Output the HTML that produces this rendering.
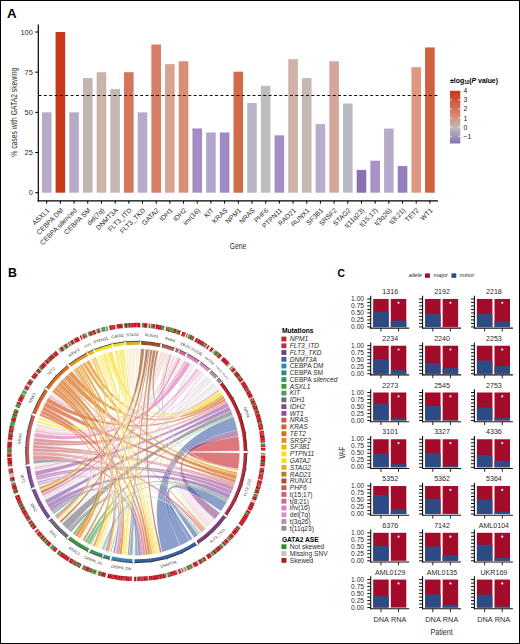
<!DOCTYPE html><html><head><meta charset="utf-8"><style>html,body{margin:0;padding:0;background:#fff;}body{width:520px;height:644px;overflow:hidden;position:relative;font-family:"Liberation Sans",sans-serif;}</style></head><body><svg width="520" height="644" viewBox="0 0 520 644" font-family='"Liberation Sans", sans-serif' style="position:absolute;left:0;top:0">
<rect x="0" y="0" width="520" height="644" fill="#fff"/>
<text x="7.1" y="17.6" font-size="12.1" font-weight="bold" fill="#000" textLength="9.6" lengthAdjust="spacingAndGlyphs">A</text>
<rect x="41.90" y="112.35" width="9.6" height="80.35" fill="#b6abc6"/>
<rect x="55.59" y="32.00" width="9.6" height="160.70" fill="#c8391b"/>
<rect x="69.27" y="112.35" width="9.6" height="80.35" fill="#b6abc6"/>
<rect x="82.96" y="78.12" width="9.6" height="114.58" fill="#c0b7b2"/>
<rect x="96.64" y="72.17" width="9.6" height="120.53" fill="#c9b4ab"/>
<rect x="110.33" y="89.05" width="9.6" height="103.65" fill="#c4b7b2"/>
<rect x="124.02" y="72.17" width="9.6" height="120.53" fill="#d5765a"/>
<rect x="137.70" y="112.35" width="9.6" height="80.35" fill="#b6a9cc"/>
<rect x="151.39" y="44.53" width="9.6" height="148.17" fill="#d77f66"/>
<rect x="165.07" y="64.14" width="9.6" height="128.56" fill="#d9a291"/>
<rect x="178.76" y="61.25" width="9.6" height="131.45" fill="#dc8b76"/>
<rect x="192.45" y="128.42" width="9.6" height="64.28" fill="#a48dc4"/>
<rect x="206.13" y="132.44" width="9.6" height="60.26" fill="#b3a4cc"/>
<rect x="219.82" y="132.44" width="9.6" height="60.26" fill="#a08ac3"/>
<rect x="233.50" y="71.69" width="9.6" height="121.01" fill="#d06a48"/>
<rect x="247.19" y="103.03" width="9.6" height="89.67" fill="#b7b4c5"/>
<rect x="260.88" y="85.83" width="9.6" height="106.87" fill="#bebcbd"/>
<rect x="274.56" y="135.33" width="9.6" height="57.37" fill="#a38dc5"/>
<rect x="288.25" y="59.16" width="9.6" height="133.54" fill="#cfb1a9"/>
<rect x="301.93" y="78.12" width="9.6" height="114.58" fill="#c6b7b2"/>
<rect x="315.62" y="124.08" width="9.6" height="68.62" fill="#b9abca"/>
<rect x="329.31" y="61.25" width="9.6" height="131.45" fill="#d7a69b"/>
<rect x="342.99" y="103.51" width="9.6" height="89.19" fill="#bab9c2"/>
<rect x="356.68" y="169.88" width="9.6" height="22.82" fill="#8a71b2"/>
<rect x="370.36" y="160.72" width="9.6" height="31.98" fill="#a892c8"/>
<rect x="384.05" y="128.58" width="9.6" height="64.12" fill="#b7abcb"/>
<rect x="397.74" y="166.02" width="9.6" height="26.68" fill="#9580bd"/>
<rect x="411.42" y="67.19" width="9.6" height="125.51" fill="#e09780"/>
<rect x="425.11" y="47.43" width="9.6" height="145.27" fill="#d0613e"/>
<line x1="38.5" y1="95.4" x2="438" y2="95.4" stroke="#111" stroke-width="1.05" stroke-dasharray="3 2.35"/>
<line x1="38.3" y1="24.4" x2="38.3" y2="201.4" stroke="#000" stroke-width="1.2"/>
<line x1="37.7" y1="200.85" x2="438" y2="200.85" stroke="#000" stroke-width="1.35"/>
<line x1="35.2" y1="192.70" x2="38.3" y2="192.70" stroke="#000" stroke-width="1"/>
<text x="32.8" y="195.30" font-size="7.4" text-anchor="end" fill="#2b2b2b">0</text>
<line x1="35.2" y1="152.52" x2="38.3" y2="152.52" stroke="#000" stroke-width="1"/>
<text x="32.8" y="155.12" font-size="7.4" text-anchor="end" fill="#2b2b2b">25</text>
<line x1="35.2" y1="112.35" x2="38.3" y2="112.35" stroke="#000" stroke-width="1"/>
<text x="32.8" y="114.95" font-size="7.4" text-anchor="end" fill="#2b2b2b">50</text>
<line x1="35.2" y1="72.17" x2="38.3" y2="72.17" stroke="#000" stroke-width="1"/>
<text x="32.8" y="74.77" font-size="7.4" text-anchor="end" fill="#2b2b2b">75</text>
<line x1="35.2" y1="32.00" x2="38.3" y2="32.00" stroke="#000" stroke-width="1"/>
<text x="32.8" y="34.60" font-size="7.4" text-anchor="end" fill="#2b2b2b">100</text>
<line x1="46.70" y1="200.8" x2="46.70" y2="203.7" stroke="#000" stroke-width="1"/>
<text transform="translate(50.00,210.80) rotate(-45)" font-size="6.8" text-anchor="end" fill="#2b2b2b">ASXL1</text>
<line x1="60.39" y1="200.8" x2="60.39" y2="203.7" stroke="#000" stroke-width="1"/>
<text transform="translate(63.69,210.80) rotate(-45)" font-size="6.8" text-anchor="end" fill="#2b2b2b">CEBPA DM</text>
<line x1="74.07" y1="200.8" x2="74.07" y2="203.7" stroke="#000" stroke-width="1"/>
<text transform="translate(77.37,210.80) rotate(-45)" font-size="6.8" text-anchor="end" fill="#2b2b2b">CEBPA silenced</text>
<line x1="87.76" y1="200.8" x2="87.76" y2="203.7" stroke="#000" stroke-width="1"/>
<text transform="translate(91.06,210.80) rotate(-45)" font-size="6.8" text-anchor="end" fill="#2b2b2b">CEBPA SM</text>
<line x1="101.44" y1="200.8" x2="101.44" y2="203.7" stroke="#000" stroke-width="1"/>
<text transform="translate(104.74,210.80) rotate(-45)" font-size="6.8" text-anchor="end" fill="#2b2b2b">del(7q)</text>
<line x1="115.13" y1="200.8" x2="115.13" y2="203.7" stroke="#000" stroke-width="1"/>
<text transform="translate(118.43,210.80) rotate(-45)" font-size="6.8" text-anchor="end" fill="#2b2b2b">DNMT3A</text>
<line x1="128.82" y1="200.8" x2="128.82" y2="203.7" stroke="#000" stroke-width="1"/>
<text transform="translate(132.12,210.80) rotate(-45)" font-size="6.8" text-anchor="end" fill="#2b2b2b">FLT3_ITD</text>
<line x1="142.50" y1="200.8" x2="142.50" y2="203.7" stroke="#000" stroke-width="1"/>
<text transform="translate(145.80,210.80) rotate(-45)" font-size="6.8" text-anchor="end" fill="#2b2b2b">FLT3_TKD</text>
<line x1="156.19" y1="200.8" x2="156.19" y2="203.7" stroke="#000" stroke-width="1"/>
<text transform="translate(159.49,210.80) rotate(-45)" font-size="6.8" text-anchor="end" fill="#2b2b2b">GATA2</text>
<line x1="169.87" y1="200.8" x2="169.87" y2="203.7" stroke="#000" stroke-width="1"/>
<text transform="translate(173.17,210.80) rotate(-45)" font-size="6.8" text-anchor="end" fill="#2b2b2b">IDH1</text>
<line x1="183.56" y1="200.8" x2="183.56" y2="203.7" stroke="#000" stroke-width="1"/>
<text transform="translate(186.86,210.80) rotate(-45)" font-size="6.8" text-anchor="end" fill="#2b2b2b">IDH2</text>
<line x1="197.25" y1="200.8" x2="197.25" y2="203.7" stroke="#000" stroke-width="1"/>
<text transform="translate(200.55,210.80) rotate(-45)" font-size="6.8" text-anchor="end" fill="#2b2b2b">inv(16)</text>
<line x1="210.93" y1="200.8" x2="210.93" y2="203.7" stroke="#000" stroke-width="1"/>
<text transform="translate(214.23,210.80) rotate(-45)" font-size="6.8" text-anchor="end" fill="#2b2b2b">KIT</text>
<line x1="224.62" y1="200.8" x2="224.62" y2="203.7" stroke="#000" stroke-width="1"/>
<text transform="translate(227.92,210.80) rotate(-45)" font-size="6.8" text-anchor="end" fill="#2b2b2b">KRAS</text>
<line x1="238.30" y1="200.8" x2="238.30" y2="203.7" stroke="#000" stroke-width="1"/>
<text transform="translate(241.60,210.80) rotate(-45)" font-size="6.8" text-anchor="end" fill="#2b2b2b">NPM1</text>
<line x1="251.99" y1="200.8" x2="251.99" y2="203.7" stroke="#000" stroke-width="1"/>
<text transform="translate(255.29,210.80) rotate(-45)" font-size="6.8" text-anchor="end" fill="#2b2b2b">NRAS</text>
<line x1="265.68" y1="200.8" x2="265.68" y2="203.7" stroke="#000" stroke-width="1"/>
<text transform="translate(268.98,210.80) rotate(-45)" font-size="6.8" text-anchor="end" fill="#2b2b2b">PHF6</text>
<line x1="279.36" y1="200.8" x2="279.36" y2="203.7" stroke="#000" stroke-width="1"/>
<text transform="translate(282.66,210.80) rotate(-45)" font-size="6.8" text-anchor="end" fill="#2b2b2b">PTPN11</text>
<line x1="293.05" y1="200.8" x2="293.05" y2="203.7" stroke="#000" stroke-width="1"/>
<text transform="translate(296.35,210.80) rotate(-45)" font-size="6.8" text-anchor="end" fill="#2b2b2b">RAD21</text>
<line x1="306.73" y1="200.8" x2="306.73" y2="203.7" stroke="#000" stroke-width="1"/>
<text transform="translate(310.03,210.80) rotate(-45)" font-size="6.8" text-anchor="end" fill="#2b2b2b">RUNX1</text>
<line x1="320.42" y1="200.8" x2="320.42" y2="203.7" stroke="#000" stroke-width="1"/>
<text transform="translate(323.72,210.80) rotate(-45)" font-size="6.8" text-anchor="end" fill="#2b2b2b">SF3B1</text>
<line x1="334.11" y1="200.8" x2="334.11" y2="203.7" stroke="#000" stroke-width="1"/>
<text transform="translate(337.41,210.80) rotate(-45)" font-size="6.8" text-anchor="end" fill="#2b2b2b">SRSF2</text>
<line x1="347.79" y1="200.8" x2="347.79" y2="203.7" stroke="#000" stroke-width="1"/>
<text transform="translate(351.09,210.80) rotate(-45)" font-size="6.8" text-anchor="end" fill="#2b2b2b">STAG2</text>
<line x1="361.48" y1="200.8" x2="361.48" y2="203.7" stroke="#000" stroke-width="1"/>
<text transform="translate(364.78,210.80) rotate(-45)" font-size="6.8" text-anchor="end" fill="#2b2b2b">t(11q23)</text>
<line x1="375.16" y1="200.8" x2="375.16" y2="203.7" stroke="#000" stroke-width="1"/>
<text transform="translate(378.46,210.80) rotate(-45)" font-size="6.8" text-anchor="end" fill="#2b2b2b">t(15;17)</text>
<line x1="388.85" y1="200.8" x2="388.85" y2="203.7" stroke="#000" stroke-width="1"/>
<text transform="translate(392.15,210.80) rotate(-45)" font-size="6.8" text-anchor="end" fill="#2b2b2b">t(3q26)</text>
<line x1="402.54" y1="200.8" x2="402.54" y2="203.7" stroke="#000" stroke-width="1"/>
<text transform="translate(405.84,210.80) rotate(-45)" font-size="6.8" text-anchor="end" fill="#2b2b2b">t(8;21)</text>
<line x1="416.22" y1="200.8" x2="416.22" y2="203.7" stroke="#000" stroke-width="1"/>
<text transform="translate(419.52,210.80) rotate(-45)" font-size="6.8" text-anchor="end" fill="#2b2b2b">TET2</text>
<line x1="429.91" y1="200.8" x2="429.91" y2="203.7" stroke="#000" stroke-width="1"/>
<text transform="translate(433.21,210.80) rotate(-45)" font-size="6.8" text-anchor="end" fill="#2b2b2b">WT1</text>
<text transform="translate(17.0,112.2) rotate(-90)" font-size="8.5" text-anchor="middle" fill="#2b2b2b" textLength="89" lengthAdjust="spacingAndGlyphs">% cases with GATA2 skewing</text>
<text x="238" y="248.8" font-size="9.5" text-anchor="middle" fill="#2b2b2b" textLength="16.3" lengthAdjust="spacingAndGlyphs">Gene</text>
<defs><linearGradient id="cb" x1="0" y1="0" x2="0" y2="1"><stop offset="0" stop-color="#c8361a"/><stop offset="0.5" stop-color="#d98d78"/><stop offset="0.7" stop-color="#bdbcbd"/><stop offset="1" stop-color="#8a72b8"/></linearGradient></defs>
<text x="450" y="82.5" font-size="6.9" font-weight="bold" fill="#000">±log<tspan font-size="4.6" dy="1.6">10</tspan><tspan dy="-1.6">(</tspan><tspan font-style="italic">P</tspan> value)</text>
<rect x="450" y="90.8" width="10.3" height="52.7" fill="url(#cb)"/>
<text x="463.6" y="93.20" font-size="6.8" fill="#222">4</text>
<line x1="450" y1="99.90" x2="452" y2="99.90" stroke="#fff" stroke-width="0.8"/>
<line x1="458.3" y1="99.90" x2="460.3" y2="99.90" stroke="#fff" stroke-width="0.8"/>
<text x="463.6" y="102.30" font-size="6.8" fill="#222">3</text>
<line x1="450" y1="109.00" x2="452" y2="109.00" stroke="#fff" stroke-width="0.8"/>
<line x1="458.3" y1="109.00" x2="460.3" y2="109.00" stroke="#fff" stroke-width="0.8"/>
<text x="463.6" y="111.40" font-size="6.8" fill="#222">2</text>
<line x1="450" y1="118.10" x2="452" y2="118.10" stroke="#fff" stroke-width="0.8"/>
<line x1="458.3" y1="118.10" x2="460.3" y2="118.10" stroke="#fff" stroke-width="0.8"/>
<text x="463.6" y="120.50" font-size="6.8" fill="#222">1</text>
<line x1="450" y1="127.20" x2="452" y2="127.20" stroke="#fff" stroke-width="0.8"/>
<line x1="458.3" y1="127.20" x2="460.3" y2="127.20" stroke="#fff" stroke-width="0.8"/>
<text x="463.6" y="129.60" font-size="6.8" fill="#222">0</text>
<line x1="450" y1="136.30" x2="452" y2="136.30" stroke="#fff" stroke-width="0.8"/>
<line x1="458.3" y1="136.30" x2="460.3" y2="136.30" stroke="#fff" stroke-width="0.8"/>
<text x="463.6" y="138.70" font-size="6.8" fill="#222">−1</text>
<g stroke="#fff" stroke-width="0.3" stroke-opacity="0.85">
<path d="M238.50,436.32 A103.4,103.4 0 0 1 239.70,451.10 Q136.3,452.0 239.70,452.90 A103.4,103.4 0 0 1 238.28,469.05 Q136.3,452.0 238.50,436.32Z" fill="#c81e27" fill-opacity="0.6"/>
<path d="M180.26,545.59 A103.4,103.4 0 0 1 162.07,552.14 Q136.3,452.0 233.44,416.57 A103.4,103.4 0 0 1 237.33,429.97 Q136.3,452.0 180.26,545.59Z" fill="#3d5fa6" fill-opacity="0.6"/>
<path d="M219.95,512.78 A103.4,103.4 0 0 1 214.85,519.24 Q136.3,452.0 237.33,429.97 A103.4,103.4 0 0 1 238.50,436.32 Q136.3,452.0 219.95,512.78Z" fill="#7b3b7c" fill-opacity="0.55"/>
<path d="M87.12,542.96 A103.4,103.4 0 0 1 84.60,541.55 Q136.3,452.0 232.83,414.93 A103.4,103.4 0 0 1 233.20,415.91 Q136.3,452.0 87.12,542.96Z" fill="#3c9a3c" fill-opacity="0.6"/>
<path d="M67.84,529.49 A103.4,103.4 0 0 1 61.89,523.79 Q136.3,452.0 231.04,410.57 A103.4,103.4 0 0 1 232.83,414.93 Q136.3,452.0 67.84,529.49Z" fill="#6b6b72" fill-opacity="0.6"/>
<path d="M47.03,504.17 A103.4,103.4 0 0 1 44.77,500.11 Q136.3,452.0 229.21,406.61 A103.4,103.4 0 0 1 231.04,410.57 Q136.3,452.0 47.03,504.17Z" fill="#7b4b9c" fill-opacity="0.6"/>
<path d="M35.77,476.19 A103.4,103.4 0 0 1 34.71,471.28 Q136.3,452.0 227.21,402.73 A103.4,103.4 0 0 1 229.21,406.61 Q136.3,452.0 35.77,476.19Z" fill="#9b4a9b" fill-opacity="0.6"/>
<path d="M33.15,444.74 A103.4,103.4 0 0 1 33.44,441.41 Q136.3,452.0 226.58,401.58 A103.4,103.4 0 0 1 227.21,402.73 Q136.3,452.0 33.15,444.74Z" fill="#c9585b" fill-opacity="0.6"/>
<path d="M33.44,441.41 A103.4,103.4 0 0 1 33.84,438.08 Q136.3,452.0 225.93,400.45 A103.4,103.4 0 0 1 226.58,401.58 Q136.3,452.0 33.44,441.41Z" fill="#c9585b" fill-opacity="0.6"/>
<path d="M45.78,402.03 A103.4,103.4 0 0 1 48.33,397.67 Q136.3,452.0 224.78,398.49 A103.4,103.4 0 0 1 225.93,400.45 Q136.3,452.0 45.78,402.03Z" fill="#d8602c" fill-opacity="0.72"/>
<path d="M68.19,374.20 A103.4,103.4 0 0 1 71.93,371.08 Q136.3,452.0 223.39,396.27 A103.4,103.4 0 0 1 224.78,398.49 Q136.3,452.0 68.19,374.20Z" fill="#d8711c" fill-opacity="0.72"/>
<path d="M86.01,361.65 A103.4,103.4 0 0 1 89.26,359.92 Q136.3,452.0 222.42,394.78 A103.4,103.4 0 0 1 223.39,396.27 Q136.3,452.0 86.01,361.65Z" fill="#e0901c" fill-opacity="0.72"/>
<path d="M107.68,352.64 A103.4,103.4 0 0 1 112.23,351.44 Q136.3,452.0 220.13,391.47 A103.4,103.4 0 0 1 222.25,394.51 Q136.3,452.0 107.68,352.64Z" fill="#f7e014" fill-opacity="0.7"/>
<path d="M124.21,349.31 A103.4,103.4 0 0 1 124.99,349.22 Q136.3,452.0 219.48,390.58 A103.4,103.4 0 0 1 219.75,390.94 Q136.3,452.0 124.21,349.31Z" fill="#f0e023" fill-opacity="0.6"/>
<path d="M193.49,365.85 A103.4,103.4 0 0 1 194.79,366.73 Q136.3,452.0 218.36,389.09 A103.4,103.4 0 0 1 218.81,389.68 Q136.3,452.0 193.49,365.85Z" fill="#e07fba" fill-opacity="0.22"/>
<path d="M203.34,373.28 A103.4,103.4 0 0 1 204.95,374.68 Q136.3,452.0 217.64,388.16 A103.4,103.4 0 0 1 218.28,388.98 Q136.3,452.0 203.34,373.28Z" fill="#d990c4" fill-opacity="0.22"/>
<path d="M210.18,379.65 A103.4,103.4 0 0 1 212.04,381.61 Q136.3,452.0 217.09,387.47 A103.4,103.4 0 0 1 217.64,388.16 Q136.3,452.0 210.18,379.65Z" fill="#b392a4" fill-opacity="0.22"/>
<path d="M215.04,384.98 A103.4,103.4 0 0 1 216.09,386.23 Q136.3,452.0 216.66,386.93 A103.4,103.4 0 0 1 217.09,387.47 Q136.3,452.0 215.04,384.98Z" fill="#919191" fill-opacity="0.22"/>
<path d="M189.46,540.69 A103.4,103.4 0 0 1 180.26,545.59 Q136.3,452.0 226.89,501.84 A103.4,103.4 0 0 1 221.00,511.31 Q136.3,452.0 189.46,540.69Z" fill="#3d5fa6" fill-opacity="0.6"/>
<path d="M192.62,538.72 A103.4,103.4 0 0 1 189.46,540.69 Q136.3,452.0 198.04,534.95 A103.4,103.4 0 0 1 194.12,537.72 Q136.3,452.0 192.62,538.72Z" fill="#3d5fa6" fill-opacity="0.6"/>
<path d="M62.79,379.28 A103.4,103.4 0 0 1 63.90,378.18 Q136.3,452.0 205.26,529.04 A103.4,103.4 0 0 1 204.23,529.95 Q136.3,452.0 62.79,379.28Z" fill="#d8711c" fill-opacity="0.72"/>
<path d="M90.97,544.94 A103.4,103.4 0 0 1 89.68,544.29 Q136.3,452.0 200.00,533.45 A103.4,103.4 0 0 1 199.13,534.12 Q136.3,452.0 90.97,544.94Z" fill="#3c9a3c" fill-opacity="0.6"/>
<path d="M89.68,544.29 A103.4,103.4 0 0 1 87.12,542.96 Q136.3,452.0 227.66,500.42 A103.4,103.4 0 0 1 226.89,501.84 Q136.3,452.0 89.68,544.29Z" fill="#3c9a3c" fill-opacity="0.6"/>
<path d="M69.28,530.74 A103.4,103.4 0 0 1 67.84,529.49 Q136.3,452.0 228.60,498.61 A103.4,103.4 0 0 1 227.66,500.42 Q136.3,452.0 69.28,530.74Z" fill="#6b6b72" fill-opacity="0.6"/>
<path d="M49.46,508.13 A103.4,103.4 0 0 1 47.03,504.17 Q136.3,452.0 230.77,494.04 A103.4,103.4 0 0 1 228.60,498.61 Q136.3,452.0 49.46,508.13Z" fill="#7b4b9c" fill-opacity="0.6"/>
<path d="M36.83,480.23 A103.4,103.4 0 0 1 36.28,478.22 Q136.3,452.0 232.35,490.30 A103.4,103.4 0 0 1 230.77,494.04 Q136.3,452.0 36.83,480.23Z" fill="#9b4a9b" fill-opacity="0.6"/>
<path d="M36.28,478.22 A103.4,103.4 0 0 1 35.77,476.19 Q136.3,452.0 233.77,486.50 A103.4,103.4 0 0 1 232.35,490.30 Q136.3,452.0 36.28,478.22Z" fill="#9b4a9b" fill-opacity="0.6"/>
<path d="M32.90,451.44 A103.4,103.4 0 0 1 32.97,448.09 Q136.3,452.0 234.43,484.58 A103.4,103.4 0 0 1 233.77,486.50 Q136.3,452.0 32.90,451.44Z" fill="#c9585b" fill-opacity="0.6"/>
<path d="M32.97,448.09 A103.4,103.4 0 0 1 33.15,444.74 Q136.3,452.0 235.05,482.65 A103.4,103.4 0 0 1 234.43,484.58 Q136.3,452.0 32.97,448.09Z" fill="#c9585b" fill-opacity="0.6"/>
<path d="M43.44,406.51 A103.4,103.4 0 0 1 45.78,402.03 Q136.3,452.0 235.91,479.73 A103.4,103.4 0 0 1 235.05,482.65 Q136.3,452.0 43.44,406.51Z" fill="#d8602c" fill-opacity="0.72"/>
<path d="M63.90,378.18 A103.4,103.4 0 0 1 68.19,374.20 Q136.3,452.0 237.15,474.82 A103.4,103.4 0 0 1 235.91,479.73 Q136.3,452.0 63.90,378.18Z" fill="#d8711c" fill-opacity="0.72"/>
<path d="M82.27,363.84 A103.4,103.4 0 0 1 85.45,361.97 Q136.3,452.0 237.69,472.29 A103.4,103.4 0 0 1 237.15,474.82 Q136.3,452.0 82.27,363.84Z" fill="#e0901c" fill-opacity="0.72"/>
<path d="M105.92,353.17 A103.4,103.4 0 0 1 107.42,352.72 Q136.3,452.0 238.03,470.49 A103.4,103.4 0 0 1 237.78,471.84 Q136.3,452.0 105.92,353.17Z" fill="#f7e014" fill-opacity="0.6"/>
<path d="M170.11,354.28 A103.4,103.4 0 0 1 171.72,354.86 Q136.3,452.0 238.25,469.23 A103.4,103.4 0 0 1 238.08,470.25 Q136.3,452.0 170.11,354.28Z" fill="#c06151" fill-opacity="0.6"/>
<path d="M191.55,364.60 A103.4,103.4 0 0 1 193.20,365.66 Q136.3,452.0 212.76,521.61 A103.4,103.4 0 0 1 211.17,523.31 Q136.3,452.0 191.55,364.60Z" fill="#e07fba" fill-opacity="0.22"/>
<path d="M167.72,353.49 A103.4,103.4 0 0 1 169.75,354.16 Q136.3,452.0 208.96,525.56 A103.4,103.4 0 0 1 207.28,527.19 Q136.3,452.0 167.72,353.49Z" fill="#c06151" fill-opacity="0.22"/>
<path d="M201.71,371.92 A103.4,103.4 0 0 1 203.34,373.28 Q136.3,452.0 214.85,519.24 A103.4,103.4 0 0 1 213.04,521.30 Q136.3,452.0 201.71,371.92Z" fill="#d990c4" fill-opacity="0.22"/>
<path d="M181.26,358.88 A103.4,103.4 0 0 1 182.67,359.58 Q136.3,452.0 210.89,523.61 A103.4,103.4 0 0 1 209.25,525.27 Q136.3,452.0 181.26,358.88Z" fill="#d96494" fill-opacity="0.22"/>
<path d="M137.35,348.61 A103.4,103.4 0 0 1 139.22,348.64 Q136.3,452.0 206.98,527.47 A103.4,103.4 0 0 1 205.26,529.04 Q136.3,452.0 137.35,348.61Z" fill="#d8b222" fill-opacity="0.22"/>
<path d="M37.30,481.84 A103.4,103.4 0 0 1 36.83,480.23 Q136.3,452.0 201.61,532.16 A103.4,103.4 0 0 1 200.00,533.45 Q136.3,452.0 37.30,481.84Z" fill="#9b4a9b" fill-opacity="0.22"/>
<path d="M32.97,455.91 A103.4,103.4 0 0 1 32.90,451.44 Q136.3,452.0 204.23,529.95 A103.4,103.4 0 0 1 201.61,532.16 Q136.3,452.0 32.97,455.91Z" fill="#c9585b" fill-opacity="0.5"/>
<path d="M132.69,555.34 A103.4,103.4 0 0 1 129.33,555.16 Q136.3,452.0 135.98,555.40 A103.4,103.4 0 0 1 134.50,555.38 Q136.3,452.0 132.69,555.34Z" fill="#3984b3" fill-opacity="0.6"/>
<path d="M71.23,532.36 A103.4,103.4 0 0 1 69.28,530.74 Q136.3,452.0 138.22,555.38 A103.4,103.4 0 0 1 135.98,555.40 Q136.3,452.0 71.23,532.36Z" fill="#6b6b72" fill-opacity="0.6"/>
<path d="M51.18,510.71 A103.4,103.4 0 0 1 49.46,508.13 Q136.3,452.0 141.20,555.28 A103.4,103.4 0 0 1 138.22,555.38 Q136.3,452.0 51.18,510.71Z" fill="#7b4b9c" fill-opacity="0.6"/>
<path d="M37.80,483.44 A103.4,103.4 0 0 1 37.30,481.84 Q136.3,452.0 142.68,555.20 A103.4,103.4 0 0 1 141.20,555.28 Q136.3,452.0 37.80,483.44Z" fill="#9b4a9b" fill-opacity="0.6"/>
<path d="M33.24,460.37 A103.4,103.4 0 0 1 32.97,455.91 Q136.3,452.0 145.65,554.98 A103.4,103.4 0 0 1 142.68,555.20 Q136.3,452.0 33.24,460.37Z" fill="#c9585b" fill-opacity="0.6"/>
<path d="M41.84,409.94 A103.4,103.4 0 0 1 43.44,406.51 Q136.3,452.0 147.87,554.75 A103.4,103.4 0 0 1 145.65,554.98 Q136.3,452.0 41.84,409.94Z" fill="#d8602c" fill-opacity="0.72"/>
<path d="M60.10,382.11 A103.4,103.4 0 0 1 62.79,379.28 Q136.3,452.0 150.83,554.37 A103.4,103.4 0 0 1 147.87,554.75 Q136.3,452.0 60.10,382.11Z" fill="#d8711c" fill-opacity="0.72"/>
<path d="M79.53,365.58 A103.4,103.4 0 0 1 81.86,364.09 Q136.3,452.0 152.71,554.09 A103.4,103.4 0 0 1 150.83,554.37 Q136.3,452.0 79.53,365.58Z" fill="#e0901c" fill-opacity="0.72"/>
<path d="M103.28,354.01 A103.4,103.4 0 0 1 105.52,353.29 Q136.3,452.0 156.37,553.43 A103.4,103.4 0 0 1 154.51,553.78 Q136.3,452.0 103.28,354.01Z" fill="#f7e014" fill-opacity="0.7"/>
<path d="M121.98,349.60 A103.4,103.4 0 0 1 123.87,349.35 Q136.3,452.0 158.19,553.06 A103.4,103.4 0 0 1 156.70,553.37 Q136.3,452.0 121.98,349.60Z" fill="#f0e023" fill-opacity="0.7"/>
<path d="M135.16,348.61 A103.4,103.4 0 0 1 137.02,348.60 Q136.3,452.0 159.68,552.72 A103.4,103.4 0 0 1 158.45,553.00 Q136.3,452.0 135.16,348.61Z" fill="#d8b222" fill-opacity="0.22"/>
<path d="M152.89,349.94 A103.4,103.4 0 0 1 155.80,350.45 Q136.3,452.0 161.75,552.22 A103.4,103.4 0 0 1 159.90,552.67 Q136.3,452.0 152.89,349.94Z" fill="#a25224" fill-opacity="0.7"/>
<path d="M156.31,350.55 A103.4,103.4 0 0 1 158.47,351.01 Q136.3,452.0 218.90,389.80 A103.4,103.4 0 0 1 219.43,390.52 Q136.3,452.0 156.31,350.55Z" fill="#a25224" fill-opacity="0.7"/>
<path d="M97.23,356.26 A103.4,103.4 0 0 1 98.52,355.75 Q136.3,452.0 38.18,419.39 A103.4,103.4 0 0 1 38.83,417.48 Q136.3,452.0 97.23,356.26Z" fill="#f7e014" fill-opacity="0.7"/>
<path d="M99.38,355.42 A103.4,103.4 0 0 1 100.67,354.93 Q136.3,452.0 37.17,422.58 A103.4,103.4 0 0 1 37.76,420.66 Q136.3,452.0 99.38,355.42Z" fill="#f7e014" fill-opacity="0.7"/>
<path d="M186.39,361.54 A103.4,103.4 0 0 1 190.79,364.12 Q136.3,452.0 33.96,437.25 A103.4,103.4 0 0 1 34.74,432.57 Q136.3,452.0 186.39,361.54Z" fill="#e07fba" fill-opacity="0.7"/>
<path d="M56.00,517.15 A103.4,103.4 0 0 1 54.82,515.66 Q136.3,452.0 33.56,463.71 A103.4,103.4 0 0 1 33.24,460.37 Q136.3,452.0 56.00,517.15Z" fill="#6b6b72" fill-opacity="0.6"/>
<path d="M184.36,360.45 A103.4,103.4 0 0 1 186.09,361.38 Q136.3,452.0 48.53,397.34 A103.4,103.4 0 0 1 49.68,395.53 Q136.3,452.0 184.36,360.45Z" fill="#e07fba" fill-opacity="0.6"/>
<path d="M196.64,368.03 A103.4,103.4 0 0 1 199.20,369.93 Q136.3,452.0 34.41,469.63 A103.4,103.4 0 0 1 34.02,467.15 Q136.3,452.0 196.64,368.03Z" fill="#d990c4" fill-opacity="0.55"/>
<path d="M178.73,357.71 A103.4,103.4 0 0 1 180.88,358.70 Q136.3,452.0 42.84,496.23 A103.4,103.4 0 0 1 41.74,493.83 Q136.3,452.0 178.73,357.71Z" fill="#d96494" fill-opacity="0.6"/>
<path d="M165.31,352.75 A103.4,103.4 0 0 1 167.36,353.37 Q136.3,452.0 33.98,466.91 A103.4,103.4 0 0 1 33.78,465.50 Q136.3,452.0 165.31,352.75Z" fill="#c06151" fill-opacity="0.22"/>
<path d="M140.81,348.70 A103.4,103.4 0 0 1 144.49,348.93 Q136.3,452.0 41.55,493.41 A103.4,103.4 0 0 1 40.53,490.98 Q136.3,452.0 140.81,348.70Z" fill="#a25224" fill-opacity="0.7"/>
<path d="M148.59,349.33 A103.4,103.4 0 0 1 150.06,349.52 Q136.3,452.0 84.29,541.37 A103.4,103.4 0 0 1 82.53,540.32 Q136.3,452.0 148.59,349.33Z" fill="#a25224" fill-opacity="0.6"/>
<path d="M150.32,349.55 A103.4,103.4 0 0 1 152.51,349.88 Q136.3,452.0 129.08,555.15 A103.4,103.4 0 0 1 127.65,555.04 Q136.3,452.0 150.32,349.55Z" fill="#a25224" fill-opacity="0.7"/>
<path d="M57.52,385.03 A103.4,103.4 0 0 1 60.10,382.11 Q136.3,452.0 121.80,554.38 A103.4,103.4 0 0 1 119.31,553.99 Q136.3,452.0 57.52,385.03Z" fill="#d8711c" fill-opacity="0.72"/>
<path d="M53.85,389.60 A103.4,103.4 0 0 1 56.27,386.53 Q136.3,452.0 77.49,537.04 A103.4,103.4 0 0 1 74.55,534.94 Q136.3,452.0 53.85,389.60Z" fill="#d8711c" fill-opacity="0.72"/>
<path d="M52.12,391.96 A103.4,103.4 0 0 1 53.85,389.60 Q136.3,452.0 39.96,489.54 A103.4,103.4 0 0 1 39.14,487.36 Q136.3,452.0 52.12,391.96Z" fill="#d8711c" fill-opacity="0.72"/>
<path d="M75.09,368.67 A103.4,103.4 0 0 1 77.33,367.06 Q136.3,452.0 80.03,538.75 A103.4,103.4 0 0 1 77.49,537.04 Q136.3,452.0 75.09,368.67Z" fill="#e0901c" fill-opacity="0.72"/>
<path d="M77.73,366.79 A103.4,103.4 0 0 1 79.26,365.76 Q136.3,452.0 95.05,546.82 A103.4,103.4 0 0 1 92.60,545.71 Q136.3,452.0 77.73,366.79Z" fill="#e0901c" fill-opacity="0.72"/>
<path d="M73.35,369.97 A103.4,103.4 0 0 1 74.82,368.86 Q136.3,452.0 57.50,518.95 A103.4,103.4 0 0 1 56.81,518.13 Q136.3,452.0 73.35,369.97Z" fill="#e0901c" fill-opacity="0.72"/>
<path d="M40.36,413.43 A103.4,103.4 0 0 1 41.84,409.94 Q136.3,452.0 119.31,553.99 A103.4,103.4 0 0 1 117.65,553.70 Q136.3,452.0 40.36,413.43Z" fill="#d8602c" fill-opacity="0.72"/>
<path d="M39.45,415.79 A103.4,103.4 0 0 1 40.36,413.43 Q136.3,452.0 56.81,518.13 A103.4,103.4 0 0 1 56.00,517.15 Q136.3,452.0 39.45,415.79Z" fill="#d8602c" fill-opacity="0.72"/>
<path d="M119.22,350.02 A103.4,103.4 0 0 1 121.57,349.65 Q136.3,452.0 125.60,554.85 A103.4,103.4 0 0 1 123.47,554.60 Q136.3,452.0 119.22,350.02Z" fill="#f0e023" fill-opacity="0.7"/>
<path d="M116.28,350.56 A103.4,103.4 0 0 1 117.84,350.26 Q136.3,452.0 97.96,548.03 A103.4,103.4 0 0 1 95.48,547.00 Q136.3,452.0 116.28,350.56Z" fill="#f0e023" fill-opacity="0.7"/>
<path d="M101.54,354.62 A103.4,103.4 0 0 1 103.02,354.10 Q136.3,452.0 123.22,554.57 A103.4,103.4 0 0 1 121.80,554.38 Q136.3,452.0 101.54,354.62Z" fill="#f7e014" fill-opacity="0.7"/>
<path d="M132.96,348.65 A103.4,103.4 0 0 1 134.83,348.61 Q136.3,452.0 127.40,555.02 A103.4,103.4 0 0 1 125.98,554.88 Q136.3,452.0 132.96,348.65Z" fill="#d8b222" fill-opacity="0.22"/>
<path d="M126.39,349.08 A103.4,103.4 0 0 1 128.25,348.91 Q136.3,452.0 59.17,520.86 A103.4,103.4 0 0 1 58.46,520.06 Q136.3,452.0 126.39,349.08Z" fill="#d8b222" fill-opacity="0.22"/>
<path d="M128.58,348.89 A103.4,103.4 0 0 1 130.44,348.77 Q136.3,452.0 82.22,540.13 A103.4,103.4 0 0 1 80.49,539.04 Q136.3,452.0 128.58,348.89Z" fill="#d8b222" fill-opacity="0.22"/>
<path d="M130.77,348.75 A103.4,103.4 0 0 1 132.63,348.67 Q136.3,452.0 100.91,549.16 A103.4,103.4 0 0 1 98.40,548.21 Q136.3,452.0 130.77,348.75Z" fill="#d8b222" fill-opacity="0.22"/>
<path d="M61.01,522.87 A103.4,103.4 0 0 1 59.55,521.29 Q136.3,452.0 145.66,349.02 A103.4,103.4 0 0 1 148.59,349.33 Q136.3,452.0 61.01,522.87Z" fill="#a25224" fill-opacity="0.7"/>
<path d="M58.46,520.06 A103.4,103.4 0 0 1 57.75,519.24 Q136.3,452.0 114.72,350.88 A103.4,103.4 0 0 1 116.28,350.56 Q136.3,452.0 58.46,520.06Z" fill="#f0e023" fill-opacity="0.7"/>
<path d="M104.35,550.34 A103.4,103.4 0 0 1 101.36,549.32 Q136.3,452.0 199.13,534.12 A103.4,103.4 0 0 1 198.04,534.95 Q136.3,452.0 104.35,550.34Z" fill="#34995b" fill-opacity="0.4"/>
<path d="M111.29,552.33 A103.4,103.4 0 0 1 110.36,552.09 Q136.3,452.0 233.20,415.91 A103.4,103.4 0 0 1 233.44,416.57 Q136.3,452.0 111.29,552.33Z" fill="#2c8a83" fill-opacity="0.6"/>
<path d="M56.27,386.53 A103.4,103.4 0 0 1 57.52,385.03 Q136.3,452.0 108.88,551.70 A103.4,103.4 0 0 1 107.04,551.17 Q136.3,452.0 56.27,386.53Z" fill="#d8711c" fill-opacity="0.72"/>
<path d="M118.11,350.21 A103.4,103.4 0 0 1 119.05,350.05 Q136.3,452.0 110.14,552.03 A103.4,103.4 0 0 1 108.88,551.70 Q136.3,452.0 118.11,350.21Z" fill="#f0e023" fill-opacity="0.7"/>
<path d="M52.80,512.98 A103.4,103.4 0 0 1 52.07,511.98 Q136.3,452.0 107.04,551.17 A103.4,103.4 0 0 1 105.21,550.61 Q136.3,452.0 52.80,512.98Z" fill="#7b4b9c" fill-opacity="0.6"/>
<path d="M52.07,511.98 A103.4,103.4 0 0 1 51.18,510.71 Q136.3,452.0 115.01,553.18 A103.4,103.4 0 0 1 113.04,552.75 Q136.3,452.0 52.07,511.98Z" fill="#7b4b9c" fill-opacity="0.6"/>
<path d="M38.53,485.66 A103.4,103.4 0 0 1 38.11,484.39 Q136.3,452.0 117.65,553.70 A103.4,103.4 0 0 1 116.00,553.39 Q136.3,452.0 38.53,485.66Z" fill="#9b4a9b" fill-opacity="0.6"/>
<path d="M74.55,534.94 A103.4,103.4 0 0 1 72.64,533.48 Q136.3,452.0 53.72,514.23 A103.4,103.4 0 0 1 52.80,512.98 Q136.3,452.0 74.55,534.94Z" fill="#3c9a3c" fill-opacity="0.6"/>
<path d="M116.00,553.39 A103.4,103.4 0 0 1 115.01,553.18 Q136.3,452.0 38.11,484.39 A103.4,103.4 0 0 1 37.80,483.44 Q136.3,452.0 116.00,553.39Z" fill="#3984b3" fill-opacity="0.3"/>
<path d="M90.97,359.06 A103.4,103.4 0 0 1 93.42,357.91 Q136.3,452.0 40.53,490.98 A103.4,103.4 0 0 1 39.96,489.54 Q136.3,452.0 90.97,359.06Z" fill="#efb314" fill-opacity="0.6"/>
<path d="M93.42,357.91 A103.4,103.4 0 0 1 95.90,356.82 Q136.3,452.0 154.51,553.78 A103.4,103.4 0 0 1 153.04,554.04 Q136.3,452.0 93.42,357.91Z" fill="#efb314" fill-opacity="0.6"/>
<path d="M162.88,352.07 A103.4,103.4 0 0 1 164.94,352.65 Q136.3,452.0 36.06,426.62 A103.4,103.4 0 0 1 36.80,423.87 Q136.3,452.0 162.88,352.07Z" fill="#c06151" fill-opacity="0.22"/>
<path d="M177.03,356.96 A103.4,103.4 0 0 1 178.48,357.59 Q136.3,452.0 34.84,432.07 A103.4,103.4 0 0 1 35.43,429.28 Q136.3,452.0 177.03,356.96Z" fill="#d96494" fill-opacity="0.4"/>
<path d="M199.20,369.93 A103.4,103.4 0 0 1 201.71,371.92 Q136.3,452.0 44.06,498.73 A103.4,103.4 0 0 1 43.04,496.65 Q136.3,452.0 199.20,369.93Z" fill="#d990c4" fill-opacity="0.35"/>
<path d="M208.26,377.75 A103.4,103.4 0 0 1 210.18,379.65 Q136.3,452.0 61.89,523.79 A103.4,103.4 0 0 1 61.01,522.87 Q136.3,452.0 208.26,377.75Z" fill="#b392a4" fill-opacity="0.22"/>
<path d="M206.29,375.89 A103.4,103.4 0 0 1 208.26,377.75 Q136.3,452.0 34.71,471.28 A103.4,103.4 0 0 1 34.41,469.63 Q136.3,452.0 206.29,375.89Z" fill="#b392a4" fill-opacity="0.22"/>
<path d="M173.36,355.47 A103.4,103.4 0 0 1 176.04,356.54 Q136.3,452.0 35.43,429.28 A103.4,103.4 0 0 1 35.94,427.11 Q136.3,452.0 173.36,355.47Z" fill="#d06073" fill-opacity="0.22"/>
<path d="M213.26,382.95 A103.4,103.4 0 0 1 215.04,384.98 Q136.3,452.0 44.77,500.11 A103.4,103.4 0 0 1 44.06,498.73 Q136.3,452.0 213.26,382.95Z" fill="#919191" fill-opacity="0.22"/>
<path d="M160.44,351.46 A103.4,103.4 0 0 1 162.51,351.98 Q136.3,452.0 49.89,395.22 A103.4,103.4 0 0 1 51.09,393.43 Q136.3,452.0 160.44,351.46Z" fill="#c06151" fill-opacity="0.22"/>
</g>
<path d="M220.93,383.47 A108.9,108.9 0 0 1 245.20,451.05" fill="none" stroke="#c81e27" stroke-width="3.1"/>
<path d="M222.33,382.33 A110.7,110.7 0 0 1 247.00,451.03" fill="none" stroke="#111" stroke-width="0.75"/>
<line x1="222.33" y1="382.33" x2="223.50" y2="381.39" stroke="#333" stroke-width="0.4"/>
<line x1="232.77" y1="397.70" x2="234.07" y2="396.96" stroke="#333" stroke-width="0.4"/>
<line x1="240.49" y1="414.59" x2="241.90" y2="414.09" stroke="#333" stroke-width="0.4"/>
<line x1="245.28" y1="432.54" x2="246.75" y2="432.28" stroke="#333" stroke-width="0.4"/>
<line x1="247.00" y1="451.03" x2="248.50" y2="451.02" stroke="#333" stroke-width="0.4"/>
<text transform="translate(246.42,412.46) rotate(430.25)" font-size="4.0" text-anchor="middle" dominant-baseline="middle" fill="#333">NPM1</text>
<path d="M245.20,452.95 A108.9,108.9 0 0 1 225.51,514.46" fill="none" stroke="#b42e48" stroke-width="3.1"/>
<path d="M247.00,452.97 A110.7,110.7 0 0 1 226.98,515.49" fill="none" stroke="#111" stroke-width="0.75"/>
<line x1="247.00" y1="452.97" x2="248.50" y2="452.98" stroke="#333" stroke-width="0.4"/>
<line x1="245.60" y1="469.56" x2="247.08" y2="469.79" stroke="#333" stroke-width="0.4"/>
<line x1="241.73" y1="485.75" x2="243.16" y2="486.21" stroke="#333" stroke-width="0.4"/>
<line x1="235.48" y1="501.18" x2="236.82" y2="501.84" stroke="#333" stroke-width="0.4"/>
<line x1="226.98" y1="515.49" x2="228.21" y2="516.36" stroke="#333" stroke-width="0.4"/>
<text transform="translate(247.73,487.67) rotate(-72.25)" font-size="4.0" text-anchor="middle" dominant-baseline="middle" fill="#333">FLT3_ITD</text>
<path d="M224.40,516.01 A108.9,108.9 0 0 1 197.20,542.28" fill="none" stroke="#7b3b7c" stroke-width="3.1"/>
<path d="M225.86,517.07 A110.7,110.7 0 0 1 198.20,543.77" fill="none" stroke="#111" stroke-width="0.75"/>
<line x1="225.86" y1="517.07" x2="227.07" y2="517.95" stroke="#333" stroke-width="0.4"/>
<line x1="213.20" y1="531.63" x2="214.24" y2="532.71" stroke="#333" stroke-width="0.4"/>
<line x1="198.20" y1="543.77" x2="199.04" y2="545.02" stroke="#333" stroke-width="0.4"/>
<text transform="translate(217.58,536.16) rotate(-44.00)" font-size="4.0" text-anchor="middle" dominant-baseline="middle" fill="#333">FLT3_TKD</text>
<path d="M195.61,543.33 A108.9,108.9 0 0 1 134.40,560.88" fill="none" stroke="#3d5fa6" stroke-width="3.1"/>
<path d="M196.59,544.84 A110.7,110.7 0 0 1 134.37,562.68" fill="none" stroke="#111" stroke-width="0.75"/>
<line x1="196.59" y1="544.84" x2="197.41" y2="546.10" stroke="#333" stroke-width="0.4"/>
<line x1="182.21" y1="552.73" x2="182.83" y2="554.10" stroke="#333" stroke-width="0.4"/>
<line x1="166.81" y1="558.41" x2="167.23" y2="559.85" stroke="#333" stroke-width="0.4"/>
<line x1="150.75" y1="561.75" x2="150.95" y2="563.24" stroke="#333" stroke-width="0.4"/>
<line x1="134.37" y1="562.68" x2="134.34" y2="564.18" stroke="#333" stroke-width="0.4"/>
<text transform="translate(168.55,564.47) rotate(-16.00)" font-size="4.0" text-anchor="middle" dominant-baseline="middle" fill="#333">DNMT3A</text>
<path d="M132.50,560.83 A108.9,108.9 0 0 1 111.80,558.11" fill="none" stroke="#3984b3" stroke-width="3.1"/>
<path d="M132.44,562.63 A110.7,110.7 0 0 1 111.40,559.86" fill="none" stroke="#111" stroke-width="0.75"/>
<line x1="132.44" y1="562.63" x2="132.38" y2="564.13" stroke="#333" stroke-width="0.4"/>
<line x1="111.40" y1="559.86" x2="111.06" y2="561.32" stroke="#333" stroke-width="0.4"/>
<text transform="translate(121.03,568.00) rotate(7.50)" font-size="3.8" text-anchor="middle" dominant-baseline="middle" fill="#333">CEBPA_DM</text>
<path d="M109.95,557.67 A108.9,108.9 0 0 1 103.55,555.86" fill="none" stroke="#2c8a83" stroke-width="3.1"/>
<path d="M109.52,559.41 A110.7,110.7 0 0 1 103.01,557.58" fill="none" stroke="#111" stroke-width="0.75"/>
<line x1="109.52" y1="559.41" x2="109.16" y2="560.87" stroke="#333" stroke-width="0.4"/>
<line x1="103.01" y1="557.58" x2="102.56" y2="559.01" stroke="#333" stroke-width="0.4"/>
<path d="M102.65,555.57 A108.9,108.9 0 0 1 90.28,550.70" fill="none" stroke="#34995b" stroke-width="3.1"/>
<path d="M102.09,557.28 A110.7,110.7 0 0 1 89.52,552.33" fill="none" stroke="#111" stroke-width="0.75"/>
<line x1="102.09" y1="557.28" x2="101.63" y2="558.71" stroke="#333" stroke-width="0.4"/>
<line x1="89.52" y1="552.33" x2="88.88" y2="553.69" stroke="#333" stroke-width="0.4"/>
<text transform="translate(93.42,560.86) rotate(21.50)" font-size="3.6" text-anchor="middle" dominant-baseline="middle" fill="#333">CEBPA_SIL</text>
<path d="M88.56,549.88 A108.9,108.9 0 0 1 69.25,537.81" fill="none" stroke="#3c9a3c" stroke-width="3.1"/>
<path d="M87.77,551.50 A110.7,110.7 0 0 1 68.15,539.23" fill="none" stroke="#111" stroke-width="0.75"/>
<line x1="87.77" y1="551.50" x2="87.11" y2="552.84" stroke="#333" stroke-width="0.4"/>
<line x1="68.15" y1="539.23" x2="67.22" y2="540.41" stroke="#333" stroke-width="0.4"/>
<text transform="translate(74.30,551.22) rotate(32.00)" font-size="4.0" text-anchor="middle" dominant-baseline="middle" fill="#333">ASXL1</text>
<path d="M67.77,536.63 A108.9,108.9 0 0 1 50.49,519.05" fill="none" stroke="#6b6b72" stroke-width="3.1"/>
<path d="M66.63,538.03 A110.7,110.7 0 0 1 49.07,520.15" fill="none" stroke="#111" stroke-width="0.75"/>
<line x1="66.63" y1="538.03" x2="65.69" y2="539.20" stroke="#333" stroke-width="0.4"/>
<line x1="49.07" y1="520.15" x2="47.89" y2="521.08" stroke="#333" stroke-width="0.4"/>
<text transform="translate(52.85,534.01) rotate(45.50)" font-size="4.0" text-anchor="middle" dominant-baseline="middle" fill="#333">IDH1</text>
<path d="M49.33,517.54 A108.9,108.9 0 0 1 33.97,489.25" fill="none" stroke="#7b4b9c" stroke-width="3.1"/>
<path d="M47.89,518.62 A110.7,110.7 0 0 1 32.28,489.86" fill="none" stroke="#111" stroke-width="0.75"/>
<line x1="47.89" y1="518.62" x2="46.69" y2="519.52" stroke="#333" stroke-width="0.4"/>
<line x1="39.01" y1="504.82" x2="37.70" y2="505.54" stroke="#333" stroke-width="0.4"/>
<line x1="32.28" y1="489.86" x2="30.87" y2="490.37" stroke="#333" stroke-width="0.4"/>
<text transform="translate(33.48,507.83) rotate(61.50)" font-size="4.0" text-anchor="middle" dominant-baseline="middle" fill="#333">IDH2</text>
<path d="M33.33,487.45 A108.9,108.9 0 0 1 28.33,466.21" fill="none" stroke="#9b4a9b" stroke-width="3.1"/>
<path d="M31.63,488.04 A110.7,110.7 0 0 1 26.55,466.45" fill="none" stroke="#111" stroke-width="0.75"/>
<line x1="31.63" y1="488.04" x2="30.21" y2="488.53" stroke="#333" stroke-width="0.4"/>
<line x1="26.55" y1="466.45" x2="25.06" y2="466.65" stroke="#333" stroke-width="0.4"/>
<text transform="translate(22.41,478.82) rotate(76.75)" font-size="4.0" text-anchor="middle" dominant-baseline="middle" fill="#333">WT1</text>
<path d="M28.10,464.33 A108.9,108.9 0 0 1 33.65,415.65" fill="none" stroke="#c9585b" stroke-width="3.1"/>
<path d="M26.31,464.53 A110.7,110.7 0 0 1 31.95,415.05" fill="none" stroke="#111" stroke-width="0.75"/>
<line x1="26.31" y1="464.53" x2="24.82" y2="464.70" stroke="#333" stroke-width="0.4"/>
<line x1="25.68" y1="447.81" x2="24.18" y2="447.76" stroke="#333" stroke-width="0.4"/>
<line x1="27.57" y1="431.19" x2="26.10" y2="430.91" stroke="#333" stroke-width="0.4"/>
<line x1="31.95" y1="415.05" x2="30.54" y2="414.55" stroke="#333" stroke-width="0.4"/>
<text transform="translate(20.05,438.76) rotate(276.50)" font-size="4.0" text-anchor="middle" dominant-baseline="middle" fill="#333">NRAS</text>
<path d="M34.30,413.86 A108.9,108.9 0 0 1 46.55,390.32" fill="none" stroke="#d8602c" stroke-width="3.1"/>
<path d="M32.61,413.23 A110.7,110.7 0 0 1 45.07,389.30" fill="none" stroke="#111" stroke-width="0.75"/>
<line x1="32.61" y1="413.23" x2="31.21" y2="412.71" stroke="#333" stroke-width="0.4"/>
<line x1="45.07" y1="389.30" x2="43.83" y2="388.45" stroke="#333" stroke-width="0.4"/>
<text transform="translate(32.52,397.98) rotate(297.50)" font-size="4.0" text-anchor="middle" dominant-baseline="middle" fill="#333">KRAS</text>
<path d="M47.64,388.76 A108.9,108.9 0 0 1 68.51,366.77" fill="none" stroke="#d8711c" stroke-width="3.1"/>
<path d="M46.18,387.72 A110.7,110.7 0 0 1 67.39,365.37" fill="none" stroke="#111" stroke-width="0.75"/>
<line x1="46.18" y1="387.72" x2="44.96" y2="386.85" stroke="#333" stroke-width="0.4"/>
<line x1="56.00" y1="375.80" x2="54.91" y2="374.77" stroke="#333" stroke-width="0.4"/>
<line x1="67.39" y1="365.37" x2="66.45" y2="364.19" stroke="#333" stroke-width="0.4"/>
<text transform="translate(51.43,371.46) rotate(313.50)" font-size="4.0" text-anchor="middle" dominant-baseline="middle" fill="#333">TET2</text>
<path d="M70.01,365.60 A108.9,108.9 0 0 1 87.37,354.71" fill="none" stroke="#e0901c" stroke-width="3.1"/>
<path d="M68.91,364.18 A110.7,110.7 0 0 1 86.56,353.10" fill="none" stroke="#111" stroke-width="0.75"/>
<line x1="68.91" y1="364.18" x2="68.00" y2="362.99" stroke="#333" stroke-width="0.4"/>
<line x1="86.56" y1="353.10" x2="85.89" y2="351.76" stroke="#333" stroke-width="0.4"/>
<text transform="translate(74.13,352.89) rotate(327.90)" font-size="4.0" text-anchor="middle" dominant-baseline="middle" fill="#333">SRSF2</text>
<path d="M88.56,354.12 A108.9,108.9 0 0 1 93.75,351.76" fill="none" stroke="#efb314" stroke-width="3.1"/>
<path d="M87.77,352.50 A110.7,110.7 0 0 1 93.05,350.10" fill="none" stroke="#111" stroke-width="0.75"/>
<line x1="87.77" y1="352.50" x2="87.11" y2="351.16" stroke="#333" stroke-width="0.4"/>
<line x1="93.05" y1="350.10" x2="92.46" y2="348.72" stroke="#333" stroke-width="0.4"/>
<text transform="translate(87.78,345.53) rotate(335.50)" font-size="2.6" text-anchor="middle" dominant-baseline="middle" fill="#333">SF3B1</text>
<path d="M95.15,351.17 A108.9,108.9 0 0 1 111.80,345.89" fill="none" stroke="#f7e014" stroke-width="3.1"/>
<path d="M94.47,349.51 A110.7,110.7 0 0 1 111.40,344.14" fill="none" stroke="#111" stroke-width="0.75"/>
<line x1="94.47" y1="349.51" x2="93.91" y2="348.12" stroke="#333" stroke-width="0.4"/>
<line x1="111.40" y1="344.14" x2="111.06" y2="342.68" stroke="#333" stroke-width="0.4"/>
<text transform="translate(100.92,340.48) rotate(342.40)" font-size="4.0" text-anchor="middle" dominant-baseline="middle" fill="#333">PTPN11</text>
<path d="M113.29,345.56 A108.9,108.9 0 0 1 124.54,343.74" fill="none" stroke="#f0e023" stroke-width="3.1"/>
<path d="M112.91,343.80 A110.7,110.7 0 0 1 124.34,341.95" fill="none" stroke="#111" stroke-width="0.75"/>
<line x1="112.91" y1="343.80" x2="112.59" y2="342.33" stroke="#333" stroke-width="0.4"/>
<line x1="124.34" y1="341.95" x2="124.18" y2="340.46" stroke="#333" stroke-width="0.4"/>
<text transform="translate(117.59,336.51) rotate(350.80)" font-size="4.0" text-anchor="middle" dominant-baseline="middle" fill="#333">GATA2</text>
<path d="M125.86,343.60 A108.9,108.9 0 0 1 139.72,343.15" fill="none" stroke="#d8b222" stroke-width="3.1"/>
<path d="M125.69,341.81 A110.7,110.7 0 0 1 139.78,341.35" fill="none" stroke="#111" stroke-width="0.75"/>
<line x1="125.69" y1="341.81" x2="125.55" y2="340.32" stroke="#333" stroke-width="0.4"/>
<line x1="139.78" y1="341.35" x2="139.82" y2="339.86" stroke="#333" stroke-width="0.4"/>
<text transform="translate(132.52,335.06) rotate(358.15)" font-size="4.0" text-anchor="middle" dominant-baseline="middle" fill="#333">STAG2</text>
<path d="M141.05,343.20 A108.9,108.9 0 0 1 160.06,345.72" fill="none" stroke="#a25224" stroke-width="3.1"/>
<path d="M141.13,341.41 A110.7,110.7 0 0 1 160.45,343.97" fill="none" stroke="#111" stroke-width="0.75"/>
<line x1="141.13" y1="341.41" x2="141.19" y2="339.91" stroke="#333" stroke-width="0.4"/>
<line x1="160.45" y1="343.97" x2="160.78" y2="342.50" stroke="#333" stroke-width="0.4"/>
<text transform="translate(151.67,336.01) rotate(367.55)" font-size="4.0" text-anchor="middle" dominant-baseline="middle" fill="#333">RUNX1</text>
<path d="M161.72,346.11 A108.9,108.9 0 0 1 173.90,349.80" fill="none" stroke="#c06151" stroke-width="3.1"/>
<path d="M162.14,344.36 A110.7,110.7 0 0 1 174.52,348.11" fill="none" stroke="#111" stroke-width="0.75"/>
<line x1="162.14" y1="344.36" x2="162.49" y2="342.90" stroke="#333" stroke-width="0.4"/>
<line x1="174.52" y1="348.11" x2="175.04" y2="346.70" stroke="#333" stroke-width="0.4"/>
<text transform="translate(170.21,340.02) rotate(376.85)" font-size="4.0" text-anchor="middle" dominant-baseline="middle" fill="#333">PHF6</text>
<path d="M175.33,350.33 A108.9,108.9 0 0 1 178.15,351.46" fill="none" stroke="#d06073" stroke-width="3.1"/>
<path d="M175.97,348.65 A110.7,110.7 0 0 1 178.84,349.80" fill="none" stroke="#111" stroke-width="0.75"/>
<line x1="175.97" y1="348.65" x2="176.51" y2="347.25" stroke="#333" stroke-width="0.4"/>
<line x1="178.84" y1="349.80" x2="179.42" y2="348.42" stroke="#333" stroke-width="0.4"/>
<path d="M179.20,351.91 A108.9,108.9 0 0 1 185.40,354.80" fill="none" stroke="#d96494" stroke-width="3.1"/>
<path d="M179.91,350.25 A110.7,110.7 0 0 1 186.21,353.19" fill="none" stroke="#111" stroke-width="0.75"/>
<line x1="179.91" y1="350.25" x2="180.50" y2="348.87" stroke="#333" stroke-width="0.4"/>
<line x1="186.21" y1="353.19" x2="186.89" y2="351.85" stroke="#333" stroke-width="0.4"/>
<text transform="translate(185.75,345.96) rotate(385.00)" font-size="4.0" text-anchor="middle" dominant-baseline="middle" fill="#333">t(8;21)</text>
<path d="M186.92,355.58 A108.9,108.9 0 0 1 198.14,362.36" fill="none" stroke="#e07fba" stroke-width="3.1"/>
<path d="M187.76,353.99 A110.7,110.7 0 0 1 199.16,360.88" fill="none" stroke="#111" stroke-width="0.75"/>
<line x1="187.76" y1="353.99" x2="188.46" y2="352.66" stroke="#333" stroke-width="0.4"/>
<line x1="199.16" y1="360.88" x2="200.01" y2="359.64" stroke="#333" stroke-width="0.4"/>
<text transform="translate(196.82,351.87) rotate(391.15)" font-size="4.0" text-anchor="middle" dominant-baseline="middle" fill="#333">inv(16)</text>
<path d="M199.85,363.56 A108.9,108.9 0 0 1 208.60,370.56" fill="none" stroke="#d990c4" stroke-width="3.1"/>
<path d="M200.90,362.10 A110.7,110.7 0 0 1 209.80,369.22" fill="none" stroke="#111" stroke-width="0.75"/>
<line x1="200.90" y1="362.10" x2="201.77" y2="360.88" stroke="#333" stroke-width="0.4"/>
<line x1="209.80" y1="369.22" x2="210.79" y2="368.10" stroke="#333" stroke-width="0.4"/>
<text transform="translate(209.37,360.63) rotate(398.65)" font-size="3.5" text-anchor="middle" dominant-baseline="middle" fill="#333">del(7q)</text>
<path d="M210.01,371.84 A108.9,108.9 0 0 1 216.07,377.87" fill="none" stroke="#b392a4" stroke-width="3.1"/>
<path d="M211.23,370.51 A110.7,110.7 0 0 1 217.39,376.64" fill="none" stroke="#111" stroke-width="0.75"/>
<line x1="211.23" y1="370.51" x2="212.25" y2="369.41" stroke="#333" stroke-width="0.4"/>
<line x1="217.39" y1="376.64" x2="218.49" y2="375.62" stroke="#333" stroke-width="0.4"/>
<text transform="translate(218.81,369.05) rotate(404.85)" font-size="2.5" text-anchor="middle" dominant-baseline="middle" fill="#333">t(3q26)</text>
<path d="M217.36,379.27 A108.9,108.9 0 0 1 220.33,382.73" fill="none" stroke="#919191" stroke-width="3.1"/>
<path d="M218.70,378.07 A110.7,110.7 0 0 1 221.72,381.59" fill="none" stroke="#111" stroke-width="0.75"/>
<line x1="218.70" y1="378.07" x2="219.81" y2="377.07" stroke="#333" stroke-width="0.4"/>
<line x1="221.72" y1="381.59" x2="222.88" y2="380.63" stroke="#333" stroke-width="0.4"/>
<text transform="translate(225.00,375.70) rotate(409.30)" font-size="2.5" text-anchor="middle" dominant-baseline="middle" fill="#333">t(11q23)</text>
<path d="M234.92,372.14 A126.9,126.9 0 0 1 235.82,373.26" fill="none" stroke="#3d9a3d" stroke-width="4.5"/>
<path d="M235.75,373.18 A126.9,126.9 0 0 1 236.64,374.31" fill="none" stroke="#bf1420" stroke-width="4.5"/>
<path d="M236.57,374.22 A126.9,126.9 0 0 1 237.58,375.54" fill="none" stroke="#bf1420" stroke-width="4.5"/>
<path d="M237.51,375.45 A126.9,126.9 0 0 1 238.51,376.78" fill="none" stroke="#bf1420" stroke-width="4.5"/>
<path d="M238.44,376.70 A126.9,126.9 0 0 1 239.42,378.04" fill="none" stroke="#3d9a3d" stroke-width="4.5"/>
<path d="M239.35,377.95 A126.9,126.9 0 0 1 239.93,378.76" fill="none" stroke="#bf1420" stroke-width="4.5"/>
<path d="M239.87,378.67 A126.9,126.9 0 0 1 240.50,379.58" fill="none" stroke="#bf1420" stroke-width="4.5"/>
<path d="M240.44,379.49 A126.9,126.9 0 0 1 241.63,381.22" fill="none" stroke="#bf1420" stroke-width="4.5"/>
<path d="M241.57,381.13 A126.9,126.9 0 0 1 242.49,382.51" fill="none" stroke="#cdbfc0" stroke-width="4.5"/>
<path d="M242.42,382.42 A126.9,126.9 0 0 1 243.21,383.63" fill="none" stroke="#bf1420" stroke-width="4.5"/>
<path d="M243.15,383.54 A126.9,126.9 0 0 1 244.03,384.94" fill="none" stroke="#bf1420" stroke-width="4.5"/>
<path d="M243.98,384.85 A126.9,126.9 0 0 1 244.85,386.26" fill="none" stroke="#bf1420" stroke-width="4.5"/>
<path d="M244.79,386.17 A126.9,126.9 0 0 1 245.64,387.59" fill="none" stroke="#bf1420" stroke-width="4.5"/>
<path d="M245.58,387.50 A126.9,126.9 0 0 1 246.09,388.36" fill="none" stroke="#bf1420" stroke-width="4.5"/>
<path d="M246.03,388.26 A126.9,126.9 0 0 1 246.58,389.22" fill="none" stroke="#bf1420" stroke-width="4.5"/>
<path d="M246.53,389.13 A126.9,126.9 0 0 1 247.24,390.38" fill="none" stroke="#bf1420" stroke-width="4.5"/>
<path d="M247.18,390.28 A126.9,126.9 0 0 1 247.98,391.74" fill="none" stroke="#3d9a3d" stroke-width="4.5"/>
<path d="M247.93,391.64 A126.9,126.9 0 0 1 248.71,393.11" fill="none" stroke="#bf1420" stroke-width="4.5"/>
<path d="M248.66,393.01 A126.9,126.9 0 0 1 249.22,394.09" fill="none" stroke="#bf1420" stroke-width="4.5"/>
<path d="M249.17,393.99 A126.9,126.9 0 0 1 250.11,395.87" fill="none" stroke="#bf1420" stroke-width="4.5"/>
<path d="M250.06,395.77 A126.9,126.9 0 0 1 250.98,397.67" fill="none" stroke="#bf1420" stroke-width="4.5"/>
<path d="M250.93,397.57 A126.9,126.9 0 0 1 251.64,399.07" fill="none" stroke="#cdbfc0" stroke-width="4.5"/>
<path d="M251.59,398.97 A126.9,126.9 0 0 1 252.00,399.88" fill="none" stroke="#bf1420" stroke-width="4.5"/>
<path d="M251.96,399.78 A126.9,126.9 0 0 1 252.45,400.89" fill="none" stroke="#3d9a3d" stroke-width="4.5"/>
<path d="M252.41,400.79 A126.9,126.9 0 0 1 253.07,402.31" fill="none" stroke="#bf1420" stroke-width="4.5"/>
<path d="M253.03,402.21 A126.9,126.9 0 0 1 253.41,403.13" fill="none" stroke="#bf1420" stroke-width="4.5"/>
<path d="M253.37,403.03 A126.9,126.9 0 0 1 253.75,403.95" fill="none" stroke="#bf1420" stroke-width="4.5"/>
<path d="M253.71,403.85 A126.9,126.9 0 0 1 254.17,404.98" fill="none" stroke="#bf1420" stroke-width="4.5"/>
<path d="M254.12,404.87 A126.9,126.9 0 0 1 254.49,405.80" fill="none" stroke="#3d9a3d" stroke-width="4.5"/>
<path d="M254.45,405.70 A126.9,126.9 0 0 1 254.81,406.63" fill="none" stroke="#bf1420" stroke-width="4.5"/>
<path d="M254.77,406.52 A126.9,126.9 0 0 1 255.12,407.45" fill="none" stroke="#bf1420" stroke-width="4.5"/>
<path d="M255.09,407.35 A126.9,126.9 0 0 1 255.81,409.33" fill="none" stroke="#bf1420" stroke-width="4.5"/>
<path d="M255.77,409.22 A126.9,126.9 0 0 1 256.10,410.16" fill="none" stroke="#bf1420" stroke-width="4.5"/>
<path d="M256.07,410.06 A126.9,126.9 0 0 1 256.43,411.10" fill="none" stroke="#3d9a3d" stroke-width="4.5"/>
<path d="M256.39,411.00 A126.9,126.9 0 0 1 256.78,412.15" fill="none" stroke="#bf1420" stroke-width="4.5"/>
<path d="M256.75,412.05 A126.9,126.9 0 0 1 257.13,413.21" fill="none" stroke="#bf1420" stroke-width="4.5"/>
<path d="M257.09,413.10 A126.9,126.9 0 0 1 257.52,414.47" fill="none" stroke="#3d9a3d" stroke-width="4.5"/>
<path d="M257.49,414.37 A126.9,126.9 0 0 1 257.78,415.32" fill="none" stroke="#bf1420" stroke-width="4.5"/>
<path d="M257.75,415.22 A126.9,126.9 0 0 1 258.34,417.23" fill="none" stroke="#bf1420" stroke-width="4.5"/>
<path d="M258.31,417.13 A126.9,126.9 0 0 1 258.58,418.09" fill="none" stroke="#bf1420" stroke-width="4.5"/>
<path d="M258.56,417.98 A126.9,126.9 0 0 1 258.93,419.37" fill="none" stroke="#bf1420" stroke-width="4.5"/>
<path d="M258.90,419.26 A126.9,126.9 0 0 1 259.32,420.87" fill="none" stroke="#bf1420" stroke-width="4.5"/>
<path d="M259.30,420.76 A126.9,126.9 0 0 1 259.69,422.38" fill="none" stroke="#bf1420" stroke-width="4.5"/>
<path d="M259.67,422.27 A126.9,126.9 0 0 1 260.14,424.32" fill="none" stroke="#3d9a3d" stroke-width="4.5"/>
<path d="M260.12,424.21 A126.9,126.9 0 0 1 260.43,425.62" fill="none" stroke="#bf1420" stroke-width="4.5"/>
<path d="M260.40,425.51 A126.9,126.9 0 0 1 260.61,426.48" fill="none" stroke="#bf1420" stroke-width="4.5"/>
<path d="M260.59,426.37 A126.9,126.9 0 0 1 260.80,427.46" fill="none" stroke="#bf1420" stroke-width="4.5"/>
<path d="M260.78,427.35 A126.9,126.9 0 0 1 261.10,428.98" fill="none" stroke="#bf1420" stroke-width="4.5"/>
<path d="M261.08,428.87 A126.9,126.9 0 0 1 261.25,429.85" fill="none" stroke="#bf1420" stroke-width="4.5"/>
<path d="M261.23,429.75 A126.9,126.9 0 0 1 261.48,431.16" fill="none" stroke="#cdbfc0" stroke-width="4.5"/>
<path d="M261.46,431.06 A126.9,126.9 0 0 1 261.72,432.70" fill="none" stroke="#bf1420" stroke-width="4.5"/>
<path d="M261.71,432.59 A126.9,126.9 0 0 1 261.85,433.57" fill="none" stroke="#bf1420" stroke-width="4.5"/>
<path d="M261.84,433.46 A126.9,126.9 0 0 1 262.00,434.56" fill="none" stroke="#bf1420" stroke-width="4.5"/>
<path d="M261.98,434.45 A126.9,126.9 0 0 1 262.14,435.66" fill="none" stroke="#bf1420" stroke-width="4.5"/>
<path d="M262.13,435.55 A126.9,126.9 0 0 1 262.33,437.19" fill="none" stroke="#bf1420" stroke-width="4.5"/>
<path d="M262.32,437.08 A126.9,126.9 0 0 1 262.46,438.29" fill="none" stroke="#bf1420" stroke-width="4.5"/>
<path d="M262.45,438.18 A126.9,126.9 0 0 1 262.55,439.18" fill="none" stroke="#bf1420" stroke-width="4.5"/>
<path d="M262.54,439.07 A126.9,126.9 0 0 1 262.70,440.72" fill="none" stroke="#bf1420" stroke-width="4.5"/>
<path d="M262.69,440.61 A126.9,126.9 0 0 1 262.77,441.60" fill="none" stroke="#bf1420" stroke-width="4.5"/>
<path d="M262.76,441.49 A126.9,126.9 0 0 1 262.86,442.71" fill="none" stroke="#bf1420" stroke-width="4.5"/>
<path d="M262.85,442.60 A126.9,126.9 0 0 1 262.93,443.70" fill="none" stroke="#cdbfc0" stroke-width="4.5"/>
<path d="M262.92,443.59 A126.9,126.9 0 0 1 263.01,445.03" fill="none" stroke="#3d9a3d" stroke-width="4.5"/>
<path d="M263.00,444.92 A126.9,126.9 0 0 1 263.06,446.02" fill="none" stroke="#3d9a3d" stroke-width="4.5"/>
<path d="M263.05,445.91 A126.9,126.9 0 0 1 263.10,447.02" fill="none" stroke="#bf1420" stroke-width="4.5"/>
<path d="M263.10,446.91 A126.9,126.9 0 0 1 263.14,448.12" fill="none" stroke="#cdbfc0" stroke-width="4.5"/>
<path d="M263.14,448.01 A126.9,126.9 0 0 1 263.18,449.67" fill="none" stroke="#bf1420" stroke-width="4.5"/>
<path d="M263.18,449.56 A126.9,126.9 0 0 1 263.19,450.67" fill="none" stroke="#bf1420" stroke-width="4.5"/>
<path d="M263.19,450.56 A126.9,126.9 0 0 1 263.20,451.00" fill="none" stroke="#cdbfc0" stroke-width="4.5"/>
<path d="M263.20,453.11 A126.9,126.9 0 0 1 263.18,454.21" fill="none" stroke="#3d9a3d" stroke-width="4.5"/>
<path d="M263.18,454.10 A126.9,126.9 0 0 1 263.15,455.54" fill="none" stroke="#cdbfc0" stroke-width="4.5"/>
<path d="M263.15,455.43 A126.9,126.9 0 0 1 263.10,457.09" fill="none" stroke="#bf1420" stroke-width="4.5"/>
<path d="M263.10,456.98 A126.9,126.9 0 0 1 263.06,457.98" fill="none" stroke="#bf1420" stroke-width="4.5"/>
<path d="M263.06,457.87 A126.9,126.9 0 0 1 263.01,458.86" fill="none" stroke="#bf1420" stroke-width="4.5"/>
<path d="M263.02,458.75 A126.9,126.9 0 0 1 262.95,459.97" fill="none" stroke="#bf1420" stroke-width="4.5"/>
<path d="M262.96,459.86 A126.9,126.9 0 0 1 262.81,461.96" fill="none" stroke="#bf1420" stroke-width="4.5"/>
<path d="M262.82,461.85 A126.9,126.9 0 0 1 262.70,463.28" fill="none" stroke="#3d9a3d" stroke-width="4.5"/>
<path d="M262.71,463.17 A126.9,126.9 0 0 1 262.55,464.82" fill="none" stroke="#bf1420" stroke-width="4.5"/>
<path d="M262.56,464.71 A126.9,126.9 0 0 1 262.38,466.37" fill="none" stroke="#bf1420" stroke-width="4.5"/>
<path d="M262.40,466.26 A126.9,126.9 0 0 1 262.14,468.34" fill="none" stroke="#cdbfc0" stroke-width="4.5"/>
<path d="M262.16,468.23 A126.9,126.9 0 0 1 262.01,469.33" fill="none" stroke="#bf1420" stroke-width="4.5"/>
<path d="M262.03,469.22 A126.9,126.9 0 0 1 261.79,470.87" fill="none" stroke="#bf1420" stroke-width="4.5"/>
<path d="M261.81,470.76 A126.9,126.9 0 0 1 261.55,472.40" fill="none" stroke="#bf1420" stroke-width="4.5"/>
<path d="M261.57,472.29 A126.9,126.9 0 0 1 261.37,473.49" fill="none" stroke="#bf1420" stroke-width="4.5"/>
<path d="M261.39,473.38 A126.9,126.9 0 0 1 261.19,474.47" fill="none" stroke="#3d9a3d" stroke-width="4.5"/>
<path d="M261.21,474.36 A126.9,126.9 0 0 1 261.03,475.34" fill="none" stroke="#bf1420" stroke-width="4.5"/>
<path d="M261.05,475.23 A126.9,126.9 0 0 1 260.78,476.65" fill="none" stroke="#bf1420" stroke-width="4.5"/>
<path d="M260.80,476.54 A126.9,126.9 0 0 1 260.61,477.52" fill="none" stroke="#bf1420" stroke-width="4.5"/>
<path d="M260.63,477.41 A126.9,126.9 0 0 1 260.38,478.60" fill="none" stroke="#bf1420" stroke-width="4.5"/>
<path d="M260.40,478.49 A126.9,126.9 0 0 1 260.17,479.57" fill="none" stroke="#bf1420" stroke-width="4.5"/>
<path d="M260.19,479.47 A126.9,126.9 0 0 1 259.95,480.55" fill="none" stroke="#cdbfc0" stroke-width="4.5"/>
<path d="M259.97,480.44 A126.9,126.9 0 0 1 259.69,481.62" fill="none" stroke="#bf1420" stroke-width="4.5"/>
<path d="M259.72,481.52 A126.9,126.9 0 0 1 259.21,483.56" fill="none" stroke="#bf1420" stroke-width="4.5"/>
<path d="M259.24,483.45 A126.9,126.9 0 0 1 258.96,484.52" fill="none" stroke="#bf1420" stroke-width="4.5"/>
<path d="M258.99,484.42 A126.9,126.9 0 0 1 258.73,485.38" fill="none" stroke="#bf1420" stroke-width="4.5"/>
<path d="M258.76,485.27 A126.9,126.9 0 0 1 258.44,486.45" fill="none" stroke="#3d9a3d" stroke-width="4.5"/>
<path d="M258.47,486.34 A126.9,126.9 0 0 1 258.19,487.30" fill="none" stroke="#bf1420" stroke-width="4.5"/>
<path d="M258.22,487.19 A126.9,126.9 0 0 1 257.62,489.21" fill="none" stroke="#bf1420" stroke-width="4.5"/>
<path d="M257.66,489.10 A126.9,126.9 0 0 1 257.36,490.05" fill="none" stroke="#3d9a3d" stroke-width="4.5"/>
<path d="M257.39,489.95 A126.9,126.9 0 0 1 257.02,491.11" fill="none" stroke="#bf1420" stroke-width="4.5"/>
<path d="M257.06,491.00 A126.9,126.9 0 0 1 256.75,491.95" fill="none" stroke="#bf1420" stroke-width="4.5"/>
<path d="M256.78,491.85 A126.9,126.9 0 0 1 256.25,493.42" fill="none" stroke="#bf1420" stroke-width="4.5"/>
<path d="M256.29,493.31 A126.9,126.9 0 0 1 255.96,494.26" fill="none" stroke="#cdbfc0" stroke-width="4.5"/>
<path d="M255.99,494.15 A126.9,126.9 0 0 1 255.28,496.13" fill="none" stroke="#3d9a3d" stroke-width="4.5"/>
<path d="M255.32,496.03 A126.9,126.9 0 0 1 254.93,497.06" fill="none" stroke="#3d9a3d" stroke-width="4.5"/>
<path d="M254.97,496.96 A126.9,126.9 0 0 1 254.53,498.10" fill="none" stroke="#bf1420" stroke-width="4.5"/>
<path d="M254.57,497.99 A126.9,126.9 0 0 1 253.79,499.95" fill="none" stroke="#bf1420" stroke-width="4.5"/>
<path d="M253.83,499.85 A126.9,126.9 0 0 1 253.46,500.77" fill="none" stroke="#cdbfc0" stroke-width="4.5"/>
<path d="M253.50,500.66 A126.9,126.9 0 0 1 252.94,501.99" fill="none" stroke="#cdbfc0" stroke-width="4.5"/>
<path d="M252.98,501.89 A126.9,126.9 0 0 1 252.59,502.80" fill="none" stroke="#cdbfc0" stroke-width="4.5"/>
<path d="M252.63,502.70 A126.9,126.9 0 0 1 251.96,504.22" fill="none" stroke="#bf1420" stroke-width="4.5"/>
<path d="M252.00,504.12 A126.9,126.9 0 0 1 251.12,506.03" fill="none" stroke="#bf1420" stroke-width="4.5"/>
<path d="M251.17,505.93 A126.9,126.9 0 0 1 250.45,507.43" fill="none" stroke="#bf1420" stroke-width="4.5"/>
<path d="M250.50,507.33 A126.9,126.9 0 0 1 250.06,508.23" fill="none" stroke="#bf1420" stroke-width="4.5"/>
<path d="M250.11,508.13 A126.9,126.9 0 0 1 249.17,510.01" fill="none" stroke="#bf1420" stroke-width="4.5"/>
<path d="M249.22,509.91 A126.9,126.9 0 0 1 248.66,510.99" fill="none" stroke="#cdbfc0" stroke-width="4.5"/>
<path d="M248.71,510.89 A126.9,126.9 0 0 1 247.72,512.75" fill="none" stroke="#bf1420" stroke-width="4.5"/>
<path d="M247.77,512.65 A126.9,126.9 0 0 1 246.75,514.49" fill="none" stroke="#3d9a3d" stroke-width="4.5"/>
<path d="M246.80,514.39 A126.9,126.9 0 0 1 246.09,515.64" fill="none" stroke="#bf1420" stroke-width="4.5"/>
<path d="M246.14,515.55 A126.9,126.9 0 0 1 245.30,516.98" fill="none" stroke="#bf1420" stroke-width="4.5"/>
<path d="M245.36,516.88 A126.9,126.9 0 0 1 244.50,518.31" fill="none" stroke="#bf1420" stroke-width="4.5"/>
<path d="M244.56,518.21 A126.9,126.9 0 0 1 243.68,519.62" fill="none" stroke="#bf1420" stroke-width="4.5"/>
<path d="M243.74,519.53 A126.9,126.9 0 0 1 243.21,520.37" fill="none" stroke="#bf1420" stroke-width="4.5"/>
<path d="M243.27,520.28 A126.9,126.9 0 0 1 242.12,522.04" fill="none" stroke="#bf1420" stroke-width="4.5"/>
<path d="M242.18,521.95 A126.9,126.9 0 0 1 241.26,523.33" fill="none" stroke="#bf1420" stroke-width="4.5"/>
<path d="M241.32,523.24 A126.9,126.9 0 0 1 240.50,524.42" fill="none" stroke="#bf1420" stroke-width="4.5"/>
<path d="M240.57,524.33 A126.9,126.9 0 0 1 240.19,524.88" fill="none" stroke="#bf1420" stroke-width="4.5"/>
<path d="M238.96,526.59 A126.9,126.9 0 0 1 238.31,527.48" fill="none" stroke="#3d9a3d" stroke-width="4.5"/>
<path d="M238.38,527.39 A126.9,126.9 0 0 1 237.71,528.28" fill="none" stroke="#bf1420" stroke-width="4.5"/>
<path d="M237.78,528.19 A126.9,126.9 0 0 1 237.04,529.16" fill="none" stroke="#3d9a3d" stroke-width="4.5"/>
<path d="M237.11,529.08 A126.9,126.9 0 0 1 236.23,530.21" fill="none" stroke="#bf1420" stroke-width="4.5"/>
<path d="M236.30,530.13 A126.9,126.9 0 0 1 235.61,531.00" fill="none" stroke="#bf1420" stroke-width="4.5"/>
<path d="M235.68,530.91 A126.9,126.9 0 0 1 234.36,532.55" fill="none" stroke="#bf1420" stroke-width="4.5"/>
<path d="M234.43,532.46 A126.9,126.9 0 0 1 233.08,534.08" fill="none" stroke="#bf1420" stroke-width="4.5"/>
<path d="M233.15,533.99 A126.9,126.9 0 0 1 232.43,534.84" fill="none" stroke="#cdbfc0" stroke-width="4.5"/>
<path d="M232.51,534.75 A126.9,126.9 0 0 1 231.56,535.84" fill="none" stroke="#bf1420" stroke-width="4.5"/>
<path d="M231.64,535.75 A126.9,126.9 0 0 1 230.83,536.67" fill="none" stroke="#bf1420" stroke-width="4.5"/>
<path d="M230.90,536.58 A126.9,126.9 0 0 1 230.16,537.41" fill="none" stroke="#bf1420" stroke-width="4.5"/>
<path d="M230.23,537.32 A126.9,126.9 0 0 1 229.56,538.06" fill="none" stroke="#3d9a3d" stroke-width="4.5"/>
<path d="M229.64,537.98 A126.9,126.9 0 0 1 228.81,538.87" fill="none" stroke="#3d9a3d" stroke-width="4.5"/>
<path d="M228.88,538.79 A126.9,126.9 0 0 1 228.20,539.51" fill="none" stroke="#bf1420" stroke-width="4.5"/>
<path d="M228.27,539.43 A126.9,126.9 0 0 1 227.43,540.31" fill="none" stroke="#cdbfc0" stroke-width="4.5"/>
<path d="M227.51,540.23 A126.9,126.9 0 0 1 226.50,541.26" fill="none" stroke="#bf1420" stroke-width="4.5"/>
<path d="M226.58,541.18 A126.9,126.9 0 0 1 225.40,542.36" fill="none" stroke="#bf1420" stroke-width="4.5"/>
<path d="M225.48,542.28 A126.9,126.9 0 0 1 224.61,543.13" fill="none" stroke="#3d9a3d" stroke-width="4.5"/>
<path d="M224.69,543.05 A126.9,126.9 0 0 1 223.49,544.20" fill="none" stroke="#bf1420" stroke-width="4.5"/>
<path d="M223.57,544.13 A126.9,126.9 0 0 1 222.85,544.81" fill="none" stroke="#3d9a3d" stroke-width="4.5"/>
<path d="M222.93,544.73 A126.9,126.9 0 0 1 222.03,545.56" fill="none" stroke="#cdbfc0" stroke-width="4.5"/>
<path d="M222.11,545.49 A126.9,126.9 0 0 1 221.38,546.16" fill="none" stroke="#3d9a3d" stroke-width="4.5"/>
<path d="M221.46,546.08 A126.9,126.9 0 0 1 220.55,546.90" fill="none" stroke="#bf1420" stroke-width="4.5"/>
<path d="M220.64,546.82 A126.9,126.9 0 0 1 219.72,547.63" fill="none" stroke="#3d9a3d" stroke-width="4.5"/>
<path d="M219.80,547.55 A126.9,126.9 0 0 1 218.55,548.64" fill="none" stroke="#bf1420" stroke-width="4.5"/>
<path d="M218.63,548.57 A126.9,126.9 0 0 1 217.78,549.28" fill="none" stroke="#bf1420" stroke-width="4.5"/>
<path d="M217.87,549.21 A126.9,126.9 0 0 1 217.02,549.92" fill="none" stroke="#bf1420" stroke-width="4.5"/>
<path d="M217.10,549.85 A126.9,126.9 0 0 1 216.16,550.62" fill="none" stroke="#bf1420" stroke-width="4.5"/>
<path d="M216.25,550.55 A126.9,126.9 0 0 1 215.38,551.24" fill="none" stroke="#3d9a3d" stroke-width="4.5"/>
<path d="M215.47,551.17 A126.9,126.9 0 0 1 213.82,552.47" fill="none" stroke="#bf1420" stroke-width="4.5"/>
<path d="M213.90,552.41 A126.9,126.9 0 0 1 213.11,553.01" fill="none" stroke="#3d9a3d" stroke-width="4.5"/>
<path d="M213.20,552.95 A126.9,126.9 0 0 1 211.52,554.21" fill="none" stroke="#3d9a3d" stroke-width="4.5"/>
<path d="M211.60,554.14 A126.9,126.9 0 0 1 210.62,554.86" fill="none" stroke="#cdbfc0" stroke-width="4.5"/>
<path d="M210.71,554.79 A126.9,126.9 0 0 1 209.00,556.01" fill="none" stroke="#bf1420" stroke-width="4.5"/>
<path d="M209.09,555.95 A126.9,126.9 0 0 1 207.90,556.77" fill="none" stroke="#bf1420" stroke-width="4.5"/>
<path d="M207.99,556.71 A126.9,126.9 0 0 1 207.17,557.27" fill="none" stroke="#bf1420" stroke-width="4.5"/>
<path d="M205.41,558.43 A126.9,126.9 0 0 1 204.20,559.20" fill="none" stroke="#bf1420" stroke-width="4.5"/>
<path d="M204.30,559.15 A126.9,126.9 0 0 1 203.45,559.68" fill="none" stroke="#bf1420" stroke-width="4.5"/>
<path d="M203.55,559.62 A126.9,126.9 0 0 1 202.51,560.26" fill="none" stroke="#3d9a3d" stroke-width="4.5"/>
<path d="M202.61,560.20 A126.9,126.9 0 0 1 201.18,561.06" fill="none" stroke="#3d9a3d" stroke-width="4.5"/>
<path d="M201.28,561.00 A126.9,126.9 0 0 1 199.85,561.84" fill="none" stroke="#bf1420" stroke-width="4.5"/>
<path d="M199.94,561.79 A126.9,126.9 0 0 1 198.98,562.34" fill="none" stroke="#bf1420" stroke-width="4.5"/>
<path d="M199.08,562.28 A126.9,126.9 0 0 1 197.24,563.31" fill="none" stroke="#cdbfc0" stroke-width="4.5"/>
<path d="M197.34,563.26 A126.9,126.9 0 0 1 196.46,563.73" fill="none" stroke="#bf1420" stroke-width="4.5"/>
<path d="M196.56,563.68 A126.9,126.9 0 0 1 194.70,564.66" fill="none" stroke="#bf1420" stroke-width="4.5"/>
<path d="M194.80,564.61 A126.9,126.9 0 0 1 193.52,565.27" fill="none" stroke="#bf1420" stroke-width="4.5"/>
<path d="M193.62,565.22 A126.9,126.9 0 0 1 191.73,566.15" fill="none" stroke="#cdbfc0" stroke-width="4.5"/>
<path d="M191.83,566.11 A126.9,126.9 0 0 1 190.93,566.54" fill="none" stroke="#bf1420" stroke-width="4.5"/>
<path d="M191.03,566.49 A126.9,126.9 0 0 1 189.53,567.20" fill="none" stroke="#3d9a3d" stroke-width="4.5"/>
<path d="M189.63,567.15 A126.9,126.9 0 0 1 188.12,567.84" fill="none" stroke="#3d9a3d" stroke-width="4.5"/>
<path d="M188.22,567.79 A126.9,126.9 0 0 1 187.10,568.29" fill="none" stroke="#bf1420" stroke-width="4.5"/>
<path d="M187.21,568.24 A126.9,126.9 0 0 1 185.27,569.07" fill="none" stroke="#cdbfc0" stroke-width="4.5"/>
<path d="M185.37,569.03 A126.9,126.9 0 0 1 184.45,569.41" fill="none" stroke="#3d9a3d" stroke-width="4.5"/>
<path d="M184.56,569.37 A126.9,126.9 0 0 1 182.60,570.15" fill="none" stroke="#cdbfc0" stroke-width="4.5"/>
<path d="M182.71,570.11 A126.9,126.9 0 0 1 181.78,570.47" fill="none" stroke="#bf1420" stroke-width="4.5"/>
<path d="M181.88,570.43 A126.9,126.9 0 0 1 180.53,570.94" fill="none" stroke="#cdbfc0" stroke-width="4.5"/>
<path d="M180.64,570.90 A126.9,126.9 0 0 1 179.49,571.32" fill="none" stroke="#bf1420" stroke-width="4.5"/>
<path d="M179.60,571.28 A126.9,126.9 0 0 1 178.45,571.69" fill="none" stroke="#bf1420" stroke-width="4.5"/>
<path d="M178.56,571.66 A126.9,126.9 0 0 1 176.57,572.34" fill="none" stroke="#cdbfc0" stroke-width="4.5"/>
<path d="M176.67,572.31 A126.9,126.9 0 0 1 175.51,572.69" fill="none" stroke="#bf1420" stroke-width="4.5"/>
<path d="M175.62,572.65 A126.9,126.9 0 0 1 174.67,572.96" fill="none" stroke="#bf1420" stroke-width="4.5"/>
<path d="M174.78,572.93 A126.9,126.9 0 0 1 173.19,573.42" fill="none" stroke="#bf1420" stroke-width="4.5"/>
<path d="M173.30,573.39 A126.9,126.9 0 0 1 172.13,573.74" fill="none" stroke="#bf1420" stroke-width="4.5"/>
<path d="M172.24,573.71 A126.9,126.9 0 0 1 171.28,573.98" fill="none" stroke="#bf1420" stroke-width="4.5"/>
<path d="M171.38,573.95 A126.9,126.9 0 0 1 170.43,574.23" fill="none" stroke="#bf1420" stroke-width="4.5"/>
<path d="M170.53,574.20 A126.9,126.9 0 0 1 169.57,574.46" fill="none" stroke="#bf1420" stroke-width="4.5"/>
<path d="M169.68,574.43 A126.9,126.9 0 0 1 168.50,574.75" fill="none" stroke="#3d9a3d" stroke-width="4.5"/>
<path d="M168.61,574.72 A126.9,126.9 0 0 1 167.54,575.00" fill="none" stroke="#bf1420" stroke-width="4.5"/>
<path d="M167.64,574.97 A126.9,126.9 0 0 1 166.03,575.37" fill="none" stroke="#cdbfc0" stroke-width="4.5"/>
<path d="M166.14,575.34 A126.9,126.9 0 0 1 164.52,575.72" fill="none" stroke="#3d9a3d" stroke-width="4.5"/>
<path d="M164.63,575.70 A126.9,126.9 0 0 1 162.58,576.15" fill="none" stroke="#bf1420" stroke-width="4.5"/>
<path d="M162.68,576.13 A126.9,126.9 0 0 1 161.27,576.42" fill="none" stroke="#bf1420" stroke-width="4.5"/>
<path d="M161.38,576.40 A126.9,126.9 0 0 1 159.32,576.80" fill="none" stroke="#bf1420" stroke-width="4.5"/>
<path d="M159.43,576.78 A126.9,126.9 0 0 1 158.34,576.97" fill="none" stroke="#bf1420" stroke-width="4.5"/>
<path d="M158.45,576.95 A126.9,126.9 0 0 1 156.81,577.23" fill="none" stroke="#bf1420" stroke-width="4.5"/>
<path d="M156.92,577.21 A126.9,126.9 0 0 1 154.84,577.54" fill="none" stroke="#bf1420" stroke-width="4.5"/>
<path d="M154.95,577.52 A126.9,126.9 0 0 1 153.85,577.68" fill="none" stroke="#bf1420" stroke-width="4.5"/>
<path d="M153.96,577.67 A126.9,126.9 0 0 1 152.31,577.89" fill="none" stroke="#bf1420" stroke-width="4.5"/>
<path d="M152.42,577.87 A126.9,126.9 0 0 1 150.34,578.12" fill="none" stroke="#bf1420" stroke-width="4.5"/>
<path d="M150.45,578.11 A126.9,126.9 0 0 1 148.79,578.28" fill="none" stroke="#bf1420" stroke-width="4.5"/>
<path d="M148.90,578.27 A126.9,126.9 0 0 1 147.80,578.38" fill="none" stroke="#cdbfc0" stroke-width="4.5"/>
<path d="M147.91,578.37 A126.9,126.9 0 0 1 146.26,578.51" fill="none" stroke="#bf1420" stroke-width="4.5"/>
<path d="M146.37,578.50 A126.9,126.9 0 0 1 144.93,578.61" fill="none" stroke="#bf1420" stroke-width="4.5"/>
<path d="M145.04,578.60 A126.9,126.9 0 0 1 143.38,578.70" fill="none" stroke="#bf1420" stroke-width="4.5"/>
<path d="M143.49,578.70 A126.9,126.9 0 0 1 142.50,578.75" fill="none" stroke="#bf1420" stroke-width="4.5"/>
<path d="M142.61,578.74 A126.9,126.9 0 0 1 141.61,578.79" fill="none" stroke="#bf1420" stroke-width="4.5"/>
<path d="M141.72,578.78 A126.9,126.9 0 0 1 140.73,578.82" fill="none" stroke="#bf1420" stroke-width="4.5"/>
<path d="M140.84,578.82 A126.9,126.9 0 0 1 139.40,578.86" fill="none" stroke="#bf1420" stroke-width="4.5"/>
<path d="M139.51,578.86 A126.9,126.9 0 0 1 137.85,578.89" fill="none" stroke="#bf1420" stroke-width="4.5"/>
<path d="M137.96,578.89 A126.9,126.9 0 0 1 136.96,578.90" fill="none" stroke="#3d9a3d" stroke-width="4.5"/>
<path d="M137.08,578.90 A126.9,126.9 0 0 1 136.08,578.90" fill="none" stroke="#cdbfc0" stroke-width="4.5"/>
<path d="M136.19,578.90 A126.9,126.9 0 0 1 134.75,578.89" fill="none" stroke="#bf1420" stroke-width="4.5"/>
<path d="M134.86,578.89 A126.9,126.9 0 0 1 133.97,578.88" fill="none" stroke="#bf1420" stroke-width="4.5"/>
<path d="M131.87,578.82 A126.9,126.9 0 0 1 130.43,578.76" fill="none" stroke="#bf1420" stroke-width="4.5"/>
<path d="M130.54,578.77 A126.9,126.9 0 0 1 129.33,578.71" fill="none" stroke="#bf1420" stroke-width="4.5"/>
<path d="M129.44,578.71 A126.9,126.9 0 0 1 128.00,578.63" fill="none" stroke="#bf1420" stroke-width="4.5"/>
<path d="M128.11,578.64 A126.9,126.9 0 0 1 127.12,578.57" fill="none" stroke="#bf1420" stroke-width="4.5"/>
<path d="M127.23,578.58 A126.9,126.9 0 0 1 125.57,578.45" fill="none" stroke="#bf1420" stroke-width="4.5"/>
<path d="M125.68,578.45 A126.9,126.9 0 0 1 124.47,578.35" fill="none" stroke="#bf1420" stroke-width="4.5"/>
<path d="M124.58,578.36 A126.9,126.9 0 0 1 123.59,578.26" fill="none" stroke="#bf1420" stroke-width="4.5"/>
<path d="M123.70,578.27 A126.9,126.9 0 0 1 122.59,578.16" fill="none" stroke="#bf1420" stroke-width="4.5"/>
<path d="M122.70,578.17 A126.9,126.9 0 0 1 120.61,577.93" fill="none" stroke="#bf1420" stroke-width="4.5"/>
<path d="M120.72,577.94 A126.9,126.9 0 0 1 118.64,577.67" fill="none" stroke="#bf1420" stroke-width="4.5"/>
<path d="M118.75,577.68 A126.9,126.9 0 0 1 117.11,577.44" fill="none" stroke="#bf1420" stroke-width="4.5"/>
<path d="M117.21,577.46 A126.9,126.9 0 0 1 115.79,577.23" fill="none" stroke="#bf1420" stroke-width="4.5"/>
<path d="M115.90,577.25 A126.9,126.9 0 0 1 114.92,577.09" fill="none" stroke="#bf1420" stroke-width="4.5"/>
<path d="M115.03,577.10 A126.9,126.9 0 0 1 113.39,576.82" fill="none" stroke="#bf1420" stroke-width="4.5"/>
<path d="M113.50,576.84 A126.9,126.9 0 0 1 112.41,576.63" fill="none" stroke="#bf1420" stroke-width="4.5"/>
<path d="M112.52,576.65 A126.9,126.9 0 0 1 111.11,576.37" fill="none" stroke="#bf1420" stroke-width="4.5"/>
<path d="M111.22,576.40 A126.9,126.9 0 0 1 109.16,575.96" fill="none" stroke="#bf1420" stroke-width="4.5"/>
<path d="M109.27,575.99 A126.9,126.9 0 0 1 107.65,575.62" fill="none" stroke="#bf1420" stroke-width="4.5"/>
<path d="M105.60,575.13 A126.9,126.9 0 0 1 103.99,574.72" fill="none" stroke="#bf1420" stroke-width="4.5"/>
<path d="M104.10,574.75 A126.9,126.9 0 0 1 102.07,574.20" fill="none" stroke="#bf1420" stroke-width="4.5"/>
<path d="M102.17,574.23 A126.9,126.9 0 0 1 101.11,573.92" fill="none" stroke="#bf1420" stroke-width="4.5"/>
<path d="M101.22,573.95 A126.9,126.9 0 0 1 99.62,573.48" fill="none" stroke="#3d9a3d" stroke-width="4.5"/>
<path d="M99.73,573.52 A126.9,126.9 0 0 1 98.67,573.19" fill="none" stroke="#bf1420" stroke-width="4.5"/>
<path d="M98.77,573.22 A126.9,126.9 0 0 1 98.03,572.99" fill="none" stroke="#3d9a3d" stroke-width="4.5"/>
<path d="M97.09,572.69 A126.9,126.9 0 0 1 95.93,572.31" fill="none" stroke="#cdbfc0" stroke-width="4.5"/>
<path d="M96.03,572.34 A126.9,126.9 0 0 1 94.88,571.95" fill="none" stroke="#3d9a3d" stroke-width="4.5"/>
<path d="M94.99,571.99 A126.9,126.9 0 0 1 93.94,571.62" fill="none" stroke="#bf1420" stroke-width="4.5"/>
<path d="M94.04,571.66 A126.9,126.9 0 0 1 93.00,571.28" fill="none" stroke="#3d9a3d" stroke-width="4.5"/>
<path d="M93.11,571.32 A126.9,126.9 0 0 1 92.07,570.94" fill="none" stroke="#3d9a3d" stroke-width="4.5"/>
<path d="M92.17,570.98 A126.9,126.9 0 0 1 91.13,570.59" fill="none" stroke="#3d9a3d" stroke-width="4.5"/>
<path d="M91.24,570.63 A126.9,126.9 0 0 1 90.10,570.19" fill="none" stroke="#bf1420" stroke-width="4.5"/>
<path d="M90.20,570.23 A126.9,126.9 0 0 1 88.87,569.70" fill="none" stroke="#3d9a3d" stroke-width="4.5"/>
<path d="M88.97,569.74 A126.9,126.9 0 0 1 87.64,569.20" fill="none" stroke="#bf1420" stroke-width="4.5"/>
<path d="M87.74,569.24 A126.9,126.9 0 0 1 85.80,568.42" fill="none" stroke="#bf1420" stroke-width="4.5"/>
<path d="M85.90,568.46 A126.9,126.9 0 0 1 84.58,567.88" fill="none" stroke="#3d9a3d" stroke-width="4.5"/>
<path d="M84.69,567.93 A126.9,126.9 0 0 1 83.78,567.52" fill="none" stroke="#bf1420" stroke-width="4.5"/>
<path d="M83.88,567.57 A126.9,126.9 0 0 1 82.57,566.96" fill="none" stroke="#3d9a3d" stroke-width="4.5"/>
<path d="M80.67,566.06 A126.9,126.9 0 0 1 79.58,565.52" fill="none" stroke="#bf1420" stroke-width="4.5"/>
<path d="M79.68,565.57 A126.9,126.9 0 0 1 78.20,564.82" fill="none" stroke="#3d9a3d" stroke-width="4.5"/>
<path d="M78.29,564.87 A126.9,126.9 0 0 1 77.21,564.30" fill="none" stroke="#bf1420" stroke-width="4.5"/>
<path d="M77.31,564.36 A126.9,126.9 0 0 1 75.46,563.36" fill="none" stroke="#3d9a3d" stroke-width="4.5"/>
<path d="M75.55,563.42 A126.9,126.9 0 0 1 74.68,562.94" fill="none" stroke="#bf1420" stroke-width="4.5"/>
<path d="M74.78,562.99 A126.9,126.9 0 0 1 73.91,562.50" fill="none" stroke="#bf1420" stroke-width="4.5"/>
<path d="M74.00,562.56 A126.9,126.9 0 0 1 72.56,561.73" fill="none" stroke="#3d9a3d" stroke-width="4.5"/>
<path d="M72.66,561.79 A126.9,126.9 0 0 1 71.23,560.95" fill="none" stroke="#bf1420" stroke-width="4.5"/>
<path d="M71.32,561.00 A126.9,126.9 0 0 1 70.37,560.43" fill="none" stroke="#bf1420" stroke-width="4.5"/>
<path d="M70.47,560.49 A126.9,126.9 0 0 1 69.52,559.91" fill="none" stroke="#bf1420" stroke-width="4.5"/>
<path d="M69.62,559.97 A126.9,126.9 0 0 1 68.68,559.38" fill="none" stroke="#cdbfc0" stroke-width="4.5"/>
<path d="M68.77,559.44 A126.9,126.9 0 0 1 67.00,558.31" fill="none" stroke="#bf1420" stroke-width="4.5"/>
<path d="M67.09,558.37 A126.9,126.9 0 0 1 66.26,557.82" fill="none" stroke="#bf1420" stroke-width="4.5"/>
<path d="M66.35,557.88 A126.9,126.9 0 0 1 64.61,556.71" fill="none" stroke="#bf1420" stroke-width="4.5"/>
<path d="M64.70,556.77 A126.9,126.9 0 0 1 63.88,556.20" fill="none" stroke="#bf1420" stroke-width="4.5"/>
<path d="M63.97,556.27 A126.9,126.9 0 0 1 62.79,555.44" fill="none" stroke="#bf1420" stroke-width="4.5"/>
<path d="M62.88,555.50 A126.9,126.9 0 0 1 61.89,554.79" fill="none" stroke="#bf1420" stroke-width="4.5"/>
<path d="M61.98,554.86 A126.9,126.9 0 0 1 60.64,553.88" fill="none" stroke="#bf1420" stroke-width="4.5"/>
<path d="M60.73,553.94 A126.9,126.9 0 0 1 59.05,552.68" fill="none" stroke="#3d9a3d" stroke-width="4.5"/>
<path d="M59.14,552.74 A126.9,126.9 0 0 1 58.26,552.07" fill="none" stroke="#bf1420" stroke-width="4.5"/>
<path d="M58.35,552.13 A126.9,126.9 0 0 1 58.09,551.93" fill="none" stroke="#bf1420" stroke-width="4.5"/>
<path d="M56.44,550.62 A126.9,126.9 0 0 1 55.50,549.85" fill="none" stroke="#bf1420" stroke-width="4.5"/>
<path d="M55.58,549.92 A126.9,126.9 0 0 1 54.73,549.21" fill="none" stroke="#bf1420" stroke-width="4.5"/>
<path d="M54.82,549.28 A126.9,126.9 0 0 1 54.05,548.64" fill="none" stroke="#bf1420" stroke-width="4.5"/>
<path d="M54.14,548.71 A126.9,126.9 0 0 1 53.38,548.06" fill="none" stroke="#bf1420" stroke-width="4.5"/>
<path d="M53.46,548.13 A126.9,126.9 0 0 1 52.71,547.48" fill="none" stroke="#3d9a3d" stroke-width="4.5"/>
<path d="M52.80,547.55 A126.9,126.9 0 0 1 51.22,546.16" fill="none" stroke="#3d9a3d" stroke-width="4.5"/>
<path d="M51.31,546.23 A126.9,126.9 0 0 1 49.75,544.81" fill="none" stroke="#cdbfc0" stroke-width="4.5"/>
<path d="M49.84,544.88 A126.9,126.9 0 0 1 48.63,543.74" fill="none" stroke="#bf1420" stroke-width="4.5"/>
<path d="M48.71,543.82 A126.9,126.9 0 0 1 47.51,542.67" fill="none" stroke="#bf1420" stroke-width="4.5"/>
<path d="M47.59,542.74 A126.9,126.9 0 0 1 46.72,541.89" fill="none" stroke="#3d9a3d" stroke-width="4.5"/>
<path d="M46.80,541.97 A126.9,126.9 0 0 1 45.94,541.10" fill="none" stroke="#bf1420" stroke-width="4.5"/>
<path d="M46.02,541.18 A126.9,126.9 0 0 1 45.32,540.47" fill="none" stroke="#3d9a3d" stroke-width="4.5"/>
<path d="M45.40,540.55 A126.9,126.9 0 0 1 44.63,539.75" fill="none" stroke="#3d9a3d" stroke-width="4.5"/>
<path d="M44.71,539.83 A126.9,126.9 0 0 1 43.72,538.79" fill="none" stroke="#bf1420" stroke-width="4.5"/>
<path d="M43.79,538.87 A126.9,126.9 0 0 1 42.96,537.98" fill="none" stroke="#3d9a3d" stroke-width="4.5"/>
<path d="M43.04,538.06 A126.9,126.9 0 0 1 41.63,536.50" fill="none" stroke="#bf1420" stroke-width="4.5"/>
<path d="M41.70,536.58 A126.9,126.9 0 0 1 40.75,535.50" fill="none" stroke="#3d9a3d" stroke-width="4.5"/>
<path d="M40.82,535.59 A126.9,126.9 0 0 1 39.88,534.50" fill="none" stroke="#bf1420" stroke-width="4.5"/>
<path d="M39.95,534.58 A126.9,126.9 0 0 1 39.23,533.74" fill="none" stroke="#bf1420" stroke-width="4.5"/>
<path d="M39.30,533.82 A126.9,126.9 0 0 1 38.52,532.89" fill="none" stroke="#bf1420" stroke-width="4.5"/>
<path d="M38.59,532.97 A126.9,126.9 0 0 1 37.96,532.20" fill="none" stroke="#bf1420" stroke-width="4.5"/>
<path d="M38.03,532.29 A126.9,126.9 0 0 1 37.26,531.34" fill="none" stroke="#cdbfc0" stroke-width="4.5"/>
<path d="M37.33,531.43 A126.9,126.9 0 0 1 36.30,530.13" fill="none" stroke="#bf1420" stroke-width="4.5"/>
<path d="M36.37,530.21 A126.9,126.9 0 0 1 36.23,530.04" fill="none" stroke="#cdbfc0" stroke-width="4.5"/>
<path d="M34.95,528.37 A126.9,126.9 0 0 1 33.70,526.68" fill="none" stroke="#bf1420" stroke-width="4.5"/>
<path d="M33.77,526.77 A126.9,126.9 0 0 1 33.12,525.87" fill="none" stroke="#3d9a3d" stroke-width="4.5"/>
<path d="M33.18,525.96 A126.9,126.9 0 0 1 32.22,524.61" fill="none" stroke="#bf1420" stroke-width="4.5"/>
<path d="M32.29,524.70 A126.9,126.9 0 0 1 31.72,523.88" fill="none" stroke="#bf1420" stroke-width="4.5"/>
<path d="M31.78,523.97 A126.9,126.9 0 0 1 30.97,522.78" fill="none" stroke="#3d9a3d" stroke-width="4.5"/>
<path d="M31.03,522.87 A126.9,126.9 0 0 1 29.87,521.11" fill="none" stroke="#bf1420" stroke-width="4.5"/>
<path d="M29.93,521.21 A126.9,126.9 0 0 1 29.15,520.00" fill="none" stroke="#cdbfc0" stroke-width="4.5"/>
<path d="M29.21,520.09 A126.9,126.9 0 0 1 28.68,519.25" fill="none" stroke="#bf1420" stroke-width="4.5"/>
<path d="M28.74,519.34 A126.9,126.9 0 0 1 28.22,518.49" fill="none" stroke="#3d9a3d" stroke-width="4.5"/>
<path d="M28.27,518.59 A126.9,126.9 0 0 1 27.64,517.55" fill="none" stroke="#bf1420" stroke-width="4.5"/>
<path d="M27.70,517.64 A126.9,126.9 0 0 1 26.85,516.22" fill="none" stroke="#bf1420" stroke-width="4.5"/>
<path d="M26.90,516.31 A126.9,126.9 0 0 1 26.35,515.35" fill="none" stroke="#3d9a3d" stroke-width="4.5"/>
<path d="M26.40,515.45 A126.9,126.9 0 0 1 25.91,514.58" fill="none" stroke="#bf1420" stroke-width="4.5"/>
<path d="M25.96,514.68 A126.9,126.9 0 0 1 25.36,513.62" fill="none" stroke="#bf1420" stroke-width="4.5"/>
<path d="M25.42,513.72 A126.9,126.9 0 0 1 24.83,512.65" fill="none" stroke="#bf1420" stroke-width="4.5"/>
<path d="M24.88,512.75 A126.9,126.9 0 0 1 24.10,511.28" fill="none" stroke="#bf1420" stroke-width="4.5"/>
<path d="M24.15,511.38 A126.9,126.9 0 0 1 23.38,509.91" fill="none" stroke="#bf1420" stroke-width="4.5"/>
<path d="M23.43,510.01 A126.9,126.9 0 0 1 22.98,509.12" fill="none" stroke="#3d9a3d" stroke-width="4.5"/>
<path d="M23.03,509.22 A126.9,126.9 0 0 1 22.10,507.33" fill="none" stroke="#bf1420" stroke-width="4.5"/>
<path d="M22.15,507.43 A126.9,126.9 0 0 1 21.43,505.93" fill="none" stroke="#3d9a3d" stroke-width="4.5"/>
<path d="M21.48,506.03 A126.9,126.9 0 0 1 21.06,505.13" fill="none" stroke="#bf1420" stroke-width="4.5"/>
<path d="M21.10,505.23 A126.9,126.9 0 0 1 20.64,504.22" fill="none" stroke="#bf1420" stroke-width="4.5"/>
<path d="M20.69,504.32 A126.9,126.9 0 0 1 20.24,503.31" fill="none" stroke="#3d9a3d" stroke-width="4.5"/>
<path d="M20.28,503.41 A126.9,126.9 0 0 1 19.62,501.89" fill="none" stroke="#bf1420" stroke-width="4.5"/>
<path d="M19.66,501.99 A126.9,126.9 0 0 1 19.27,501.07" fill="none" stroke="#bf1420" stroke-width="4.5"/>
<path d="M19.32,501.18 A126.9,126.9 0 0 1 18.77,499.85" fill="none" stroke="#bf1420" stroke-width="4.5"/>
<path d="M18.81,499.95 A126.9,126.9 0 0 1 18.19,498.41" fill="none" stroke="#bf1420" stroke-width="4.5"/>
<path d="M18.23,498.51 A126.9,126.9 0 0 1 17.79,497.37" fill="none" stroke="#bf1420" stroke-width="4.5"/>
<path d="M17.83,497.48 A126.9,126.9 0 0 1 17.40,496.34" fill="none" stroke="#bf1420" stroke-width="4.5"/>
<path d="M17.44,496.44 A126.9,126.9 0 0 1 17.02,495.30" fill="none" stroke="#bf1420" stroke-width="4.5"/>
<path d="M16.31,493.31 A126.9,126.9 0 0 1 15.92,492.16" fill="none" stroke="#3d9a3d" stroke-width="4.5"/>
<path d="M15.96,492.27 A126.9,126.9 0 0 1 15.31,490.27" fill="none" stroke="#bf1420" stroke-width="4.5"/>
<path d="M15.34,490.37 A126.9,126.9 0 0 1 15.04,489.42" fill="none" stroke="#3d9a3d" stroke-width="4.5"/>
<path d="M15.08,489.53 A126.9,126.9 0 0 1 14.59,487.94" fill="none" stroke="#bf1420" stroke-width="4.5"/>
<path d="M14.63,488.04 A126.9,126.9 0 0 1 14.32,486.98" fill="none" stroke="#bf1420" stroke-width="4.5"/>
<path d="M14.35,487.08 A126.9,126.9 0 0 1 13.78,485.06" fill="none" stroke="#bf1420" stroke-width="4.5"/>
<path d="M13.81,485.16 A126.9,126.9 0 0 1 13.50,483.99" fill="none" stroke="#3d9a3d" stroke-width="4.5"/>
<path d="M13.53,484.09 A126.9,126.9 0 0 1 13.28,483.13" fill="none" stroke="#bf1420" stroke-width="4.5"/>
<path d="M13.30,483.24 A126.9,126.9 0 0 1 12.80,481.19" fill="none" stroke="#cdbfc0" stroke-width="4.5"/>
<path d="M12.83,481.30 A126.9,126.9 0 0 1 12.60,480.33" fill="none" stroke="#3d9a3d" stroke-width="4.5"/>
<path d="M12.63,480.44 A126.9,126.9 0 0 1 12.38,479.36" fill="none" stroke="#bf1420" stroke-width="4.5"/>
<path d="M12.41,479.47 A126.9,126.9 0 0 1 12.10,478.06" fill="none" stroke="#bf1420" stroke-width="4.5"/>
<path d="M12.13,478.17 A126.9,126.9 0 0 1 11.90,477.08" fill="none" stroke="#bf1420" stroke-width="4.5"/>
<path d="M11.93,477.19 A126.9,126.9 0 0 1 11.73,476.21" fill="none" stroke="#cdbfc0" stroke-width="4.5"/>
<path d="M11.75,476.32 A126.9,126.9 0 0 1 11.37,474.25" fill="none" stroke="#cdbfc0" stroke-width="4.5"/>
<path d="M11.39,474.36 A126.9,126.9 0 0 1 11.20,473.27" fill="none" stroke="#cdbfc0" stroke-width="4.5"/>
<path d="M11.21,473.38 A126.9,126.9 0 0 1 11.03,472.29" fill="none" stroke="#bf1420" stroke-width="4.5"/>
<path d="M11.05,472.40 A126.9,126.9 0 0 1 10.89,471.41" fill="none" stroke="#bf1420" stroke-width="4.5"/>
<path d="M10.91,471.52 A126.9,126.9 0 0 1 10.70,470.10" fill="none" stroke="#bf1420" stroke-width="4.5"/>
<path d="M10.71,470.21 A126.9,126.9 0 0 1 10.56,469.11" fill="none" stroke="#3d9a3d" stroke-width="4.5"/>
<path d="M10.57,469.22 A126.9,126.9 0 0 1 10.47,468.45" fill="none" stroke="#bf1420" stroke-width="4.5"/>
<path d="M10.22,466.37 A126.9,126.9 0 0 1 10.11,465.37" fill="none" stroke="#bf1420" stroke-width="4.5"/>
<path d="M10.12,465.48 A126.9,126.9 0 0 1 10.01,464.38" fill="none" stroke="#3d9a3d" stroke-width="4.5"/>
<path d="M10.02,464.49 A126.9,126.9 0 0 1 9.88,463.06" fill="none" stroke="#bf1420" stroke-width="4.5"/>
<path d="M9.89,463.17 A126.9,126.9 0 0 1 9.72,461.07" fill="none" stroke="#bf1420" stroke-width="4.5"/>
<path d="M9.73,461.18 A126.9,126.9 0 0 1 9.64,459.75" fill="none" stroke="#bf1420" stroke-width="4.5"/>
<path d="M9.64,459.86 A126.9,126.9 0 0 1 9.53,457.76" fill="none" stroke="#bf1420" stroke-width="4.5"/>
<path d="M9.54,457.87 A126.9,126.9 0 0 1 9.49,456.76" fill="none" stroke="#cdbfc0" stroke-width="4.5"/>
<path d="M9.49,456.87 A126.9,126.9 0 0 1 9.43,454.77" fill="none" stroke="#bf1420" stroke-width="4.5"/>
<path d="M9.43,454.88 A126.9,126.9 0 0 1 9.41,453.44" fill="none" stroke="#bf1420" stroke-width="4.5"/>
<path d="M9.41,453.55 A126.9,126.9 0 0 1 9.40,452.33" fill="none" stroke="#3d9a3d" stroke-width="4.5"/>
<path d="M9.40,452.44 A126.9,126.9 0 0 1 9.41,450.78" fill="none" stroke="#3d9a3d" stroke-width="4.5"/>
<path d="M9.40,450.89 A126.9,126.9 0 0 1 9.42,449.67" fill="none" stroke="#bf1420" stroke-width="4.5"/>
<path d="M9.42,449.79 A126.9,126.9 0 0 1 9.47,447.68" fill="none" stroke="#3d9a3d" stroke-width="4.5"/>
<path d="M9.47,447.79 A126.9,126.9 0 0 1 9.56,445.69" fill="none" stroke="#bf1420" stroke-width="4.5"/>
<path d="M9.55,445.80 A126.9,126.9 0 0 1 9.67,443.70" fill="none" stroke="#bf1420" stroke-width="4.5"/>
<path d="M9.66,443.81 A126.9,126.9 0 0 1 9.74,442.71" fill="none" stroke="#bf1420" stroke-width="4.5"/>
<path d="M9.73,442.82 A126.9,126.9 0 0 1 9.82,441.71" fill="none" stroke="#bf1420" stroke-width="4.5"/>
<path d="M9.81,441.82 A126.9,126.9 0 0 1 9.99,439.73" fill="none" stroke="#cdbfc0" stroke-width="4.5"/>
<path d="M9.98,439.84 A126.9,126.9 0 0 1 10.20,437.74" fill="none" stroke="#bf1420" stroke-width="4.5"/>
<path d="M10.19,437.85 A126.9,126.9 0 0 1 10.31,436.86" fill="none" stroke="#bf1420" stroke-width="4.5"/>
<path d="M10.29,436.97 A126.9,126.9 0 0 1 10.44,435.77" fill="none" stroke="#bf1420" stroke-width="4.5"/>
<path d="M10.43,435.88 A126.9,126.9 0 0 1 10.65,434.23" fill="none" stroke="#bf1420" stroke-width="4.5"/>
<path d="M10.63,434.34 A126.9,126.9 0 0 1 10.79,433.24" fill="none" stroke="#bf1420" stroke-width="4.5"/>
<path d="M10.78,433.35 A126.9,126.9 0 0 1 10.93,432.37" fill="none" stroke="#3d9a3d" stroke-width="4.5"/>
<path d="M10.91,432.48 A126.9,126.9 0 0 1 11.25,430.40" fill="none" stroke="#bf1420" stroke-width="4.5"/>
<path d="M11.23,430.51 A126.9,126.9 0 0 1 11.43,429.42" fill="none" stroke="#bf1420" stroke-width="4.5"/>
<path d="M11.41,429.53 A126.9,126.9 0 0 1 11.63,428.33" fill="none" stroke="#bf1420" stroke-width="4.5"/>
<path d="M11.61,428.44 A126.9,126.9 0 0 1 11.84,427.24" fill="none" stroke="#bf1420" stroke-width="4.5"/>
<path d="M11.82,427.35 A126.9,126.9 0 0 1 12.06,426.16" fill="none" stroke="#bf1420" stroke-width="4.5"/>
<path d="M12.04,426.27 A126.9,126.9 0 0 1 12.27,425.18" fill="none" stroke="#3d9a3d" stroke-width="4.5"/>
<path d="M12.24,425.29 A126.9,126.9 0 0 1 12.46,424.32" fill="none" stroke="#3d9a3d" stroke-width="4.5"/>
<path d="M12.43,424.43 A126.9,126.9 0 0 1 12.75,423.02" fill="none" stroke="#3d9a3d" stroke-width="4.5"/>
<path d="M12.73,423.13 A126.9,126.9 0 0 1 13.12,421.52" fill="none" stroke="#3d9a3d" stroke-width="4.5"/>
<path d="M13.09,421.62 A126.9,126.9 0 0 1 13.36,420.55" fill="none" stroke="#bf1420" stroke-width="4.5"/>
<path d="M13.33,420.66 A126.9,126.9 0 0 1 13.87,418.62" fill="none" stroke="#bf1420" stroke-width="4.5"/>
<path d="M13.84,418.73 A126.9,126.9 0 0 1 14.13,417.66" fill="none" stroke="#bf1420" stroke-width="4.5"/>
<path d="M14.10,417.77 A126.9,126.9 0 0 1 14.69,415.75" fill="none" stroke="#3d9a3d" stroke-width="4.5"/>
<path d="M14.66,415.85 A126.9,126.9 0 0 1 15.14,414.26" fill="none" stroke="#bf1420" stroke-width="4.5"/>
<path d="M15.11,414.37 A126.9,126.9 0 0 1 15.61,412.79" fill="none" stroke="#3d9a3d" stroke-width="4.5"/>
<path d="M15.58,412.89 A126.9,126.9 0 0 1 15.92,411.84" fill="none" stroke="#bf1420" stroke-width="4.5"/>
<path d="M15.89,411.94 A126.9,126.9 0 0 1 16.28,410.79" fill="none" stroke="#bf1420" stroke-width="4.5"/>
<path d="M16.24,410.89 A126.9,126.9 0 0 1 16.72,409.54" fill="none" stroke="#3d9a3d" stroke-width="4.5"/>
<path d="M17.44,407.56 A126.9,126.9 0 0 1 17.79,406.63" fill="none" stroke="#bf1420" stroke-width="4.5"/>
<path d="M17.75,406.73 A126.9,126.9 0 0 1 18.27,405.39" fill="none" stroke="#3d9a3d" stroke-width="4.5"/>
<path d="M18.23,405.49 A126.9,126.9 0 0 1 18.77,404.15" fill="none" stroke="#3d9a3d" stroke-width="4.5"/>
<path d="M18.72,404.26 A126.9,126.9 0 0 1 19.27,402.93" fill="none" stroke="#bf1420" stroke-width="4.5"/>
<path d="M19.23,403.03 A126.9,126.9 0 0 1 19.62,402.11" fill="none" stroke="#bf1420" stroke-width="4.5"/>
<path d="M19.57,402.21 A126.9,126.9 0 0 1 20.01,401.20" fill="none" stroke="#cdbfc0" stroke-width="4.5"/>
<path d="M19.97,401.30 A126.9,126.9 0 0 1 20.64,399.78" fill="none" stroke="#bf1420" stroke-width="4.5"/>
<path d="M20.60,399.88 A126.9,126.9 0 0 1 21.10,398.77" fill="none" stroke="#bf1420" stroke-width="4.5"/>
<path d="M21.06,398.87 A126.9,126.9 0 0 1 21.95,396.97" fill="none" stroke="#bf1420" stroke-width="4.5"/>
<path d="M21.91,397.07 A126.9,126.9 0 0 1 22.39,396.07" fill="none" stroke="#bf1420" stroke-width="4.5"/>
<path d="M22.34,396.17 A126.9,126.9 0 0 1 23.28,394.29" fill="none" stroke="#3d9a3d" stroke-width="4.5"/>
<path d="M23.23,394.39 A126.9,126.9 0 0 1 23.79,393.31" fill="none" stroke="#cdbfc0" stroke-width="4.5"/>
<path d="M23.74,393.40 A126.9,126.9 0 0 1 24.31,392.33" fill="none" stroke="#3d9a3d" stroke-width="4.5"/>
<path d="M24.25,392.42 A126.9,126.9 0 0 1 25.04,390.96" fill="none" stroke="#3d9a3d" stroke-width="4.5"/>
<path d="M24.99,391.06 A126.9,126.9 0 0 1 26.02,389.22" fill="none" stroke="#cdbfc0" stroke-width="4.5"/>
<path d="M25.96,389.32 A126.9,126.9 0 0 1 26.68,388.07" fill="none" stroke="#bf1420" stroke-width="4.5"/>
<path d="M26.62,388.17 A126.9,126.9 0 0 1 27.24,387.12" fill="none" stroke="#bf1420" stroke-width="4.5"/>
<path d="M27.18,387.21 A126.9,126.9 0 0 1 27.75,386.26" fill="none" stroke="#bf1420" stroke-width="4.5"/>
<path d="M27.70,386.36 A126.9,126.9 0 0 1 28.80,384.57" fill="none" stroke="#cdbfc0" stroke-width="4.5"/>
<path d="M28.74,384.66 A126.9,126.9 0 0 1 29.33,383.72" fill="none" stroke="#bf1420" stroke-width="4.5"/>
<path d="M29.27,383.82 A126.9,126.9 0 0 1 29.93,382.79" fill="none" stroke="#bf1420" stroke-width="4.5"/>
<path d="M29.87,382.89 A126.9,126.9 0 0 1 31.03,381.13" fill="none" stroke="#bf1420" stroke-width="4.5"/>
<path d="M30.97,381.22 A126.9,126.9 0 0 1 31.78,380.03" fill="none" stroke="#3d9a3d" stroke-width="4.5"/>
<path d="M32.99,378.31 A126.9,126.9 0 0 1 34.22,376.61" fill="none" stroke="#bf1420" stroke-width="4.5"/>
<path d="M34.16,376.70 A126.9,126.9 0 0 1 35.02,375.54" fill="none" stroke="#bf1420" stroke-width="4.5"/>
<path d="M34.95,375.63 A126.9,126.9 0 0 1 35.96,374.31" fill="none" stroke="#bf1420" stroke-width="4.5"/>
<path d="M35.89,374.40 A126.9,126.9 0 0 1 36.57,373.52" fill="none" stroke="#bf1420" stroke-width="4.5"/>
<path d="M36.51,373.61 A126.9,126.9 0 0 1 37.40,372.48" fill="none" stroke="#cdbfc0" stroke-width="4.5"/>
<path d="M37.33,372.57 A126.9,126.9 0 0 1 38.10,371.62" fill="none" stroke="#3d9a3d" stroke-width="4.5"/>
<path d="M38.03,371.71 A126.9,126.9 0 0 1 38.73,370.86" fill="none" stroke="#bf1420" stroke-width="4.5"/>
<path d="M38.66,370.94 A126.9,126.9 0 0 1 39.73,369.67" fill="none" stroke="#bf1420" stroke-width="4.5"/>
<path d="M39.66,369.75 A126.9,126.9 0 0 1 40.45,368.83" fill="none" stroke="#cdbfc0" stroke-width="4.5"/>
<path d="M40.38,368.91 A126.9,126.9 0 0 1 41.77,367.33" fill="none" stroke="#3d9a3d" stroke-width="4.5"/>
<path d="M41.70,367.42 A126.9,126.9 0 0 1 42.66,366.35" fill="none" stroke="#bf1420" stroke-width="4.5"/>
<path d="M42.59,366.43 A126.9,126.9 0 0 1 43.72,365.21" fill="none" stroke="#bf1420" stroke-width="4.5"/>
<path d="M43.64,365.29 A126.9,126.9 0 0 1 44.79,364.09" fill="none" stroke="#bf1420" stroke-width="4.5"/>
<path d="M44.71,364.17 A126.9,126.9 0 0 1 45.40,363.45" fill="none" stroke="#bf1420" stroke-width="4.5"/>
<path d="M45.32,363.53 A126.9,126.9 0 0 1 46.02,362.82" fill="none" stroke="#cdbfc0" stroke-width="4.5"/>
<path d="M45.94,362.90 A126.9,126.9 0 0 1 46.65,362.19" fill="none" stroke="#bf1420" stroke-width="4.5"/>
<path d="M46.57,362.27 A126.9,126.9 0 0 1 48.07,360.79" fill="none" stroke="#bf1420" stroke-width="4.5"/>
<path d="M47.99,360.87 A126.9,126.9 0 0 1 49.51,359.42" fill="none" stroke="#3d9a3d" stroke-width="4.5"/>
<path d="M49.43,359.49 A126.9,126.9 0 0 1 50.49,358.51" fill="none" stroke="#bf1420" stroke-width="4.5"/>
<path d="M50.40,358.59 A126.9,126.9 0 0 1 51.22,357.84" fill="none" stroke="#bf1420" stroke-width="4.5"/>
<path d="M51.14,357.92 A126.9,126.9 0 0 1 52.38,356.81" fill="none" stroke="#bf1420" stroke-width="4.5"/>
<path d="M52.30,356.88 A126.9,126.9 0 0 1 53.38,355.94" fill="none" stroke="#bf1420" stroke-width="4.5"/>
<path d="M53.30,356.01 A126.9,126.9 0 0 1 54.22,355.22" fill="none" stroke="#3d9a3d" stroke-width="4.5"/>
<path d="M54.14,355.29 A126.9,126.9 0 0 1 55.07,354.50" fill="none" stroke="#bf1420" stroke-width="4.5"/>
<path d="M54.99,354.58 A126.9,126.9 0 0 1 56.10,353.66" fill="none" stroke="#bf1420" stroke-width="4.5"/>
<path d="M56.01,353.73 A126.9,126.9 0 0 1 57.39,352.62" fill="none" stroke="#bf1420" stroke-width="4.5"/>
<path d="M59.05,351.32 A126.9,126.9 0 0 1 60.37,350.32" fill="none" stroke="#cdbfc0" stroke-width="4.5"/>
<path d="M60.28,350.39 A126.9,126.9 0 0 1 61.44,349.53" fill="none" stroke="#3d9a3d" stroke-width="4.5"/>
<path d="M61.35,349.60 A126.9,126.9 0 0 1 63.06,348.37" fill="none" stroke="#bf1420" stroke-width="4.5"/>
<path d="M62.97,348.43 A126.9,126.9 0 0 1 63.79,347.86" fill="none" stroke="#3d9a3d" stroke-width="4.5"/>
<path d="M63.69,347.92 A126.9,126.9 0 0 1 64.51,347.36" fill="none" stroke="#cdbfc0" stroke-width="4.5"/>
<path d="M64.42,347.42 A126.9,126.9 0 0 1 65.80,346.49" fill="none" stroke="#3d9a3d" stroke-width="4.5"/>
<path d="M65.71,346.55 A126.9,126.9 0 0 1 67.09,345.63" fill="none" stroke="#bf1420" stroke-width="4.5"/>
<path d="M67.00,345.69 A126.9,126.9 0 0 1 67.84,345.15" fill="none" stroke="#3d9a3d" stroke-width="4.5"/>
<path d="M67.74,345.21 A126.9,126.9 0 0 1 68.96,344.44" fill="none" stroke="#cdbfc0" stroke-width="4.5"/>
<path d="M68.87,344.50 A126.9,126.9 0 0 1 69.81,343.92" fill="none" stroke="#bf1420" stroke-width="4.5"/>
<path d="M69.71,343.97 A126.9,126.9 0 0 1 70.66,343.40" fill="none" stroke="#cdbfc0" stroke-width="4.5"/>
<path d="M70.56,343.45 A126.9,126.9 0 0 1 71.80,342.72" fill="none" stroke="#3d9a3d" stroke-width="4.5"/>
<path d="M71.70,342.77 A126.9,126.9 0 0 1 72.75,342.16" fill="none" stroke="#bf1420" stroke-width="4.5"/>
<path d="M72.66,342.21 A126.9,126.9 0 0 1 73.91,341.50" fill="none" stroke="#bf1420" stroke-width="4.5"/>
<path d="M73.81,341.55 A126.9,126.9 0 0 1 74.87,340.96" fill="none" stroke="#cdbfc0" stroke-width="4.5"/>
<path d="M74.78,341.01 A126.9,126.9 0 0 1 75.65,340.53" fill="none" stroke="#bf1420" stroke-width="4.5"/>
<path d="M75.55,340.58 A126.9,126.9 0 0 1 77.41,339.59" fill="none" stroke="#bf1420" stroke-width="4.5"/>
<path d="M77.31,339.64 A126.9,126.9 0 0 1 79.18,338.68" fill="none" stroke="#bf1420" stroke-width="4.5"/>
<path d="M79.08,338.73 A126.9,126.9 0 0 1 79.38,338.58" fill="none" stroke="#cdbfc0" stroke-width="4.5"/>
<path d="M80.67,337.94 A126.9,126.9 0 0 1 81.97,337.32" fill="none" stroke="#bf1420" stroke-width="4.5"/>
<path d="M81.87,337.37 A126.9,126.9 0 0 1 83.17,336.76" fill="none" stroke="#cdbfc0" stroke-width="4.5"/>
<path d="M83.07,336.80 A126.9,126.9 0 0 1 83.98,336.39" fill="none" stroke="#bf1420" stroke-width="4.5"/>
<path d="M83.88,336.43 A126.9,126.9 0 0 1 84.89,335.98" fill="none" stroke="#bf1420" stroke-width="4.5"/>
<path d="M84.79,336.03 A126.9,126.9 0 0 1 85.80,335.58" fill="none" stroke="#3d9a3d" stroke-width="4.5"/>
<path d="M85.70,335.63 A126.9,126.9 0 0 1 86.82,335.14" fill="none" stroke="#3d9a3d" stroke-width="4.5"/>
<path d="M88.35,334.51 A126.9,126.9 0 0 1 89.89,333.89" fill="none" stroke="#3d9a3d" stroke-width="4.5"/>
<path d="M89.79,333.93 A126.9,126.9 0 0 1 91.13,333.41" fill="none" stroke="#bf1420" stroke-width="4.5"/>
<path d="M91.03,333.45 A126.9,126.9 0 0 1 92.17,333.02" fill="none" stroke="#bf1420" stroke-width="4.5"/>
<path d="M92.07,333.06 A126.9,126.9 0 0 1 93.21,332.64" fill="none" stroke="#3d9a3d" stroke-width="4.5"/>
<path d="M93.11,332.68 A126.9,126.9 0 0 1 94.67,332.12" fill="none" stroke="#bf1420" stroke-width="4.5"/>
<path d="M94.57,332.16 A126.9,126.9 0 0 1 95.72,331.76" fill="none" stroke="#bf1420" stroke-width="4.5"/>
<path d="M95.61,331.80 A126.9,126.9 0 0 1 96.98,331.35" fill="none" stroke="#cdbfc0" stroke-width="4.5"/>
<path d="M96.88,331.38 A126.9,126.9 0 0 1 98.03,331.01" fill="none" stroke="#3d9a3d" stroke-width="4.5"/>
<path d="M97.93,331.04 A126.9,126.9 0 0 1 98.88,330.74" fill="none" stroke="#bf1420" stroke-width="4.5"/>
<path d="M98.77,330.78 A126.9,126.9 0 0 1 99.83,330.45" fill="none" stroke="#bf1420" stroke-width="4.5"/>
<path d="M99.73,330.48 A126.9,126.9 0 0 1 100.79,330.17" fill="none" stroke="#cdbfc0" stroke-width="4.5"/>
<path d="M100.68,330.20 A126.9,126.9 0 0 1 102.07,329.80" fill="none" stroke="#cdbfc0" stroke-width="4.5"/>
<path d="M101.96,329.83 A126.9,126.9 0 0 1 103.56,329.40" fill="none" stroke="#3d9a3d" stroke-width="4.5"/>
<path d="M103.46,329.42 A126.9,126.9 0 0 1 104.42,329.17" fill="none" stroke="#3d9a3d" stroke-width="4.5"/>
<path d="M104.31,329.20 A126.9,126.9 0 0 1 105.39,328.92" fill="none" stroke="#3d9a3d" stroke-width="4.5"/>
<path d="M105.28,328.95 A126.9,126.9 0 0 1 106.68,328.61" fill="none" stroke="#cdbfc0" stroke-width="4.5"/>
<path d="M106.57,328.63 A126.9,126.9 0 0 1 107.86,328.33" fill="none" stroke="#3d9a3d" stroke-width="4.5"/>
<path d="M109.48,327.97 A126.9,126.9 0 0 1 111.54,327.54" fill="none" stroke="#bf1420" stroke-width="4.5"/>
<path d="M111.43,327.56 A126.9,126.9 0 0 1 112.52,327.35" fill="none" stroke="#bf1420" stroke-width="4.5"/>
<path d="M112.41,327.37 A126.9,126.9 0 0 1 113.61,327.14" fill="none" stroke="#bf1420" stroke-width="4.5"/>
<path d="M113.50,327.16 A126.9,126.9 0 0 1 115.14,326.88" fill="none" stroke="#bf1420" stroke-width="4.5"/>
<path d="M115.03,326.90 A126.9,126.9 0 0 1 117.11,326.56" fill="none" stroke="#cdbfc0" stroke-width="4.5"/>
<path d="M117.00,326.58 A126.9,126.9 0 0 1 118.20,326.40" fill="none" stroke="#bf1420" stroke-width="4.5"/>
<path d="M118.09,326.41 A126.9,126.9 0 0 1 119.08,326.27" fill="none" stroke="#bf1420" stroke-width="4.5"/>
<path d="M118.97,326.29 A126.9,126.9 0 0 1 120.07,326.14" fill="none" stroke="#bf1420" stroke-width="4.5"/>
<path d="M119.96,326.16 A126.9,126.9 0 0 1 121.05,326.02" fill="none" stroke="#bf1420" stroke-width="4.5"/>
<path d="M120.94,326.03 A126.9,126.9 0 0 1 121.93,325.92" fill="none" stroke="#bf1420" stroke-width="4.5"/>
<path d="M121.82,325.93 A126.9,126.9 0 0 1 122.70,325.83" fill="none" stroke="#bf1420" stroke-width="4.5"/>
<path d="M124.14,325.68 A126.9,126.9 0 0 1 125.13,325.59" fill="none" stroke="#3d9a3d" stroke-width="4.5"/>
<path d="M125.02,325.60 A126.9,126.9 0 0 1 127.12,325.43" fill="none" stroke="#bf1420" stroke-width="4.5"/>
<path d="M127.01,325.44 A126.9,126.9 0 0 1 129.11,325.30" fill="none" stroke="#3d9a3d" stroke-width="4.5"/>
<path d="M129.00,325.31 A126.9,126.9 0 0 1 130.65,325.23" fill="none" stroke="#bf1420" stroke-width="4.5"/>
<path d="M130.54,325.23 A126.9,126.9 0 0 1 131.65,325.19" fill="none" stroke="#bf1420" stroke-width="4.5"/>
<path d="M131.54,325.19 A126.9,126.9 0 0 1 133.64,325.13" fill="none" stroke="#bf1420" stroke-width="4.5"/>
<path d="M133.53,325.13 A126.9,126.9 0 0 1 134.97,325.11" fill="none" stroke="#bf1420" stroke-width="4.5"/>
<path d="M134.86,325.11 A126.9,126.9 0 0 1 136.52,325.10" fill="none" stroke="#bf1420" stroke-width="4.5"/>
<path d="M136.41,325.10 A126.9,126.9 0 0 1 137.85,325.11" fill="none" stroke="#bf1420" stroke-width="4.5"/>
<path d="M137.74,325.11 A126.9,126.9 0 0 1 138.96,325.13" fill="none" stroke="#bf1420" stroke-width="4.5"/>
<path d="M138.85,325.13 A126.9,126.9 0 0 1 140.29,325.16" fill="none" stroke="#bf1420" stroke-width="4.5"/>
<path d="M140.18,325.16 A126.9,126.9 0 0 1 140.40,325.17" fill="none" stroke="#cdbfc0" stroke-width="4.5"/>
<path d="M141.84,325.22 A126.9,126.9 0 0 1 143.94,325.33" fill="none" stroke="#3d9a3d" stroke-width="4.5"/>
<path d="M143.83,325.32 A126.9,126.9 0 0 1 145.04,325.40" fill="none" stroke="#bf1420" stroke-width="4.5"/>
<path d="M144.93,325.39 A126.9,126.9 0 0 1 146.04,325.47" fill="none" stroke="#bf1420" stroke-width="4.5"/>
<path d="M145.93,325.47 A126.9,126.9 0 0 1 147.36,325.58" fill="none" stroke="#bf1420" stroke-width="4.5"/>
<path d="M147.25,325.57 A126.9,126.9 0 0 1 149.34,325.77" fill="none" stroke="#cdbfc0" stroke-width="4.5"/>
<path d="M149.23,325.76 A126.9,126.9 0 0 1 150.23,325.87" fill="none" stroke="#bf1420" stroke-width="4.5"/>
<path d="M150.12,325.85 A126.9,126.9 0 0 1 151.11,325.97" fill="none" stroke="#cdbfc0" stroke-width="4.5"/>
<path d="M151.00,325.95 A126.9,126.9 0 0 1 153.08,326.21" fill="none" stroke="#3d9a3d" stroke-width="4.5"/>
<path d="M152.97,326.20 A126.9,126.9 0 0 1 154.07,326.35" fill="none" stroke="#bf1420" stroke-width="4.5"/>
<path d="M153.96,326.33 A126.9,126.9 0 0 1 154.95,326.48" fill="none" stroke="#bf1420" stroke-width="4.5"/>
<path d="M154.84,326.46 A126.9,126.9 0 0 1 155.82,326.61" fill="none" stroke="#cdbfc0" stroke-width="4.5"/>
<path d="M155.71,326.59 A126.9,126.9 0 0 1 157.79,326.93" fill="none" stroke="#bf1420" stroke-width="4.5"/>
<path d="M157.68,326.91 A126.9,126.9 0 0 1 159.32,327.20" fill="none" stroke="#bf1420" stroke-width="4.5"/>
<path d="M159.21,327.18 A126.9,126.9 0 0 1 161.27,327.58" fill="none" stroke="#bf1420" stroke-width="4.5"/>
<path d="M161.17,327.56 A126.9,126.9 0 0 1 162.79,327.90" fill="none" stroke="#3d9a3d" stroke-width="4.5"/>
<path d="M162.68,327.87 A126.9,126.9 0 0 1 163.87,328.13" fill="none" stroke="#3d9a3d" stroke-width="4.5"/>
<path d="M163.77,328.11 A126.9,126.9 0 0 1 164.09,328.18" fill="none" stroke="#bf1420" stroke-width="4.5"/>
<path d="M165.92,328.61 A126.9,126.9 0 0 1 167.11,328.90" fill="none" stroke="#bf1420" stroke-width="4.5"/>
<path d="M167.00,328.87 A126.9,126.9 0 0 1 168.39,329.23" fill="none" stroke="#3d9a3d" stroke-width="4.5"/>
<path d="M168.29,329.20 A126.9,126.9 0 0 1 169.46,329.51" fill="none" stroke="#bf1420" stroke-width="4.5"/>
<path d="M169.36,329.48 A126.9,126.9 0 0 1 170.53,329.80" fill="none" stroke="#3d9a3d" stroke-width="4.5"/>
<path d="M170.43,329.77 A126.9,126.9 0 0 1 172.45,330.36" fill="none" stroke="#3d9a3d" stroke-width="4.5"/>
<path d="M172.34,330.33 A126.9,126.9 0 0 1 173.72,330.74" fill="none" stroke="#3d9a3d" stroke-width="4.5"/>
<path d="M173.61,330.71 A126.9,126.9 0 0 1 174.57,331.01" fill="none" stroke="#bf1420" stroke-width="4.5"/>
<path d="M174.46,330.97 A126.9,126.9 0 0 1 176.04,331.48" fill="none" stroke="#bf1420" stroke-width="4.5"/>
<path d="M175.94,331.45 A126.9,126.9 0 0 1 177.93,332.12" fill="none" stroke="#3d9a3d" stroke-width="4.5"/>
<path d="M177.82,332.09 A126.9,126.9 0 0 1 178.87,332.45" fill="none" stroke="#bf1420" stroke-width="4.5"/>
<path d="M178.76,332.42 A126.9,126.9 0 0 1 180.12,332.91" fill="none" stroke="#bf1420" stroke-width="4.5"/>
<path d="M181.78,333.53 A126.9,126.9 0 0 1 183.12,334.05" fill="none" stroke="#bf1420" stroke-width="4.5"/>
<path d="M183.02,334.01 A126.9,126.9 0 0 1 183.94,334.38" fill="none" stroke="#bf1420" stroke-width="4.5"/>
<path d="M183.84,334.34 A126.9,126.9 0 0 1 184.76,334.72" fill="none" stroke="#bf1420" stroke-width="4.5"/>
<path d="M184.66,334.68 A126.9,126.9 0 0 1 185.17,334.89" fill="none" stroke="#bf1420" stroke-width="4.5"/>
<path d="M186.29,335.36 A126.9,126.9 0 0 1 187.21,335.76" fill="none" stroke="#bf1420" stroke-width="4.5"/>
<path d="M187.10,335.71 A126.9,126.9 0 0 1 188.42,336.30" fill="none" stroke="#cdbfc0" stroke-width="4.5"/>
<path d="M188.32,336.25 A126.9,126.9 0 0 1 189.33,336.71" fill="none" stroke="#3d9a3d" stroke-width="4.5"/>
<path d="M189.23,336.66 A126.9,126.9 0 0 1 190.23,337.13" fill="none" stroke="#3d9a3d" stroke-width="4.5"/>
<path d="M190.13,337.08 A126.9,126.9 0 0 1 191.43,337.70" fill="none" stroke="#bf1420" stroke-width="4.5"/>
<path d="M191.33,337.65 A126.9,126.9 0 0 1 192.62,338.28" fill="none" stroke="#3d9a3d" stroke-width="4.5"/>
<path d="M192.53,338.24 A126.9,126.9 0 0 1 193.62,338.78" fill="none" stroke="#bf1420" stroke-width="4.5"/>
<path d="M195.29,339.64 A126.9,126.9 0 0 1 197.14,340.64" fill="none" stroke="#bf1420" stroke-width="4.5"/>
<path d="M197.05,340.58 A126.9,126.9 0 0 1 198.02,341.12" fill="none" stroke="#3d9a3d" stroke-width="4.5"/>
<path d="M197.92,341.06 A126.9,126.9 0 0 1 199.37,341.88" fill="none" stroke="#bf1420" stroke-width="4.5"/>
<path d="M199.27,341.83 A126.9,126.9 0 0 1 200.32,342.44" fill="none" stroke="#bf1420" stroke-width="4.5"/>
<path d="M200.23,342.38 A126.9,126.9 0 0 1 201.28,343.00" fill="none" stroke="#bf1420" stroke-width="4.5"/>
<path d="M201.18,342.94 A126.9,126.9 0 0 1 202.42,343.68" fill="none" stroke="#bf1420" stroke-width="4.5"/>
<path d="M202.32,343.63 A126.9,126.9 0 0 1 203.55,344.38" fill="none" stroke="#bf1420" stroke-width="4.5"/>
<path d="M203.45,344.32 A126.9,126.9 0 0 1 204.48,344.97" fill="none" stroke="#3d9a3d" stroke-width="4.5"/>
<path d="M204.39,344.91 A126.9,126.9 0 0 1 205.23,345.45" fill="none" stroke="#3d9a3d" stroke-width="4.5"/>
<path d="M205.14,345.39 A126.9,126.9 0 0 1 206.06,346.00" fill="none" stroke="#bf1420" stroke-width="4.5"/>
<path d="M205.97,345.94 A126.9,126.9 0 0 1 207.35,346.86" fill="none" stroke="#cdbfc0" stroke-width="4.5"/>
<path d="M207.26,346.80 A126.9,126.9 0 0 1 208.45,347.61" fill="none" stroke="#bf1420" stroke-width="4.5"/>
<path d="M210.35,348.95 A126.9,126.9 0 0 1 211.69,349.92" fill="none" stroke="#bf1420" stroke-width="4.5"/>
<path d="M211.60,349.86 A126.9,126.9 0 0 1 212.49,350.52" fill="none" stroke="#bf1420" stroke-width="4.5"/>
<path d="M212.40,350.45 A126.9,126.9 0 0 1 213.29,351.12" fill="none" stroke="#cdbfc0" stroke-width="4.5"/>
<path d="M213.20,351.05 A126.9,126.9 0 0 1 214.51,352.07" fill="none" stroke="#cdbfc0" stroke-width="4.5"/>
<path d="M214.43,352.00 A126.9,126.9 0 0 1 216.07,353.31" fill="none" stroke="#3d9a3d" stroke-width="4.5"/>
<path d="M215.99,353.24 A126.9,126.9 0 0 1 216.85,353.94" fill="none" stroke="#bf1420" stroke-width="4.5"/>
<path d="M216.76,353.87 A126.9,126.9 0 0 1 217.53,354.50" fill="none" stroke="#3d9a3d" stroke-width="4.5"/>
<path d="M217.44,354.43 A126.9,126.9 0 0 1 218.29,355.15" fill="none" stroke="#3d9a3d" stroke-width="4.5"/>
<path d="M218.21,355.07 A126.9,126.9 0 0 1 219.05,355.79" fill="none" stroke="#bf1420" stroke-width="4.5"/>
<path d="M218.97,355.72 A126.9,126.9 0 0 1 220.22,356.81" fill="none" stroke="#bf1420" stroke-width="4.5"/>
<path d="M220.14,356.74 A126.9,126.9 0 0 1 220.64,357.18" fill="none" stroke="#bf1420" stroke-width="4.5"/>
<path d="M222.20,358.59 A126.9,126.9 0 0 1 223.09,359.42" fill="none" stroke="#bf1420" stroke-width="4.5"/>
<path d="M223.01,359.34 A126.9,126.9 0 0 1 223.73,360.03" fill="none" stroke="#bf1420" stroke-width="4.5"/>
<path d="M223.65,359.95 A126.9,126.9 0 0 1 225.17,361.41" fill="none" stroke="#bf1420" stroke-width="4.5"/>
<path d="M225.09,361.33 A126.9,126.9 0 0 1 226.27,362.50" fill="none" stroke="#bf1420" stroke-width="4.5"/>
<path d="M226.19,362.42 A126.9,126.9 0 0 1 227.35,363.61" fill="none" stroke="#bf1420" stroke-width="4.5"/>
<path d="M227.28,363.53 A126.9,126.9 0 0 1 228.12,364.41" fill="none" stroke="#bf1420" stroke-width="4.5"/>
<path d="M228.04,364.33 A126.9,126.9 0 0 1 229.34,365.70" fill="none" stroke="#cdbfc0" stroke-width="4.5"/>
<path d="M230.75,367.25 A126.9,126.9 0 0 1 231.56,368.16" fill="none" stroke="#3d9a3d" stroke-width="4.5"/>
<path d="M231.49,368.08 A126.9,126.9 0 0 1 232.15,368.83" fill="none" stroke="#cdbfc0" stroke-width="4.5"/>
<path d="M232.07,368.75 A126.9,126.9 0 0 1 232.72,369.50" fill="none" stroke="#bf1420" stroke-width="4.5"/>
<path d="M232.65,369.42 A126.9,126.9 0 0 1 233.44,370.35" fill="none" stroke="#bf1420" stroke-width="4.5"/>
<path d="M233.37,370.26 A126.9,126.9 0 0 1 234.29,371.37" fill="none" stroke="#bf1420" stroke-width="4.5"/>
<text x="8" y="277.3" font-size="12.3" font-weight="bold" fill="#000">B</text>
<text x="281.9" y="333.2" font-size="7.1" font-weight="bold" fill="#000" textLength="31.7" lengthAdjust="spacingAndGlyphs">Mutations</text>
<rect x="281.4" y="336.60" width="5" height="4.8" fill="#c81e27"/>
<text x="289.8" y="341.30" font-size="6.6" font-style="italic" fill="#2b2b2b">NPM1</text>
<rect x="281.4" y="343.36" width="5" height="4.8" fill="#b42e48"/>
<text x="289.8" y="348.06" font-size="6.6" font-style="italic" fill="#2b2b2b">FLT3_ITD</text>
<rect x="281.4" y="350.12" width="5" height="4.8" fill="#7b3b7c"/>
<text x="289.8" y="354.82" font-size="6.6" font-style="italic" fill="#2b2b2b">FLT3_TKD</text>
<rect x="281.4" y="356.88" width="5" height="4.8" fill="#3d5fa6"/>
<text x="289.8" y="361.58" font-size="6.6" font-style="italic" fill="#2b2b2b">DNMT3A</text>
<rect x="281.4" y="363.64" width="5" height="4.8" fill="#3984b3"/>
<text x="289.8" y="368.34" font-size="6.6" fill="#2b2b2b">CEBPA DM</text>
<rect x="281.4" y="370.40" width="5" height="4.8" fill="#2c8a83"/>
<text x="289.8" y="375.10" font-size="6.6" fill="#2b2b2b">CEBPA SM</text>
<rect x="281.4" y="377.16" width="5" height="4.8" fill="#34995b"/>
<text x="289.8" y="381.86" font-size="6.6" fill="#2b2b2b">CEBPA <tspan font-style="italic">silenced</tspan></text>
<rect x="281.4" y="383.92" width="5" height="4.8" fill="#3c9a3c"/>
<text x="289.8" y="388.62" font-size="6.6" font-style="italic" fill="#2b2b2b">ASXL1</text>
<rect x="281.4" y="390.68" width="5" height="4.8" fill="#5f9264"/>
<text x="289.8" y="395.38" font-size="6.6" font-style="italic" fill="#2b2b2b">KIT</text>
<rect x="281.4" y="397.44" width="5" height="4.8" fill="#6b6b72"/>
<text x="289.8" y="402.14" font-size="6.6" font-style="italic" fill="#2b2b2b">IDH1</text>
<rect x="281.4" y="404.20" width="5" height="4.8" fill="#7b4b9c"/>
<text x="289.8" y="408.90" font-size="6.6" font-style="italic" fill="#2b2b2b">IDH2</text>
<rect x="281.4" y="410.96" width="5" height="4.8" fill="#9b4a9b"/>
<text x="289.8" y="415.66" font-size="6.6" font-style="italic" fill="#2b2b2b">WT1</text>
<rect x="281.4" y="417.72" width="5" height="4.8" fill="#c9585b"/>
<text x="289.8" y="422.42" font-size="6.6" font-style="italic" fill="#2b2b2b">NRAS</text>
<rect x="281.4" y="424.48" width="5" height="4.8" fill="#d8602c"/>
<text x="289.8" y="429.18" font-size="6.6" font-style="italic" fill="#2b2b2b">KRAS</text>
<rect x="281.4" y="431.24" width="5" height="4.8" fill="#d8711c"/>
<text x="289.8" y="435.94" font-size="6.6" font-style="italic" fill="#2b2b2b">TET2</text>
<rect x="281.4" y="438.00" width="5" height="4.8" fill="#e0901c"/>
<text x="289.8" y="442.70" font-size="6.6" font-style="italic" fill="#2b2b2b">SRSF2</text>
<rect x="281.4" y="444.76" width="5" height="4.8" fill="#efb314"/>
<text x="289.8" y="449.46" font-size="6.6" font-style="italic" fill="#2b2b2b">SF3B1</text>
<rect x="281.4" y="451.52" width="5" height="4.8" fill="#f7e014"/>
<text x="289.8" y="456.22" font-size="6.6" font-style="italic" fill="#2b2b2b">PTPN11</text>
<rect x="281.4" y="458.28" width="5" height="4.8" fill="#f0e023"/>
<text x="289.8" y="462.98" font-size="6.6" font-style="italic" fill="#2b2b2b">GATA2</text>
<rect x="281.4" y="465.04" width="5" height="4.8" fill="#d8b222"/>
<text x="289.8" y="469.74" font-size="6.6" font-style="italic" fill="#2b2b2b">STAG2</text>
<rect x="281.4" y="471.80" width="5" height="4.8" fill="#b87a24"/>
<text x="289.8" y="476.50" font-size="6.6" font-style="italic" fill="#2b2b2b">RAD21</text>
<rect x="281.4" y="478.56" width="5" height="4.8" fill="#a25224"/>
<text x="289.8" y="483.26" font-size="6.6" font-style="italic" fill="#2b2b2b">RUNX1</text>
<rect x="281.4" y="485.32" width="5" height="4.8" fill="#c06151"/>
<text x="289.8" y="490.02" font-size="6.6" font-style="italic" fill="#2b2b2b">PHF6</text>
<rect x="281.4" y="492.08" width="5" height="4.8" fill="#d06073"/>
<text x="289.8" y="496.78" font-size="6.6" fill="#2b2b2b">t(15;17)</text>
<rect x="281.4" y="498.84" width="5" height="4.8" fill="#d96494"/>
<text x="289.8" y="503.54" font-size="6.6" fill="#2b2b2b">t(8;21)</text>
<rect x="281.4" y="505.60" width="5" height="4.8" fill="#e07fba"/>
<text x="289.8" y="510.30" font-size="6.6" fill="#2b2b2b">inv(16)</text>
<rect x="281.4" y="512.36" width="5" height="4.8" fill="#d990c4"/>
<text x="289.8" y="517.06" font-size="6.6" fill="#2b2b2b">del(7q)</text>
<rect x="281.4" y="519.12" width="5" height="4.8" fill="#b392a4"/>
<text x="289.8" y="523.82" font-size="6.6" fill="#2b2b2b">t(3q26)</text>
<rect x="281.4" y="525.88" width="5" height="4.8" fill="#919191"/>
<text x="289.8" y="530.58" font-size="6.6" fill="#2b2b2b">t(11q23)</text>
<text x="281.9" y="541.5" font-size="7.1" font-weight="bold" fill="#000" textLength="36.8" lengthAdjust="spacingAndGlyphs">GATA2 ASE</text>
<rect x="281.4" y="544.30" width="5" height="4.8" fill="#2a8c2f"/>
<text x="289.8" y="549.00" font-size="6.6" fill="#2b2b2b">Not skewed</text>
<rect x="281.4" y="551.15" width="5" height="4.8" fill="#c4c4c4"/>
<text x="289.8" y="555.85" font-size="6.6" fill="#2b2b2b">Missing SNV</text>
<rect x="281.4" y="558.00" width="5" height="4.8" fill="#b01c2a"/>
<text x="289.8" y="562.70" font-size="6.6" fill="#2b2b2b">Skewed</text>
<text x="337.5" y="277.4" font-size="10.3" font-weight="bold" fill="#000">C</text>
<text x="408.8" y="277" font-size="5.6" font-style="italic" fill="#2b2b2b" textLength="13" lengthAdjust="spacingAndGlyphs">allele</text>
<rect x="425" y="273.4" width="4.9" height="4.4" fill="#a30b2b"/>
<text x="433.5" y="277" font-size="5.6" font-style="italic" fill="#2b2b2b" textLength="14.5" lengthAdjust="spacingAndGlyphs">major</text>
<rect x="451.4" y="273.4" width="4.9" height="4.4" fill="#2c4b84"/>
<text x="459.6" y="277" font-size="5.6" font-style="italic" fill="#2b2b2b" textLength="14.6" lengthAdjust="spacingAndGlyphs">minor</text>
<rect x="373.20" y="298.95" width="15.5" height="28.0" fill="#a30b2b"/>
<rect x="373.20" y="311.55" width="15.5" height="15.40" fill="#2c4b84"/>
<line x1="380.95" y1="328.15" x2="380.95" y2="331.55" stroke="#111" stroke-width="0.9"/>
<rect x="390.80" y="298.95" width="15.5" height="28.0" fill="#a30b2b"/>
<rect x="390.80" y="320.65" width="15.5" height="6.30" fill="#2c4b84"/>
<line x1="398.55" y1="328.15" x2="398.55" y2="331.55" stroke="#111" stroke-width="0.9"/>
<circle cx="398.55" cy="302.80" r="1.05" fill="#fff"/>
<line x1="370.70" y1="295.75" x2="370.70" y2="328.65" stroke="#111" stroke-width="1.1"/>
<line x1="370.20" y1="328.15" x2="409.20" y2="328.15" stroke="#111" stroke-width="1.1"/>
<line x1="367.30" y1="326.95" x2="370.70" y2="326.95" stroke="#000" stroke-width="0.95"/>
<line x1="367.30" y1="323.45" x2="370.70" y2="323.45" stroke="#000" stroke-width="0.95"/>
<line x1="367.30" y1="319.95" x2="370.70" y2="319.95" stroke="#000" stroke-width="0.95"/>
<line x1="367.30" y1="316.45" x2="370.70" y2="316.45" stroke="#000" stroke-width="0.95"/>
<line x1="367.30" y1="312.95" x2="370.70" y2="312.95" stroke="#000" stroke-width="0.95"/>
<line x1="367.30" y1="309.45" x2="370.70" y2="309.45" stroke="#000" stroke-width="0.95"/>
<line x1="367.30" y1="305.95" x2="370.70" y2="305.95" stroke="#000" stroke-width="0.95"/>
<line x1="367.30" y1="302.45" x2="370.70" y2="302.45" stroke="#000" stroke-width="0.95"/>
<line x1="367.30" y1="298.95" x2="370.70" y2="298.95" stroke="#000" stroke-width="0.95"/>
<text x="364.1" y="329.15" font-size="6.6" text-anchor="end" fill="#2b2b2b" textLength="13" lengthAdjust="spacingAndGlyphs">0.00</text>
<text x="364.1" y="322.15" font-size="6.6" text-anchor="end" fill="#2b2b2b" textLength="13" lengthAdjust="spacingAndGlyphs">0.25</text>
<text x="364.1" y="315.15" font-size="6.6" text-anchor="end" fill="#2b2b2b" textLength="13" lengthAdjust="spacingAndGlyphs">0.50</text>
<text x="364.1" y="308.15" font-size="6.6" text-anchor="end" fill="#2b2b2b" textLength="13" lengthAdjust="spacingAndGlyphs">0.75</text>
<text x="364.1" y="301.15" font-size="6.6" text-anchor="end" fill="#2b2b2b" textLength="13" lengthAdjust="spacingAndGlyphs">1.00</text>
<text x="390.20" y="294.15" font-size="7.1" text-anchor="middle" fill="#2b2b2b">1316</text>
<rect x="425.05" y="298.95" width="15.5" height="28.0" fill="#a30b2b"/>
<rect x="425.05" y="313.79" width="15.5" height="13.16" fill="#2c4b84"/>
<line x1="432.80" y1="328.15" x2="432.80" y2="331.55" stroke="#111" stroke-width="0.9"/>
<rect x="442.65" y="298.95" width="15.5" height="28.0" fill="#a30b2b"/>
<line x1="450.40" y1="328.15" x2="450.40" y2="331.55" stroke="#111" stroke-width="0.9"/>
<circle cx="450.40" cy="302.80" r="1.05" fill="#fff"/>
<line x1="422.55" y1="295.75" x2="422.55" y2="328.65" stroke="#111" stroke-width="1.1"/>
<line x1="422.05" y1="328.15" x2="461.05" y2="328.15" stroke="#111" stroke-width="1.1"/>
<line x1="419.15" y1="326.95" x2="422.55" y2="326.95" stroke="#000" stroke-width="0.95"/>
<line x1="419.15" y1="323.45" x2="422.55" y2="323.45" stroke="#000" stroke-width="0.95"/>
<line x1="419.15" y1="319.95" x2="422.55" y2="319.95" stroke="#000" stroke-width="0.95"/>
<line x1="419.15" y1="316.45" x2="422.55" y2="316.45" stroke="#000" stroke-width="0.95"/>
<line x1="419.15" y1="312.95" x2="422.55" y2="312.95" stroke="#000" stroke-width="0.95"/>
<line x1="419.15" y1="309.45" x2="422.55" y2="309.45" stroke="#000" stroke-width="0.95"/>
<line x1="419.15" y1="305.95" x2="422.55" y2="305.95" stroke="#000" stroke-width="0.95"/>
<line x1="419.15" y1="302.45" x2="422.55" y2="302.45" stroke="#000" stroke-width="0.95"/>
<line x1="419.15" y1="298.95" x2="422.55" y2="298.95" stroke="#000" stroke-width="0.95"/>
<text x="442.05" y="294.15" font-size="7.1" text-anchor="middle" fill="#2b2b2b">2192</text>
<rect x="476.90" y="298.95" width="15.5" height="28.0" fill="#a30b2b"/>
<rect x="476.90" y="313.79" width="15.5" height="13.16" fill="#2c4b84"/>
<line x1="484.65" y1="328.15" x2="484.65" y2="331.55" stroke="#111" stroke-width="0.9"/>
<rect x="494.50" y="298.95" width="15.5" height="28.0" fill="#a30b2b"/>
<rect x="494.50" y="321.35" width="15.5" height="5.60" fill="#2c4b84"/>
<line x1="502.25" y1="328.15" x2="502.25" y2="331.55" stroke="#111" stroke-width="0.9"/>
<circle cx="502.25" cy="302.80" r="1.05" fill="#fff"/>
<line x1="474.40" y1="295.75" x2="474.40" y2="328.65" stroke="#111" stroke-width="1.1"/>
<line x1="473.90" y1="328.15" x2="512.90" y2="328.15" stroke="#111" stroke-width="1.1"/>
<line x1="471.00" y1="326.95" x2="474.40" y2="326.95" stroke="#000" stroke-width="0.95"/>
<line x1="471.00" y1="323.45" x2="474.40" y2="323.45" stroke="#000" stroke-width="0.95"/>
<line x1="471.00" y1="319.95" x2="474.40" y2="319.95" stroke="#000" stroke-width="0.95"/>
<line x1="471.00" y1="316.45" x2="474.40" y2="316.45" stroke="#000" stroke-width="0.95"/>
<line x1="471.00" y1="312.95" x2="474.40" y2="312.95" stroke="#000" stroke-width="0.95"/>
<line x1="471.00" y1="309.45" x2="474.40" y2="309.45" stroke="#000" stroke-width="0.95"/>
<line x1="471.00" y1="305.95" x2="474.40" y2="305.95" stroke="#000" stroke-width="0.95"/>
<line x1="471.00" y1="302.45" x2="474.40" y2="302.45" stroke="#000" stroke-width="0.95"/>
<line x1="471.00" y1="298.95" x2="474.40" y2="298.95" stroke="#000" stroke-width="0.95"/>
<text x="493.90" y="294.15" font-size="7.1" text-anchor="middle" fill="#2b2b2b">2218</text>
<rect x="373.20" y="345.72" width="15.5" height="28.0" fill="#a30b2b"/>
<rect x="373.20" y="359.16" width="15.5" height="14.56" fill="#2c4b84"/>
<line x1="380.95" y1="374.92" x2="380.95" y2="378.32" stroke="#111" stroke-width="0.9"/>
<rect x="390.80" y="345.72" width="15.5" height="28.0" fill="#a30b2b"/>
<rect x="390.80" y="369.80" width="15.5" height="3.92" fill="#2c4b84"/>
<line x1="398.55" y1="374.92" x2="398.55" y2="378.32" stroke="#111" stroke-width="0.9"/>
<circle cx="398.55" cy="349.57" r="1.05" fill="#fff"/>
<line x1="370.70" y1="342.52" x2="370.70" y2="375.42" stroke="#111" stroke-width="1.1"/>
<line x1="370.20" y1="374.92" x2="409.20" y2="374.92" stroke="#111" stroke-width="1.1"/>
<line x1="367.30" y1="373.72" x2="370.70" y2="373.72" stroke="#000" stroke-width="0.95"/>
<line x1="367.30" y1="370.22" x2="370.70" y2="370.22" stroke="#000" stroke-width="0.95"/>
<line x1="367.30" y1="366.72" x2="370.70" y2="366.72" stroke="#000" stroke-width="0.95"/>
<line x1="367.30" y1="363.22" x2="370.70" y2="363.22" stroke="#000" stroke-width="0.95"/>
<line x1="367.30" y1="359.72" x2="370.70" y2="359.72" stroke="#000" stroke-width="0.95"/>
<line x1="367.30" y1="356.22" x2="370.70" y2="356.22" stroke="#000" stroke-width="0.95"/>
<line x1="367.30" y1="352.72" x2="370.70" y2="352.72" stroke="#000" stroke-width="0.95"/>
<line x1="367.30" y1="349.22" x2="370.70" y2="349.22" stroke="#000" stroke-width="0.95"/>
<line x1="367.30" y1="345.72" x2="370.70" y2="345.72" stroke="#000" stroke-width="0.95"/>
<text x="364.1" y="375.92" font-size="6.6" text-anchor="end" fill="#2b2b2b" textLength="13" lengthAdjust="spacingAndGlyphs">0.00</text>
<text x="364.1" y="368.92" font-size="6.6" text-anchor="end" fill="#2b2b2b" textLength="13" lengthAdjust="spacingAndGlyphs">0.25</text>
<text x="364.1" y="361.92" font-size="6.6" text-anchor="end" fill="#2b2b2b" textLength="13" lengthAdjust="spacingAndGlyphs">0.50</text>
<text x="364.1" y="354.92" font-size="6.6" text-anchor="end" fill="#2b2b2b" textLength="13" lengthAdjust="spacingAndGlyphs">0.75</text>
<text x="364.1" y="347.92" font-size="6.6" text-anchor="end" fill="#2b2b2b" textLength="13" lengthAdjust="spacingAndGlyphs">1.00</text>
<text x="390.20" y="340.92" font-size="7.1" text-anchor="middle" fill="#2b2b2b">2234</text>
<rect x="425.05" y="345.72" width="15.5" height="28.0" fill="#a30b2b"/>
<rect x="425.05" y="362.94" width="15.5" height="10.78" fill="#2c4b84"/>
<line x1="432.80" y1="374.92" x2="432.80" y2="378.32" stroke="#111" stroke-width="0.9"/>
<rect x="442.65" y="345.72" width="15.5" height="28.0" fill="#a30b2b"/>
<rect x="442.65" y="368.12" width="15.5" height="5.60" fill="#2c4b84"/>
<line x1="450.40" y1="374.92" x2="450.40" y2="378.32" stroke="#111" stroke-width="0.9"/>
<circle cx="450.40" cy="349.57" r="1.05" fill="#fff"/>
<line x1="422.55" y1="342.52" x2="422.55" y2="375.42" stroke="#111" stroke-width="1.1"/>
<line x1="422.05" y1="374.92" x2="461.05" y2="374.92" stroke="#111" stroke-width="1.1"/>
<line x1="419.15" y1="373.72" x2="422.55" y2="373.72" stroke="#000" stroke-width="0.95"/>
<line x1="419.15" y1="370.22" x2="422.55" y2="370.22" stroke="#000" stroke-width="0.95"/>
<line x1="419.15" y1="366.72" x2="422.55" y2="366.72" stroke="#000" stroke-width="0.95"/>
<line x1="419.15" y1="363.22" x2="422.55" y2="363.22" stroke="#000" stroke-width="0.95"/>
<line x1="419.15" y1="359.72" x2="422.55" y2="359.72" stroke="#000" stroke-width="0.95"/>
<line x1="419.15" y1="356.22" x2="422.55" y2="356.22" stroke="#000" stroke-width="0.95"/>
<line x1="419.15" y1="352.72" x2="422.55" y2="352.72" stroke="#000" stroke-width="0.95"/>
<line x1="419.15" y1="349.22" x2="422.55" y2="349.22" stroke="#000" stroke-width="0.95"/>
<line x1="419.15" y1="345.72" x2="422.55" y2="345.72" stroke="#000" stroke-width="0.95"/>
<text x="442.05" y="340.92" font-size="7.1" text-anchor="middle" fill="#2b2b2b">2240</text>
<rect x="476.90" y="345.72" width="15.5" height="28.0" fill="#a30b2b"/>
<rect x="476.90" y="360.56" width="15.5" height="13.16" fill="#2c4b84"/>
<line x1="484.65" y1="374.92" x2="484.65" y2="378.32" stroke="#111" stroke-width="0.9"/>
<rect x="494.50" y="345.72" width="15.5" height="28.0" fill="#a30b2b"/>
<rect x="494.50" y="366.16" width="15.5" height="7.56" fill="#2c4b84"/>
<line x1="502.25" y1="374.92" x2="502.25" y2="378.32" stroke="#111" stroke-width="0.9"/>
<circle cx="502.25" cy="349.57" r="1.05" fill="#fff"/>
<line x1="474.40" y1="342.52" x2="474.40" y2="375.42" stroke="#111" stroke-width="1.1"/>
<line x1="473.90" y1="374.92" x2="512.90" y2="374.92" stroke="#111" stroke-width="1.1"/>
<line x1="471.00" y1="373.72" x2="474.40" y2="373.72" stroke="#000" stroke-width="0.95"/>
<line x1="471.00" y1="370.22" x2="474.40" y2="370.22" stroke="#000" stroke-width="0.95"/>
<line x1="471.00" y1="366.72" x2="474.40" y2="366.72" stroke="#000" stroke-width="0.95"/>
<line x1="471.00" y1="363.22" x2="474.40" y2="363.22" stroke="#000" stroke-width="0.95"/>
<line x1="471.00" y1="359.72" x2="474.40" y2="359.72" stroke="#000" stroke-width="0.95"/>
<line x1="471.00" y1="356.22" x2="474.40" y2="356.22" stroke="#000" stroke-width="0.95"/>
<line x1="471.00" y1="352.72" x2="474.40" y2="352.72" stroke="#000" stroke-width="0.95"/>
<line x1="471.00" y1="349.22" x2="474.40" y2="349.22" stroke="#000" stroke-width="0.95"/>
<line x1="471.00" y1="345.72" x2="474.40" y2="345.72" stroke="#000" stroke-width="0.95"/>
<text x="493.90" y="340.92" font-size="7.1" text-anchor="middle" fill="#2b2b2b">2253</text>
<rect x="373.20" y="392.49" width="15.5" height="28.0" fill="#a30b2b"/>
<rect x="373.20" y="403.69" width="15.5" height="16.80" fill="#2c4b84"/>
<line x1="380.95" y1="421.69" x2="380.95" y2="425.09" stroke="#111" stroke-width="0.9"/>
<rect x="390.80" y="392.49" width="15.5" height="28.0" fill="#a30b2b"/>
<rect x="390.80" y="418.25" width="15.5" height="2.24" fill="#2c4b84"/>
<line x1="398.55" y1="421.69" x2="398.55" y2="425.09" stroke="#111" stroke-width="0.9"/>
<circle cx="398.55" cy="396.34" r="1.05" fill="#fff"/>
<line x1="370.70" y1="389.29" x2="370.70" y2="422.19" stroke="#111" stroke-width="1.1"/>
<line x1="370.20" y1="421.69" x2="409.20" y2="421.69" stroke="#111" stroke-width="1.1"/>
<line x1="367.30" y1="420.49" x2="370.70" y2="420.49" stroke="#000" stroke-width="0.95"/>
<line x1="367.30" y1="416.99" x2="370.70" y2="416.99" stroke="#000" stroke-width="0.95"/>
<line x1="367.30" y1="413.49" x2="370.70" y2="413.49" stroke="#000" stroke-width="0.95"/>
<line x1="367.30" y1="409.99" x2="370.70" y2="409.99" stroke="#000" stroke-width="0.95"/>
<line x1="367.30" y1="406.49" x2="370.70" y2="406.49" stroke="#000" stroke-width="0.95"/>
<line x1="367.30" y1="402.99" x2="370.70" y2="402.99" stroke="#000" stroke-width="0.95"/>
<line x1="367.30" y1="399.49" x2="370.70" y2="399.49" stroke="#000" stroke-width="0.95"/>
<line x1="367.30" y1="395.99" x2="370.70" y2="395.99" stroke="#000" stroke-width="0.95"/>
<line x1="367.30" y1="392.49" x2="370.70" y2="392.49" stroke="#000" stroke-width="0.95"/>
<text x="364.1" y="422.69" font-size="6.6" text-anchor="end" fill="#2b2b2b" textLength="13" lengthAdjust="spacingAndGlyphs">0.00</text>
<text x="364.1" y="415.69" font-size="6.6" text-anchor="end" fill="#2b2b2b" textLength="13" lengthAdjust="spacingAndGlyphs">0.25</text>
<text x="364.1" y="408.69" font-size="6.6" text-anchor="end" fill="#2b2b2b" textLength="13" lengthAdjust="spacingAndGlyphs">0.50</text>
<text x="364.1" y="401.69" font-size="6.6" text-anchor="end" fill="#2b2b2b" textLength="13" lengthAdjust="spacingAndGlyphs">0.75</text>
<text x="364.1" y="394.69" font-size="6.6" text-anchor="end" fill="#2b2b2b" textLength="13" lengthAdjust="spacingAndGlyphs">1.00</text>
<text x="390.20" y="387.69" font-size="7.1" text-anchor="middle" fill="#2b2b2b">2273</text>
<rect x="425.05" y="392.49" width="15.5" height="28.0" fill="#a30b2b"/>
<rect x="425.05" y="405.93" width="15.5" height="14.56" fill="#2c4b84"/>
<line x1="432.80" y1="421.69" x2="432.80" y2="425.09" stroke="#111" stroke-width="0.9"/>
<rect x="442.65" y="392.49" width="15.5" height="28.0" fill="#a30b2b"/>
<rect x="442.65" y="419.65" width="15.5" height="0.84" fill="#2c4b84"/>
<line x1="450.40" y1="421.69" x2="450.40" y2="425.09" stroke="#111" stroke-width="0.9"/>
<circle cx="450.40" cy="396.34" r="1.05" fill="#fff"/>
<line x1="422.55" y1="389.29" x2="422.55" y2="422.19" stroke="#111" stroke-width="1.1"/>
<line x1="422.05" y1="421.69" x2="461.05" y2="421.69" stroke="#111" stroke-width="1.1"/>
<line x1="419.15" y1="420.49" x2="422.55" y2="420.49" stroke="#000" stroke-width="0.95"/>
<line x1="419.15" y1="416.99" x2="422.55" y2="416.99" stroke="#000" stroke-width="0.95"/>
<line x1="419.15" y1="413.49" x2="422.55" y2="413.49" stroke="#000" stroke-width="0.95"/>
<line x1="419.15" y1="409.99" x2="422.55" y2="409.99" stroke="#000" stroke-width="0.95"/>
<line x1="419.15" y1="406.49" x2="422.55" y2="406.49" stroke="#000" stroke-width="0.95"/>
<line x1="419.15" y1="402.99" x2="422.55" y2="402.99" stroke="#000" stroke-width="0.95"/>
<line x1="419.15" y1="399.49" x2="422.55" y2="399.49" stroke="#000" stroke-width="0.95"/>
<line x1="419.15" y1="395.99" x2="422.55" y2="395.99" stroke="#000" stroke-width="0.95"/>
<line x1="419.15" y1="392.49" x2="422.55" y2="392.49" stroke="#000" stroke-width="0.95"/>
<text x="442.05" y="387.69" font-size="7.1" text-anchor="middle" fill="#2b2b2b">2545</text>
<rect x="476.90" y="392.49" width="15.5" height="28.0" fill="#a30b2b"/>
<rect x="476.90" y="407.33" width="15.5" height="13.16" fill="#2c4b84"/>
<line x1="484.65" y1="421.69" x2="484.65" y2="425.09" stroke="#111" stroke-width="0.9"/>
<rect x="494.50" y="392.49" width="15.5" height="28.0" fill="#a30b2b"/>
<rect x="494.50" y="417.97" width="15.5" height="2.52" fill="#2c4b84"/>
<line x1="502.25" y1="421.69" x2="502.25" y2="425.09" stroke="#111" stroke-width="0.9"/>
<circle cx="502.25" cy="396.34" r="1.05" fill="#fff"/>
<line x1="474.40" y1="389.29" x2="474.40" y2="422.19" stroke="#111" stroke-width="1.1"/>
<line x1="473.90" y1="421.69" x2="512.90" y2="421.69" stroke="#111" stroke-width="1.1"/>
<line x1="471.00" y1="420.49" x2="474.40" y2="420.49" stroke="#000" stroke-width="0.95"/>
<line x1="471.00" y1="416.99" x2="474.40" y2="416.99" stroke="#000" stroke-width="0.95"/>
<line x1="471.00" y1="413.49" x2="474.40" y2="413.49" stroke="#000" stroke-width="0.95"/>
<line x1="471.00" y1="409.99" x2="474.40" y2="409.99" stroke="#000" stroke-width="0.95"/>
<line x1="471.00" y1="406.49" x2="474.40" y2="406.49" stroke="#000" stroke-width="0.95"/>
<line x1="471.00" y1="402.99" x2="474.40" y2="402.99" stroke="#000" stroke-width="0.95"/>
<line x1="471.00" y1="399.49" x2="474.40" y2="399.49" stroke="#000" stroke-width="0.95"/>
<line x1="471.00" y1="395.99" x2="474.40" y2="395.99" stroke="#000" stroke-width="0.95"/>
<line x1="471.00" y1="392.49" x2="474.40" y2="392.49" stroke="#000" stroke-width="0.95"/>
<text x="493.90" y="387.69" font-size="7.1" text-anchor="middle" fill="#2b2b2b">2753</text>
<rect x="373.20" y="439.26" width="15.5" height="28.0" fill="#a30b2b"/>
<rect x="373.20" y="453.82" width="15.5" height="13.44" fill="#2c4b84"/>
<line x1="380.95" y1="468.46" x2="380.95" y2="471.86" stroke="#111" stroke-width="0.9"/>
<rect x="390.80" y="439.26" width="15.5" height="28.0" fill="#a30b2b"/>
<rect x="390.80" y="464.18" width="15.5" height="3.08" fill="#2c4b84"/>
<line x1="398.55" y1="468.46" x2="398.55" y2="471.86" stroke="#111" stroke-width="0.9"/>
<circle cx="398.55" cy="443.11" r="1.05" fill="#fff"/>
<line x1="370.70" y1="436.06" x2="370.70" y2="468.96" stroke="#111" stroke-width="1.1"/>
<line x1="370.20" y1="468.46" x2="409.20" y2="468.46" stroke="#111" stroke-width="1.1"/>
<line x1="367.30" y1="467.26" x2="370.70" y2="467.26" stroke="#000" stroke-width="0.95"/>
<line x1="367.30" y1="463.76" x2="370.70" y2="463.76" stroke="#000" stroke-width="0.95"/>
<line x1="367.30" y1="460.26" x2="370.70" y2="460.26" stroke="#000" stroke-width="0.95"/>
<line x1="367.30" y1="456.76" x2="370.70" y2="456.76" stroke="#000" stroke-width="0.95"/>
<line x1="367.30" y1="453.26" x2="370.70" y2="453.26" stroke="#000" stroke-width="0.95"/>
<line x1="367.30" y1="449.76" x2="370.70" y2="449.76" stroke="#000" stroke-width="0.95"/>
<line x1="367.30" y1="446.26" x2="370.70" y2="446.26" stroke="#000" stroke-width="0.95"/>
<line x1="367.30" y1="442.76" x2="370.70" y2="442.76" stroke="#000" stroke-width="0.95"/>
<line x1="367.30" y1="439.26" x2="370.70" y2="439.26" stroke="#000" stroke-width="0.95"/>
<text x="364.1" y="469.46" font-size="6.6" text-anchor="end" fill="#2b2b2b" textLength="13" lengthAdjust="spacingAndGlyphs">0.00</text>
<text x="364.1" y="462.46" font-size="6.6" text-anchor="end" fill="#2b2b2b" textLength="13" lengthAdjust="spacingAndGlyphs">0.25</text>
<text x="364.1" y="455.46" font-size="6.6" text-anchor="end" fill="#2b2b2b" textLength="13" lengthAdjust="spacingAndGlyphs">0.50</text>
<text x="364.1" y="448.46" font-size="6.6" text-anchor="end" fill="#2b2b2b" textLength="13" lengthAdjust="spacingAndGlyphs">0.75</text>
<text x="364.1" y="441.46" font-size="6.6" text-anchor="end" fill="#2b2b2b" textLength="13" lengthAdjust="spacingAndGlyphs">1.00</text>
<text x="390.20" y="434.46" font-size="7.1" text-anchor="middle" fill="#2b2b2b">3101</text>
<rect x="425.05" y="439.26" width="15.5" height="28.0" fill="#a30b2b"/>
<rect x="425.05" y="453.26" width="15.5" height="14.00" fill="#2c4b84"/>
<line x1="432.80" y1="468.46" x2="432.80" y2="471.86" stroke="#111" stroke-width="0.9"/>
<rect x="442.65" y="439.26" width="15.5" height="28.0" fill="#a30b2b"/>
<rect x="442.65" y="466.14" width="15.5" height="1.12" fill="#2c4b84"/>
<line x1="450.40" y1="468.46" x2="450.40" y2="471.86" stroke="#111" stroke-width="0.9"/>
<circle cx="450.40" cy="443.11" r="1.05" fill="#fff"/>
<line x1="422.55" y1="436.06" x2="422.55" y2="468.96" stroke="#111" stroke-width="1.1"/>
<line x1="422.05" y1="468.46" x2="461.05" y2="468.46" stroke="#111" stroke-width="1.1"/>
<line x1="419.15" y1="467.26" x2="422.55" y2="467.26" stroke="#000" stroke-width="0.95"/>
<line x1="419.15" y1="463.76" x2="422.55" y2="463.76" stroke="#000" stroke-width="0.95"/>
<line x1="419.15" y1="460.26" x2="422.55" y2="460.26" stroke="#000" stroke-width="0.95"/>
<line x1="419.15" y1="456.76" x2="422.55" y2="456.76" stroke="#000" stroke-width="0.95"/>
<line x1="419.15" y1="453.26" x2="422.55" y2="453.26" stroke="#000" stroke-width="0.95"/>
<line x1="419.15" y1="449.76" x2="422.55" y2="449.76" stroke="#000" stroke-width="0.95"/>
<line x1="419.15" y1="446.26" x2="422.55" y2="446.26" stroke="#000" stroke-width="0.95"/>
<line x1="419.15" y1="442.76" x2="422.55" y2="442.76" stroke="#000" stroke-width="0.95"/>
<line x1="419.15" y1="439.26" x2="422.55" y2="439.26" stroke="#000" stroke-width="0.95"/>
<text x="442.05" y="434.46" font-size="7.1" text-anchor="middle" fill="#2b2b2b">3327</text>
<rect x="476.90" y="439.26" width="15.5" height="28.0" fill="#a30b2b"/>
<rect x="476.90" y="455.22" width="15.5" height="12.04" fill="#2c4b84"/>
<line x1="484.65" y1="468.46" x2="484.65" y2="471.86" stroke="#111" stroke-width="0.9"/>
<rect x="494.50" y="439.26" width="15.5" height="28.0" fill="#a30b2b"/>
<rect x="494.50" y="460.82" width="15.5" height="6.44" fill="#2c4b84"/>
<line x1="502.25" y1="468.46" x2="502.25" y2="471.86" stroke="#111" stroke-width="0.9"/>
<circle cx="502.25" cy="443.11" r="1.05" fill="#fff"/>
<line x1="474.40" y1="436.06" x2="474.40" y2="468.96" stroke="#111" stroke-width="1.1"/>
<line x1="473.90" y1="468.46" x2="512.90" y2="468.46" stroke="#111" stroke-width="1.1"/>
<line x1="471.00" y1="467.26" x2="474.40" y2="467.26" stroke="#000" stroke-width="0.95"/>
<line x1="471.00" y1="463.76" x2="474.40" y2="463.76" stroke="#000" stroke-width="0.95"/>
<line x1="471.00" y1="460.26" x2="474.40" y2="460.26" stroke="#000" stroke-width="0.95"/>
<line x1="471.00" y1="456.76" x2="474.40" y2="456.76" stroke="#000" stroke-width="0.95"/>
<line x1="471.00" y1="453.26" x2="474.40" y2="453.26" stroke="#000" stroke-width="0.95"/>
<line x1="471.00" y1="449.76" x2="474.40" y2="449.76" stroke="#000" stroke-width="0.95"/>
<line x1="471.00" y1="446.26" x2="474.40" y2="446.26" stroke="#000" stroke-width="0.95"/>
<line x1="471.00" y1="442.76" x2="474.40" y2="442.76" stroke="#000" stroke-width="0.95"/>
<line x1="471.00" y1="439.26" x2="474.40" y2="439.26" stroke="#000" stroke-width="0.95"/>
<text x="493.90" y="434.46" font-size="7.1" text-anchor="middle" fill="#2b2b2b">4336</text>
<rect x="373.20" y="486.03" width="15.5" height="28.0" fill="#a30b2b"/>
<rect x="373.20" y="494.99" width="15.5" height="19.04" fill="#2c4b84"/>
<line x1="380.95" y1="515.23" x2="380.95" y2="518.63" stroke="#111" stroke-width="0.9"/>
<rect x="390.80" y="486.03" width="15.5" height="28.0" fill="#a30b2b"/>
<rect x="390.80" y="509.27" width="15.5" height="4.76" fill="#2c4b84"/>
<line x1="398.55" y1="515.23" x2="398.55" y2="518.63" stroke="#111" stroke-width="0.9"/>
<line x1="370.70" y1="482.83" x2="370.70" y2="515.73" stroke="#111" stroke-width="1.1"/>
<line x1="370.20" y1="515.23" x2="409.20" y2="515.23" stroke="#111" stroke-width="1.1"/>
<line x1="367.30" y1="514.03" x2="370.70" y2="514.03" stroke="#000" stroke-width="0.95"/>
<line x1="367.30" y1="510.53" x2="370.70" y2="510.53" stroke="#000" stroke-width="0.95"/>
<line x1="367.30" y1="507.03" x2="370.70" y2="507.03" stroke="#000" stroke-width="0.95"/>
<line x1="367.30" y1="503.53" x2="370.70" y2="503.53" stroke="#000" stroke-width="0.95"/>
<line x1="367.30" y1="500.03" x2="370.70" y2="500.03" stroke="#000" stroke-width="0.95"/>
<line x1="367.30" y1="496.53" x2="370.70" y2="496.53" stroke="#000" stroke-width="0.95"/>
<line x1="367.30" y1="493.03" x2="370.70" y2="493.03" stroke="#000" stroke-width="0.95"/>
<line x1="367.30" y1="489.53" x2="370.70" y2="489.53" stroke="#000" stroke-width="0.95"/>
<line x1="367.30" y1="486.03" x2="370.70" y2="486.03" stroke="#000" stroke-width="0.95"/>
<text x="364.1" y="516.23" font-size="6.6" text-anchor="end" fill="#2b2b2b" textLength="13" lengthAdjust="spacingAndGlyphs">0.00</text>
<text x="364.1" y="509.23" font-size="6.6" text-anchor="end" fill="#2b2b2b" textLength="13" lengthAdjust="spacingAndGlyphs">0.25</text>
<text x="364.1" y="502.23" font-size="6.6" text-anchor="end" fill="#2b2b2b" textLength="13" lengthAdjust="spacingAndGlyphs">0.50</text>
<text x="364.1" y="495.23" font-size="6.6" text-anchor="end" fill="#2b2b2b" textLength="13" lengthAdjust="spacingAndGlyphs">0.75</text>
<text x="364.1" y="488.23" font-size="6.6" text-anchor="end" fill="#2b2b2b" textLength="13" lengthAdjust="spacingAndGlyphs">1.00</text>
<text x="390.20" y="481.23" font-size="7.1" text-anchor="middle" fill="#2b2b2b">5352</text>
<rect x="425.05" y="486.03" width="15.5" height="28.0" fill="#a30b2b"/>
<rect x="425.05" y="498.91" width="15.5" height="15.12" fill="#2c4b84"/>
<line x1="432.80" y1="515.23" x2="432.80" y2="518.63" stroke="#111" stroke-width="0.9"/>
<rect x="442.65" y="486.03" width="15.5" height="28.0" fill="#a30b2b"/>
<rect x="442.65" y="512.91" width="15.5" height="1.12" fill="#2c4b84"/>
<line x1="450.40" y1="515.23" x2="450.40" y2="518.63" stroke="#111" stroke-width="0.9"/>
<circle cx="450.40" cy="489.88" r="1.05" fill="#fff"/>
<line x1="422.55" y1="482.83" x2="422.55" y2="515.73" stroke="#111" stroke-width="1.1"/>
<line x1="422.05" y1="515.23" x2="461.05" y2="515.23" stroke="#111" stroke-width="1.1"/>
<line x1="419.15" y1="514.03" x2="422.55" y2="514.03" stroke="#000" stroke-width="0.95"/>
<line x1="419.15" y1="510.53" x2="422.55" y2="510.53" stroke="#000" stroke-width="0.95"/>
<line x1="419.15" y1="507.03" x2="422.55" y2="507.03" stroke="#000" stroke-width="0.95"/>
<line x1="419.15" y1="503.53" x2="422.55" y2="503.53" stroke="#000" stroke-width="0.95"/>
<line x1="419.15" y1="500.03" x2="422.55" y2="500.03" stroke="#000" stroke-width="0.95"/>
<line x1="419.15" y1="496.53" x2="422.55" y2="496.53" stroke="#000" stroke-width="0.95"/>
<line x1="419.15" y1="493.03" x2="422.55" y2="493.03" stroke="#000" stroke-width="0.95"/>
<line x1="419.15" y1="489.53" x2="422.55" y2="489.53" stroke="#000" stroke-width="0.95"/>
<line x1="419.15" y1="486.03" x2="422.55" y2="486.03" stroke="#000" stroke-width="0.95"/>
<text x="442.05" y="481.23" font-size="7.1" text-anchor="middle" fill="#2b2b2b">5362</text>
<rect x="476.90" y="486.03" width="15.5" height="28.0" fill="#a30b2b"/>
<rect x="476.90" y="499.47" width="15.5" height="14.56" fill="#2c4b84"/>
<line x1="484.65" y1="515.23" x2="484.65" y2="518.63" stroke="#111" stroke-width="0.9"/>
<rect x="494.50" y="486.03" width="15.5" height="28.0" fill="#a30b2b"/>
<rect x="494.50" y="511.65" width="15.5" height="2.38" fill="#2c4b84"/>
<line x1="502.25" y1="515.23" x2="502.25" y2="518.63" stroke="#111" stroke-width="0.9"/>
<circle cx="502.25" cy="489.88" r="1.05" fill="#fff"/>
<line x1="474.40" y1="482.83" x2="474.40" y2="515.73" stroke="#111" stroke-width="1.1"/>
<line x1="473.90" y1="515.23" x2="512.90" y2="515.23" stroke="#111" stroke-width="1.1"/>
<line x1="471.00" y1="514.03" x2="474.40" y2="514.03" stroke="#000" stroke-width="0.95"/>
<line x1="471.00" y1="510.53" x2="474.40" y2="510.53" stroke="#000" stroke-width="0.95"/>
<line x1="471.00" y1="507.03" x2="474.40" y2="507.03" stroke="#000" stroke-width="0.95"/>
<line x1="471.00" y1="503.53" x2="474.40" y2="503.53" stroke="#000" stroke-width="0.95"/>
<line x1="471.00" y1="500.03" x2="474.40" y2="500.03" stroke="#000" stroke-width="0.95"/>
<line x1="471.00" y1="496.53" x2="474.40" y2="496.53" stroke="#000" stroke-width="0.95"/>
<line x1="471.00" y1="493.03" x2="474.40" y2="493.03" stroke="#000" stroke-width="0.95"/>
<line x1="471.00" y1="489.53" x2="474.40" y2="489.53" stroke="#000" stroke-width="0.95"/>
<line x1="471.00" y1="486.03" x2="474.40" y2="486.03" stroke="#000" stroke-width="0.95"/>
<text x="493.90" y="481.23" font-size="7.1" text-anchor="middle" fill="#2b2b2b">5364</text>
<rect x="373.20" y="532.80" width="15.5" height="28.0" fill="#a30b2b"/>
<rect x="373.20" y="545.96" width="15.5" height="14.84" fill="#2c4b84"/>
<line x1="380.95" y1="562.00" x2="380.95" y2="565.40" stroke="#111" stroke-width="0.9"/>
<rect x="390.80" y="532.80" width="15.5" height="28.0" fill="#a30b2b"/>
<line x1="398.55" y1="562.00" x2="398.55" y2="565.40" stroke="#111" stroke-width="0.9"/>
<circle cx="398.55" cy="536.65" r="1.05" fill="#fff"/>
<line x1="370.70" y1="529.60" x2="370.70" y2="562.50" stroke="#111" stroke-width="1.1"/>
<line x1="370.20" y1="562.00" x2="409.20" y2="562.00" stroke="#111" stroke-width="1.1"/>
<line x1="367.30" y1="560.80" x2="370.70" y2="560.80" stroke="#000" stroke-width="0.95"/>
<line x1="367.30" y1="557.30" x2="370.70" y2="557.30" stroke="#000" stroke-width="0.95"/>
<line x1="367.30" y1="553.80" x2="370.70" y2="553.80" stroke="#000" stroke-width="0.95"/>
<line x1="367.30" y1="550.30" x2="370.70" y2="550.30" stroke="#000" stroke-width="0.95"/>
<line x1="367.30" y1="546.80" x2="370.70" y2="546.80" stroke="#000" stroke-width="0.95"/>
<line x1="367.30" y1="543.30" x2="370.70" y2="543.30" stroke="#000" stroke-width="0.95"/>
<line x1="367.30" y1="539.80" x2="370.70" y2="539.80" stroke="#000" stroke-width="0.95"/>
<line x1="367.30" y1="536.30" x2="370.70" y2="536.30" stroke="#000" stroke-width="0.95"/>
<line x1="367.30" y1="532.80" x2="370.70" y2="532.80" stroke="#000" stroke-width="0.95"/>
<text x="364.1" y="563.00" font-size="6.6" text-anchor="end" fill="#2b2b2b" textLength="13" lengthAdjust="spacingAndGlyphs">0.00</text>
<text x="364.1" y="556.00" font-size="6.6" text-anchor="end" fill="#2b2b2b" textLength="13" lengthAdjust="spacingAndGlyphs">0.25</text>
<text x="364.1" y="549.00" font-size="6.6" text-anchor="end" fill="#2b2b2b" textLength="13" lengthAdjust="spacingAndGlyphs">0.50</text>
<text x="364.1" y="542.00" font-size="6.6" text-anchor="end" fill="#2b2b2b" textLength="13" lengthAdjust="spacingAndGlyphs">0.75</text>
<text x="364.1" y="535.00" font-size="6.6" text-anchor="end" fill="#2b2b2b" textLength="13" lengthAdjust="spacingAndGlyphs">1.00</text>
<text x="390.20" y="528.00" font-size="7.1" text-anchor="middle" fill="#2b2b2b">6376</text>
<rect x="425.05" y="532.80" width="15.5" height="28.0" fill="#a30b2b"/>
<rect x="425.05" y="546.52" width="15.5" height="14.28" fill="#2c4b84"/>
<line x1="432.80" y1="562.00" x2="432.80" y2="565.40" stroke="#111" stroke-width="0.9"/>
<rect x="442.65" y="532.80" width="15.5" height="28.0" fill="#a30b2b"/>
<rect x="442.65" y="555.20" width="15.5" height="5.60" fill="#2c4b84"/>
<line x1="450.40" y1="562.00" x2="450.40" y2="565.40" stroke="#111" stroke-width="0.9"/>
<circle cx="450.40" cy="536.65" r="1.05" fill="#fff"/>
<line x1="422.55" y1="529.60" x2="422.55" y2="562.50" stroke="#111" stroke-width="1.1"/>
<line x1="422.05" y1="562.00" x2="461.05" y2="562.00" stroke="#111" stroke-width="1.1"/>
<line x1="419.15" y1="560.80" x2="422.55" y2="560.80" stroke="#000" stroke-width="0.95"/>
<line x1="419.15" y1="557.30" x2="422.55" y2="557.30" stroke="#000" stroke-width="0.95"/>
<line x1="419.15" y1="553.80" x2="422.55" y2="553.80" stroke="#000" stroke-width="0.95"/>
<line x1="419.15" y1="550.30" x2="422.55" y2="550.30" stroke="#000" stroke-width="0.95"/>
<line x1="419.15" y1="546.80" x2="422.55" y2="546.80" stroke="#000" stroke-width="0.95"/>
<line x1="419.15" y1="543.30" x2="422.55" y2="543.30" stroke="#000" stroke-width="0.95"/>
<line x1="419.15" y1="539.80" x2="422.55" y2="539.80" stroke="#000" stroke-width="0.95"/>
<line x1="419.15" y1="536.30" x2="422.55" y2="536.30" stroke="#000" stroke-width="0.95"/>
<line x1="419.15" y1="532.80" x2="422.55" y2="532.80" stroke="#000" stroke-width="0.95"/>
<text x="442.05" y="528.00" font-size="7.1" text-anchor="middle" fill="#2b2b2b">7142</text>
<rect x="476.90" y="532.80" width="15.5" height="28.0" fill="#a30b2b"/>
<rect x="476.90" y="544.84" width="15.5" height="15.96" fill="#2c4b84"/>
<line x1="484.65" y1="562.00" x2="484.65" y2="565.40" stroke="#111" stroke-width="0.9"/>
<rect x="494.50" y="532.80" width="15.5" height="28.0" fill="#a30b2b"/>
<rect x="494.50" y="557.72" width="15.5" height="3.08" fill="#2c4b84"/>
<line x1="502.25" y1="562.00" x2="502.25" y2="565.40" stroke="#111" stroke-width="0.9"/>
<circle cx="502.25" cy="536.65" r="1.05" fill="#fff"/>
<line x1="474.40" y1="529.60" x2="474.40" y2="562.50" stroke="#111" stroke-width="1.1"/>
<line x1="473.90" y1="562.00" x2="512.90" y2="562.00" stroke="#111" stroke-width="1.1"/>
<line x1="471.00" y1="560.80" x2="474.40" y2="560.80" stroke="#000" stroke-width="0.95"/>
<line x1="471.00" y1="557.30" x2="474.40" y2="557.30" stroke="#000" stroke-width="0.95"/>
<line x1="471.00" y1="553.80" x2="474.40" y2="553.80" stroke="#000" stroke-width="0.95"/>
<line x1="471.00" y1="550.30" x2="474.40" y2="550.30" stroke="#000" stroke-width="0.95"/>
<line x1="471.00" y1="546.80" x2="474.40" y2="546.80" stroke="#000" stroke-width="0.95"/>
<line x1="471.00" y1="543.30" x2="474.40" y2="543.30" stroke="#000" stroke-width="0.95"/>
<line x1="471.00" y1="539.80" x2="474.40" y2="539.80" stroke="#000" stroke-width="0.95"/>
<line x1="471.00" y1="536.30" x2="474.40" y2="536.30" stroke="#000" stroke-width="0.95"/>
<line x1="471.00" y1="532.80" x2="474.40" y2="532.80" stroke="#000" stroke-width="0.95"/>
<text x="493.90" y="528.00" font-size="7.1" text-anchor="middle" fill="#2b2b2b">AML0104</text>
<rect x="373.20" y="579.57" width="15.5" height="28.0" fill="#a30b2b"/>
<rect x="373.20" y="596.09" width="15.5" height="11.48" fill="#2c4b84"/>
<line x1="380.95" y1="608.77" x2="380.95" y2="612.17" stroke="#111" stroke-width="0.9"/>
<rect x="390.80" y="579.57" width="15.5" height="28.0" fill="#a30b2b"/>
<line x1="398.55" y1="608.77" x2="398.55" y2="612.17" stroke="#111" stroke-width="0.9"/>
<circle cx="398.55" cy="583.42" r="1.05" fill="#fff"/>
<line x1="370.70" y1="576.37" x2="370.70" y2="609.27" stroke="#111" stroke-width="1.1"/>
<line x1="370.20" y1="608.77" x2="409.20" y2="608.77" stroke="#111" stroke-width="1.1"/>
<line x1="367.30" y1="607.57" x2="370.70" y2="607.57" stroke="#000" stroke-width="0.95"/>
<line x1="367.30" y1="604.07" x2="370.70" y2="604.07" stroke="#000" stroke-width="0.95"/>
<line x1="367.30" y1="600.57" x2="370.70" y2="600.57" stroke="#000" stroke-width="0.95"/>
<line x1="367.30" y1="597.07" x2="370.70" y2="597.07" stroke="#000" stroke-width="0.95"/>
<line x1="367.30" y1="593.57" x2="370.70" y2="593.57" stroke="#000" stroke-width="0.95"/>
<line x1="367.30" y1="590.07" x2="370.70" y2="590.07" stroke="#000" stroke-width="0.95"/>
<line x1="367.30" y1="586.57" x2="370.70" y2="586.57" stroke="#000" stroke-width="0.95"/>
<line x1="367.30" y1="583.07" x2="370.70" y2="583.07" stroke="#000" stroke-width="0.95"/>
<line x1="367.30" y1="579.57" x2="370.70" y2="579.57" stroke="#000" stroke-width="0.95"/>
<text x="364.1" y="609.77" font-size="6.6" text-anchor="end" fill="#2b2b2b" textLength="13" lengthAdjust="spacingAndGlyphs">0.00</text>
<text x="364.1" y="602.77" font-size="6.6" text-anchor="end" fill="#2b2b2b" textLength="13" lengthAdjust="spacingAndGlyphs">0.25</text>
<text x="364.1" y="595.77" font-size="6.6" text-anchor="end" fill="#2b2b2b" textLength="13" lengthAdjust="spacingAndGlyphs">0.50</text>
<text x="364.1" y="588.77" font-size="6.6" text-anchor="end" fill="#2b2b2b" textLength="13" lengthAdjust="spacingAndGlyphs">0.75</text>
<text x="364.1" y="581.77" font-size="6.6" text-anchor="end" fill="#2b2b2b" textLength="13" lengthAdjust="spacingAndGlyphs">1.00</text>
<text x="390.20" y="574.77" font-size="7.1" text-anchor="middle" fill="#2b2b2b">AML0129</text>
<rect x="425.05" y="579.57" width="15.5" height="28.0" fill="#a30b2b"/>
<rect x="425.05" y="594.41" width="15.5" height="13.16" fill="#2c4b84"/>
<line x1="432.80" y1="608.77" x2="432.80" y2="612.17" stroke="#111" stroke-width="0.9"/>
<rect x="442.65" y="579.57" width="15.5" height="28.0" fill="#a30b2b"/>
<rect x="442.65" y="604.77" width="15.5" height="2.80" fill="#2c4b84"/>
<line x1="450.40" y1="608.77" x2="450.40" y2="612.17" stroke="#111" stroke-width="0.9"/>
<circle cx="450.40" cy="583.42" r="1.05" fill="#fff"/>
<line x1="422.55" y1="576.37" x2="422.55" y2="609.27" stroke="#111" stroke-width="1.1"/>
<line x1="422.05" y1="608.77" x2="461.05" y2="608.77" stroke="#111" stroke-width="1.1"/>
<line x1="419.15" y1="607.57" x2="422.55" y2="607.57" stroke="#000" stroke-width="0.95"/>
<line x1="419.15" y1="604.07" x2="422.55" y2="604.07" stroke="#000" stroke-width="0.95"/>
<line x1="419.15" y1="600.57" x2="422.55" y2="600.57" stroke="#000" stroke-width="0.95"/>
<line x1="419.15" y1="597.07" x2="422.55" y2="597.07" stroke="#000" stroke-width="0.95"/>
<line x1="419.15" y1="593.57" x2="422.55" y2="593.57" stroke="#000" stroke-width="0.95"/>
<line x1="419.15" y1="590.07" x2="422.55" y2="590.07" stroke="#000" stroke-width="0.95"/>
<line x1="419.15" y1="586.57" x2="422.55" y2="586.57" stroke="#000" stroke-width="0.95"/>
<line x1="419.15" y1="583.07" x2="422.55" y2="583.07" stroke="#000" stroke-width="0.95"/>
<line x1="419.15" y1="579.57" x2="422.55" y2="579.57" stroke="#000" stroke-width="0.95"/>
<text x="442.05" y="574.77" font-size="7.1" text-anchor="middle" fill="#2b2b2b">AML0135</text>
<rect x="476.90" y="579.57" width="15.5" height="28.0" fill="#a30b2b"/>
<rect x="476.90" y="594.69" width="15.5" height="12.88" fill="#2c4b84"/>
<line x1="484.65" y1="608.77" x2="484.65" y2="612.17" stroke="#111" stroke-width="0.9"/>
<rect x="494.50" y="579.57" width="15.5" height="28.0" fill="#a30b2b"/>
<rect x="494.50" y="606.45" width="15.5" height="1.12" fill="#2c4b84"/>
<line x1="502.25" y1="608.77" x2="502.25" y2="612.17" stroke="#111" stroke-width="0.9"/>
<circle cx="502.25" cy="583.42" r="1.05" fill="#fff"/>
<line x1="474.40" y1="576.37" x2="474.40" y2="609.27" stroke="#111" stroke-width="1.1"/>
<line x1="473.90" y1="608.77" x2="512.90" y2="608.77" stroke="#111" stroke-width="1.1"/>
<line x1="471.00" y1="607.57" x2="474.40" y2="607.57" stroke="#000" stroke-width="0.95"/>
<line x1="471.00" y1="604.07" x2="474.40" y2="604.07" stroke="#000" stroke-width="0.95"/>
<line x1="471.00" y1="600.57" x2="474.40" y2="600.57" stroke="#000" stroke-width="0.95"/>
<line x1="471.00" y1="597.07" x2="474.40" y2="597.07" stroke="#000" stroke-width="0.95"/>
<line x1="471.00" y1="593.57" x2="474.40" y2="593.57" stroke="#000" stroke-width="0.95"/>
<line x1="471.00" y1="590.07" x2="474.40" y2="590.07" stroke="#000" stroke-width="0.95"/>
<line x1="471.00" y1="586.57" x2="474.40" y2="586.57" stroke="#000" stroke-width="0.95"/>
<line x1="471.00" y1="583.07" x2="474.40" y2="583.07" stroke="#000" stroke-width="0.95"/>
<line x1="471.00" y1="579.57" x2="474.40" y2="579.57" stroke="#000" stroke-width="0.95"/>
<text x="493.90" y="574.77" font-size="7.1" text-anchor="middle" fill="#2b2b2b">UKR169</text>
<text x="381.20" y="621.6" font-size="7.3" text-anchor="middle" fill="#2b2b2b">DNA</text>
<text x="398.70" y="621.6" font-size="7.3" text-anchor="middle" fill="#2b2b2b">RNA</text>
<text x="433.05" y="621.6" font-size="7.3" text-anchor="middle" fill="#2b2b2b">DNA</text>
<text x="450.55" y="621.6" font-size="7.3" text-anchor="middle" fill="#2b2b2b">RNA</text>
<text x="484.90" y="621.6" font-size="7.3" text-anchor="middle" fill="#2b2b2b">DNA</text>
<text x="502.40" y="621.6" font-size="7.3" text-anchor="middle" fill="#2b2b2b">RNA</text>
<text x="441.6" y="634.6" font-size="9.4" text-anchor="middle" fill="#2b2b2b" textLength="22" lengthAdjust="spacingAndGlyphs">Patient</text>
<text transform="translate(344.6,452.7) rotate(-90)" font-size="8.2" text-anchor="middle" fill="#2b2b2b" textLength="12" lengthAdjust="spacingAndGlyphs">VAF</text>
<rect x="0.5" y="0.5" width="519" height="643" fill="none" stroke="#000" stroke-width="1"/>
</svg></body></html>
